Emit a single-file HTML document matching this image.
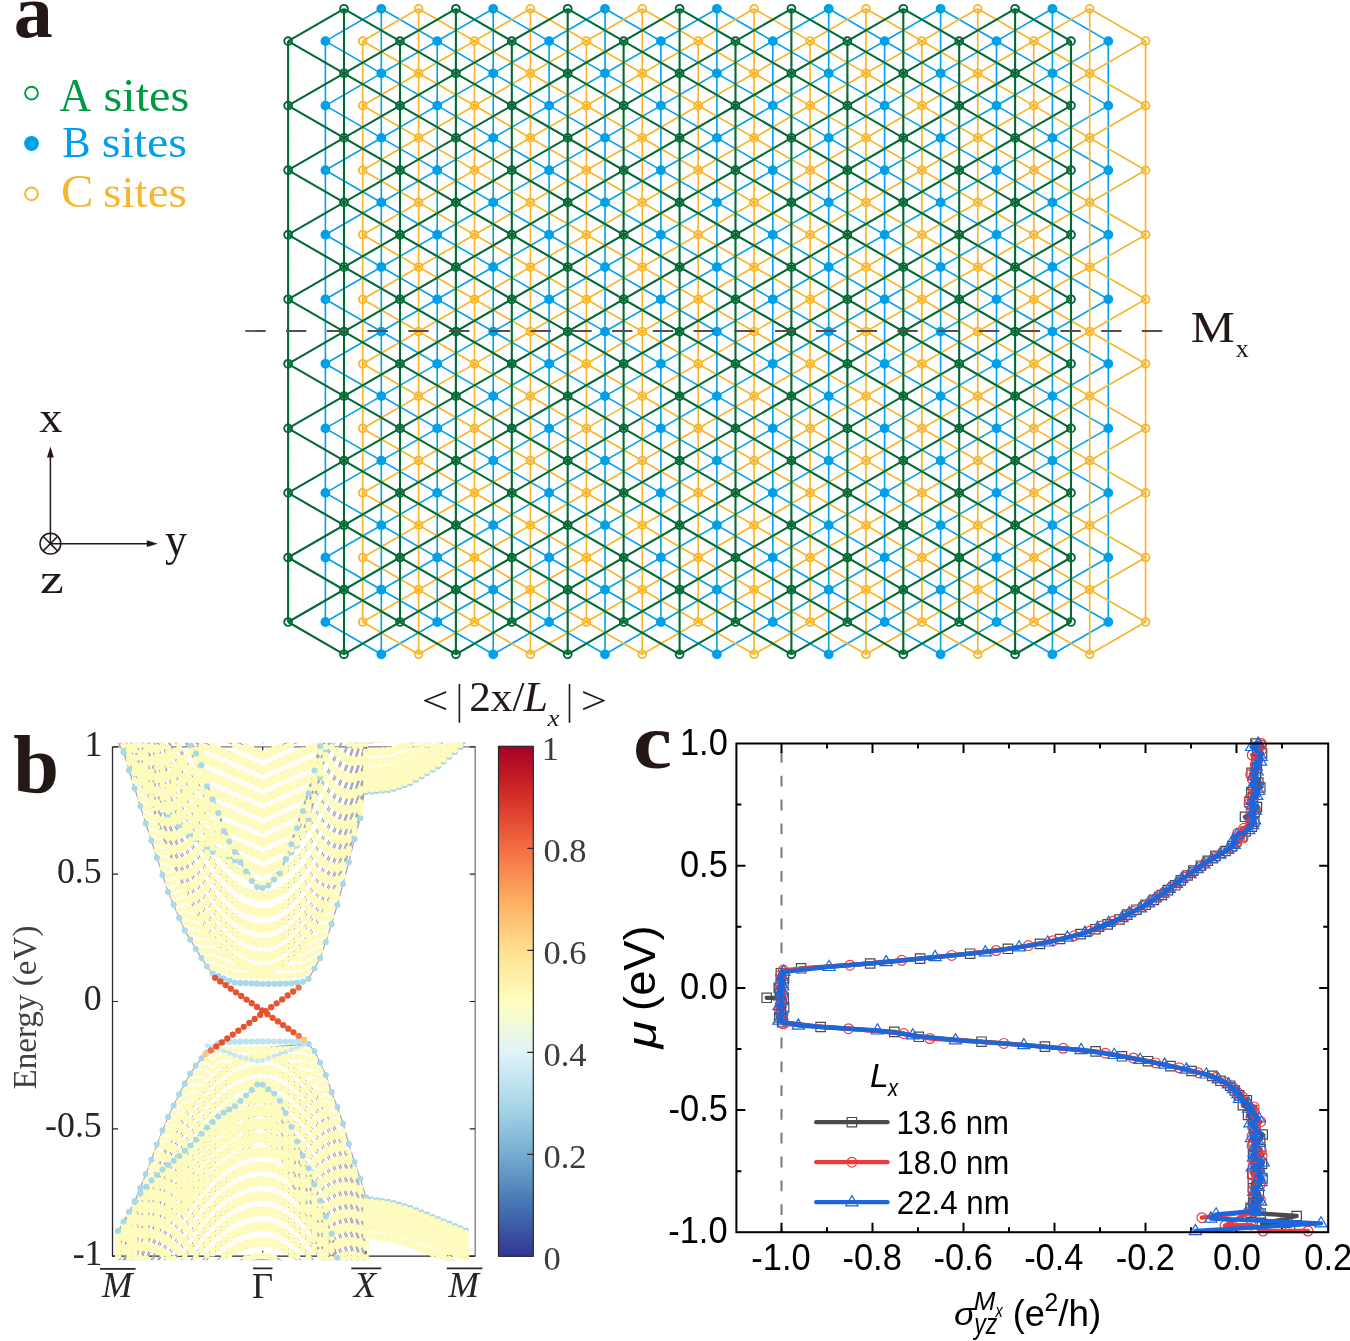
<!DOCTYPE html><html><head><meta charset="utf-8"><style>svg{will-change:transform}html,body{margin:0;padding:0;background:#fff;width:1350px;height:1341px;overflow:hidden;position:relative}</style></head><body><svg width="1350" height="1341" viewBox="0 0 1350 1341" style="position:absolute;left:0;top:0;display:block">
<rect width="1350" height="1341" fill="#fff"/>
<path d="M381.3 8.8L381.3 654.3M493.2 8.8L493.2 654.3M605 8.8L605 654.3M716.9 8.8L716.9 654.3M828.7 8.8L828.7 654.3M940.6 8.8L940.6 654.3M1052.4 8.8L1052.4 654.3M325.4 41.1L325.4 622M437.2 41.1L437.2 622M549.1 41.1L549.1 622M660.9 41.1L660.9 622M772.8 41.1L772.8 622M884.6 41.1L884.6 622M996.5 41.1L996.5 622M1108.3 41.1L1108.3 622M381.3 8.8L325.4 41.1M493.2 8.8L325.4 105.6M605 8.8L325.4 170.2M716.9 8.8L325.4 234.7M828.7 8.8L325.4 299.3M940.6 8.8L325.4 363.8M1052.4 8.8L325.4 428.4M1108.3 41.1L325.4 492.9M1108.3 105.6L325.4 557.5M1108.3 170.2L325.4 622M1108.3 234.7L381.3 654.3M1108.3 299.3L493.2 654.3M1108.3 363.8L605 654.3M1108.3 428.4L716.9 654.3M1108.3 492.9L828.7 654.3M1108.3 557.5L940.6 654.3M1108.3 622L1052.4 654.3M381.3 8.8L1108.3 428.4M493.2 8.8L1108.3 363.8M605 8.8L1108.3 299.3M716.9 8.8L1108.3 234.7M828.7 8.8L1108.3 170.2M940.6 8.8L1108.3 105.6M1052.4 8.8L1108.3 41.1M325.4 41.1L1108.3 492.9M325.4 105.6L1108.3 557.5M325.4 170.2L1108.3 622M325.4 234.7L1052.4 654.3M325.4 299.3L940.6 654.3M325.4 363.8L828.7 654.3M325.4 428.4L716.9 654.3M325.4 492.9L605 654.3M325.4 557.5L493.2 654.3M325.4 622L381.3 654.3" stroke="#00a0e9" stroke-width="1.6" fill="none"/>
<path d="M418.6 8.8L418.6 654.3M530.4 8.8L530.4 654.3M642.3 8.8L642.3 654.3M754.1 8.8L754.1 654.3M866 8.8L866 654.3M977.8 8.8L977.8 654.3M1089.7 8.8L1089.7 654.3M362.7 41.1L362.7 622M474.5 41.1L474.5 622M586.4 41.1L586.4 622M698.2 41.1L698.2 622M810.1 41.1L810.1 622M921.9 41.1L921.9 622M1033.8 41.1L1033.8 622M1145.6 41.1L1145.6 622M418.6 8.8L362.7 41.1M530.4 8.8L362.7 105.6M642.3 8.8L362.7 170.2M754.1 8.8L362.7 234.7M866 8.8L362.7 299.3M977.8 8.8L362.7 363.8M1089.7 8.8L362.7 428.4M1145.6 41.1L362.7 492.9M1145.6 105.6L362.7 557.5M1145.6 170.2L362.7 622M1145.6 234.7L418.6 654.3M1145.6 299.3L530.4 654.3M1145.6 363.8L642.3 654.3M1145.6 428.4L754.1 654.3M1145.6 492.9L866 654.3M1145.6 557.5L977.8 654.3M1145.6 622L1089.7 654.3M418.6 8.8L1145.6 428.4M530.4 8.8L1145.6 363.8M642.3 8.8L1145.6 299.3M754.1 8.8L1145.6 234.7M866 8.8L1145.6 170.2M977.8 8.8L1145.6 105.6M1089.7 8.8L1145.6 41.1M362.7 41.1L1145.6 492.9M362.7 105.6L1145.6 557.5M362.7 170.2L1145.6 622M362.7 234.7L1089.7 654.3M362.7 299.3L977.8 654.3M362.7 363.8L866 654.3M362.7 428.4L754.1 654.3M362.7 492.9L642.3 654.3M362.7 557.5L530.4 654.3M362.7 622L418.6 654.3" stroke="#f8b62d" stroke-width="1.7" fill="none"/>
<path d="M344 8.8L344 654.3M455.9 8.8L455.9 654.3M567.7 8.8L567.7 654.3M679.6 8.8L679.6 654.3M791.4 8.8L791.4 654.3M903.3 8.8L903.3 654.3M1015.1 8.8L1015.1 654.3M288.1 41.1L288.1 622M400 41.1L400 622M511.8 41.1L511.8 622M623.6 41.1L623.6 622M735.5 41.1L735.5 622M847.4 41.1L847.4 622M959.2 41.1L959.2 622M1071 41.1L1071 622M344 8.8L288.1 41.1M455.9 8.8L288.1 105.6M567.7 8.8L288.1 170.2M679.6 8.8L288.1 234.7M791.4 8.8L288.1 299.3M903.3 8.8L288.1 363.8M1015.1 8.8L288.1 428.4M1071 41.1L288.1 492.9M1071 105.6L288.1 557.5M1071 170.2L288.1 622M1071 234.7L344 654.3M1071 299.3L455.9 654.3M1071 363.8L567.7 654.3M1071 428.4L679.6 654.3M1071 492.9L791.4 654.3M1071 557.5L903.3 654.3M1071 622L1015.1 654.3M344 8.8L1071 428.4M455.9 8.8L1071 363.8M567.7 8.8L1071 299.3M679.6 8.8L1071 234.7M791.4 8.8L1071 170.2M903.3 8.8L1071 105.6M1015.1 8.8L1071 41.1M288.1 41.1L1071 492.9M288.1 105.6L1071 557.5M288.1 170.2L1071 622M288.1 234.7L1015.1 654.3M288.1 299.3L903.3 654.3M288.1 363.8L791.4 654.3M288.1 428.4L679.6 654.3M288.1 492.9L567.7 654.3M288.1 557.5L455.9 654.3M288.1 622L344 654.3" stroke="#006934" stroke-width="2.1" fill="none"/>
<path d="M381.3 8.8h0M493.2 8.8h0M605 8.8h0M716.9 8.8h0M828.7 8.8h0M940.6 8.8h0M1052.4 8.8h0M325.4 41.1h0M437.2 41.1h0M549.1 41.1h0M660.9 41.1h0M772.8 41.1h0M884.6 41.1h0M996.5 41.1h0M1108.3 41.1h0M381.3 73.3h0M493.2 73.3h0M605 73.3h0M716.9 73.3h0M828.7 73.3h0M940.6 73.3h0M1052.4 73.3h0M325.4 105.6h0M437.2 105.6h0M549.1 105.6h0M660.9 105.6h0M772.8 105.6h0M884.6 105.6h0M996.5 105.6h0M1108.3 105.6h0M381.3 137.9h0M493.2 137.9h0M605 137.9h0M716.9 137.9h0M828.7 137.9h0M940.6 137.9h0M1052.4 137.9h0M325.4 170.2h0M437.2 170.2h0M549.1 170.2h0M660.9 170.2h0M772.8 170.2h0M884.6 170.2h0M996.5 170.2h0M1108.3 170.2h0M381.3 202.4h0M493.2 202.4h0M605 202.4h0M716.9 202.4h0M828.7 202.4h0M940.6 202.4h0M1052.4 202.4h0M325.4 234.7h0M437.2 234.7h0M549.1 234.7h0M660.9 234.7h0M772.8 234.7h0M884.6 234.7h0M996.5 234.7h0M1108.3 234.7h0M381.3 267h0M493.2 267h0M605 267h0M716.9 267h0M828.7 267h0M940.6 267h0M1052.4 267h0M325.4 299.3h0M437.2 299.3h0M549.1 299.3h0M660.9 299.3h0M772.8 299.3h0M884.6 299.3h0M996.5 299.3h0M1108.3 299.3h0M381.3 331.6h0M493.2 331.6h0M605 331.6h0M716.9 331.6h0M828.7 331.6h0M940.6 331.6h0M1052.4 331.6h0M325.4 363.8h0M437.2 363.8h0M549.1 363.8h0M660.9 363.8h0M772.8 363.8h0M884.6 363.8h0M996.5 363.8h0M1108.3 363.8h0M381.3 396.1h0M493.2 396.1h0M605 396.1h0M716.9 396.1h0M828.7 396.1h0M940.6 396.1h0M1052.4 396.1h0M325.4 428.4h0M437.2 428.4h0M549.1 428.4h0M660.9 428.4h0M772.8 428.4h0M884.6 428.4h0M996.5 428.4h0M1108.3 428.4h0M381.3 460.6h0M493.2 460.6h0M605 460.6h0M716.9 460.6h0M828.7 460.6h0M940.6 460.6h0M1052.4 460.6h0M325.4 492.9h0M437.2 492.9h0M549.1 492.9h0M660.9 492.9h0M772.8 492.9h0M884.6 492.9h0M996.5 492.9h0M1108.3 492.9h0M381.3 525.2h0M493.2 525.2h0M605 525.2h0M716.9 525.2h0M828.7 525.2h0M940.6 525.2h0M1052.4 525.2h0M325.4 557.5h0M437.2 557.5h0M549.1 557.5h0M660.9 557.5h0M772.8 557.5h0M884.6 557.5h0M996.5 557.5h0M1108.3 557.5h0M381.3 589.7h0M493.2 589.7h0M605 589.7h0M716.9 589.7h0M828.7 589.7h0M940.6 589.7h0M1052.4 589.7h0M325.4 622h0M437.2 622h0M549.1 622h0M660.9 622h0M772.8 622h0M884.6 622h0M996.5 622h0M1108.3 622h0M381.3 654.3h0M493.2 654.3h0M605 654.3h0M716.9 654.3h0M828.7 654.3h0M940.6 654.3h0M1052.4 654.3h0" stroke="#00a0e9" stroke-width="9.8" stroke-linecap="round" fill="none"/>
<path d="M414.7 8.8a3.9 3.9 0 1 0 7.8 0a3.9 3.9 0 1 0 -7.8 0M526.5 8.8a3.9 3.9 0 1 0 7.8 0a3.9 3.9 0 1 0 -7.8 0M638.4 8.8a3.9 3.9 0 1 0 7.8 0a3.9 3.9 0 1 0 -7.8 0M750.2 8.8a3.9 3.9 0 1 0 7.8 0a3.9 3.9 0 1 0 -7.8 0M862.1 8.8a3.9 3.9 0 1 0 7.8 0a3.9 3.9 0 1 0 -7.8 0M973.9 8.8a3.9 3.9 0 1 0 7.8 0a3.9 3.9 0 1 0 -7.8 0M1085.8 8.8a3.9 3.9 0 1 0 7.8 0a3.9 3.9 0 1 0 -7.8 0M358.8 41.1a3.9 3.9 0 1 0 7.8 0a3.9 3.9 0 1 0 -7.8 0M470.6 41.1a3.9 3.9 0 1 0 7.8 0a3.9 3.9 0 1 0 -7.8 0M582.5 41.1a3.9 3.9 0 1 0 7.8 0a3.9 3.9 0 1 0 -7.8 0M694.3 41.1a3.9 3.9 0 1 0 7.8 0a3.9 3.9 0 1 0 -7.8 0M806.2 41.1a3.9 3.9 0 1 0 7.8 0a3.9 3.9 0 1 0 -7.8 0M918 41.1a3.9 3.9 0 1 0 7.8 0a3.9 3.9 0 1 0 -7.8 0M1029.9 41.1a3.9 3.9 0 1 0 7.8 0a3.9 3.9 0 1 0 -7.8 0M1141.7 41.1a3.9 3.9 0 1 0 7.8 0a3.9 3.9 0 1 0 -7.8 0M414.7 73.3a3.9 3.9 0 1 0 7.8 0a3.9 3.9 0 1 0 -7.8 0M526.5 73.3a3.9 3.9 0 1 0 7.8 0a3.9 3.9 0 1 0 -7.8 0M638.4 73.3a3.9 3.9 0 1 0 7.8 0a3.9 3.9 0 1 0 -7.8 0M750.2 73.3a3.9 3.9 0 1 0 7.8 0a3.9 3.9 0 1 0 -7.8 0M862.1 73.3a3.9 3.9 0 1 0 7.8 0a3.9 3.9 0 1 0 -7.8 0M973.9 73.3a3.9 3.9 0 1 0 7.8 0a3.9 3.9 0 1 0 -7.8 0M1085.8 73.3a3.9 3.9 0 1 0 7.8 0a3.9 3.9 0 1 0 -7.8 0M358.8 105.6a3.9 3.9 0 1 0 7.8 0a3.9 3.9 0 1 0 -7.8 0M470.6 105.6a3.9 3.9 0 1 0 7.8 0a3.9 3.9 0 1 0 -7.8 0M582.5 105.6a3.9 3.9 0 1 0 7.8 0a3.9 3.9 0 1 0 -7.8 0M694.3 105.6a3.9 3.9 0 1 0 7.8 0a3.9 3.9 0 1 0 -7.8 0M806.2 105.6a3.9 3.9 0 1 0 7.8 0a3.9 3.9 0 1 0 -7.8 0M918 105.6a3.9 3.9 0 1 0 7.8 0a3.9 3.9 0 1 0 -7.8 0M1029.9 105.6a3.9 3.9 0 1 0 7.8 0a3.9 3.9 0 1 0 -7.8 0M1141.7 105.6a3.9 3.9 0 1 0 7.8 0a3.9 3.9 0 1 0 -7.8 0M414.7 137.9a3.9 3.9 0 1 0 7.8 0a3.9 3.9 0 1 0 -7.8 0M526.5 137.9a3.9 3.9 0 1 0 7.8 0a3.9 3.9 0 1 0 -7.8 0M638.4 137.9a3.9 3.9 0 1 0 7.8 0a3.9 3.9 0 1 0 -7.8 0M750.2 137.9a3.9 3.9 0 1 0 7.8 0a3.9 3.9 0 1 0 -7.8 0M862.1 137.9a3.9 3.9 0 1 0 7.8 0a3.9 3.9 0 1 0 -7.8 0M973.9 137.9a3.9 3.9 0 1 0 7.8 0a3.9 3.9 0 1 0 -7.8 0M1085.8 137.9a3.9 3.9 0 1 0 7.8 0a3.9 3.9 0 1 0 -7.8 0M358.8 170.2a3.9 3.9 0 1 0 7.8 0a3.9 3.9 0 1 0 -7.8 0M470.6 170.2a3.9 3.9 0 1 0 7.8 0a3.9 3.9 0 1 0 -7.8 0M582.5 170.2a3.9 3.9 0 1 0 7.8 0a3.9 3.9 0 1 0 -7.8 0M694.3 170.2a3.9 3.9 0 1 0 7.8 0a3.9 3.9 0 1 0 -7.8 0M806.2 170.2a3.9 3.9 0 1 0 7.8 0a3.9 3.9 0 1 0 -7.8 0M918 170.2a3.9 3.9 0 1 0 7.8 0a3.9 3.9 0 1 0 -7.8 0M1029.9 170.2a3.9 3.9 0 1 0 7.8 0a3.9 3.9 0 1 0 -7.8 0M1141.7 170.2a3.9 3.9 0 1 0 7.8 0a3.9 3.9 0 1 0 -7.8 0M414.7 202.4a3.9 3.9 0 1 0 7.8 0a3.9 3.9 0 1 0 -7.8 0M526.5 202.4a3.9 3.9 0 1 0 7.8 0a3.9 3.9 0 1 0 -7.8 0M638.4 202.4a3.9 3.9 0 1 0 7.8 0a3.9 3.9 0 1 0 -7.8 0M750.2 202.4a3.9 3.9 0 1 0 7.8 0a3.9 3.9 0 1 0 -7.8 0M862.1 202.4a3.9 3.9 0 1 0 7.8 0a3.9 3.9 0 1 0 -7.8 0M973.9 202.4a3.9 3.9 0 1 0 7.8 0a3.9 3.9 0 1 0 -7.8 0M1085.8 202.4a3.9 3.9 0 1 0 7.8 0a3.9 3.9 0 1 0 -7.8 0M358.8 234.7a3.9 3.9 0 1 0 7.8 0a3.9 3.9 0 1 0 -7.8 0M470.6 234.7a3.9 3.9 0 1 0 7.8 0a3.9 3.9 0 1 0 -7.8 0M582.5 234.7a3.9 3.9 0 1 0 7.8 0a3.9 3.9 0 1 0 -7.8 0M694.3 234.7a3.9 3.9 0 1 0 7.8 0a3.9 3.9 0 1 0 -7.8 0M806.2 234.7a3.9 3.9 0 1 0 7.8 0a3.9 3.9 0 1 0 -7.8 0M918 234.7a3.9 3.9 0 1 0 7.8 0a3.9 3.9 0 1 0 -7.8 0M1029.9 234.7a3.9 3.9 0 1 0 7.8 0a3.9 3.9 0 1 0 -7.8 0M1141.7 234.7a3.9 3.9 0 1 0 7.8 0a3.9 3.9 0 1 0 -7.8 0M414.7 267a3.9 3.9 0 1 0 7.8 0a3.9 3.9 0 1 0 -7.8 0M526.5 267a3.9 3.9 0 1 0 7.8 0a3.9 3.9 0 1 0 -7.8 0M638.4 267a3.9 3.9 0 1 0 7.8 0a3.9 3.9 0 1 0 -7.8 0M750.2 267a3.9 3.9 0 1 0 7.8 0a3.9 3.9 0 1 0 -7.8 0M862.1 267a3.9 3.9 0 1 0 7.8 0a3.9 3.9 0 1 0 -7.8 0M973.9 267a3.9 3.9 0 1 0 7.8 0a3.9 3.9 0 1 0 -7.8 0M1085.8 267a3.9 3.9 0 1 0 7.8 0a3.9 3.9 0 1 0 -7.8 0M358.8 299.3a3.9 3.9 0 1 0 7.8 0a3.9 3.9 0 1 0 -7.8 0M470.6 299.3a3.9 3.9 0 1 0 7.8 0a3.9 3.9 0 1 0 -7.8 0M582.5 299.3a3.9 3.9 0 1 0 7.8 0a3.9 3.9 0 1 0 -7.8 0M694.3 299.3a3.9 3.9 0 1 0 7.8 0a3.9 3.9 0 1 0 -7.8 0M806.2 299.3a3.9 3.9 0 1 0 7.8 0a3.9 3.9 0 1 0 -7.8 0M918 299.3a3.9 3.9 0 1 0 7.8 0a3.9 3.9 0 1 0 -7.8 0M1029.9 299.3a3.9 3.9 0 1 0 7.8 0a3.9 3.9 0 1 0 -7.8 0M1141.7 299.3a3.9 3.9 0 1 0 7.8 0a3.9 3.9 0 1 0 -7.8 0M414.7 331.6a3.9 3.9 0 1 0 7.8 0a3.9 3.9 0 1 0 -7.8 0M526.5 331.6a3.9 3.9 0 1 0 7.8 0a3.9 3.9 0 1 0 -7.8 0M638.4 331.6a3.9 3.9 0 1 0 7.8 0a3.9 3.9 0 1 0 -7.8 0M750.2 331.6a3.9 3.9 0 1 0 7.8 0a3.9 3.9 0 1 0 -7.8 0M862.1 331.6a3.9 3.9 0 1 0 7.8 0a3.9 3.9 0 1 0 -7.8 0M973.9 331.6a3.9 3.9 0 1 0 7.8 0a3.9 3.9 0 1 0 -7.8 0M1085.8 331.6a3.9 3.9 0 1 0 7.8 0a3.9 3.9 0 1 0 -7.8 0M358.8 363.8a3.9 3.9 0 1 0 7.8 0a3.9 3.9 0 1 0 -7.8 0M470.6 363.8a3.9 3.9 0 1 0 7.8 0a3.9 3.9 0 1 0 -7.8 0M582.5 363.8a3.9 3.9 0 1 0 7.8 0a3.9 3.9 0 1 0 -7.8 0M694.3 363.8a3.9 3.9 0 1 0 7.8 0a3.9 3.9 0 1 0 -7.8 0M806.2 363.8a3.9 3.9 0 1 0 7.8 0a3.9 3.9 0 1 0 -7.8 0M918 363.8a3.9 3.9 0 1 0 7.8 0a3.9 3.9 0 1 0 -7.8 0M1029.9 363.8a3.9 3.9 0 1 0 7.8 0a3.9 3.9 0 1 0 -7.8 0M1141.7 363.8a3.9 3.9 0 1 0 7.8 0a3.9 3.9 0 1 0 -7.8 0M414.7 396.1a3.9 3.9 0 1 0 7.8 0a3.9 3.9 0 1 0 -7.8 0M526.5 396.1a3.9 3.9 0 1 0 7.8 0a3.9 3.9 0 1 0 -7.8 0M638.4 396.1a3.9 3.9 0 1 0 7.8 0a3.9 3.9 0 1 0 -7.8 0M750.2 396.1a3.9 3.9 0 1 0 7.8 0a3.9 3.9 0 1 0 -7.8 0M862.1 396.1a3.9 3.9 0 1 0 7.8 0a3.9 3.9 0 1 0 -7.8 0M973.9 396.1a3.9 3.9 0 1 0 7.8 0a3.9 3.9 0 1 0 -7.8 0M1085.8 396.1a3.9 3.9 0 1 0 7.8 0a3.9 3.9 0 1 0 -7.8 0M358.8 428.4a3.9 3.9 0 1 0 7.8 0a3.9 3.9 0 1 0 -7.8 0M470.6 428.4a3.9 3.9 0 1 0 7.8 0a3.9 3.9 0 1 0 -7.8 0M582.5 428.4a3.9 3.9 0 1 0 7.8 0a3.9 3.9 0 1 0 -7.8 0M694.3 428.4a3.9 3.9 0 1 0 7.8 0a3.9 3.9 0 1 0 -7.8 0M806.2 428.4a3.9 3.9 0 1 0 7.8 0a3.9 3.9 0 1 0 -7.8 0M918 428.4a3.9 3.9 0 1 0 7.8 0a3.9 3.9 0 1 0 -7.8 0M1029.9 428.4a3.9 3.9 0 1 0 7.8 0a3.9 3.9 0 1 0 -7.8 0M1141.7 428.4a3.9 3.9 0 1 0 7.8 0a3.9 3.9 0 1 0 -7.8 0M414.7 460.6a3.9 3.9 0 1 0 7.8 0a3.9 3.9 0 1 0 -7.8 0M526.5 460.6a3.9 3.9 0 1 0 7.8 0a3.9 3.9 0 1 0 -7.8 0M638.4 460.6a3.9 3.9 0 1 0 7.8 0a3.9 3.9 0 1 0 -7.8 0M750.2 460.6a3.9 3.9 0 1 0 7.8 0a3.9 3.9 0 1 0 -7.8 0M862.1 460.6a3.9 3.9 0 1 0 7.8 0a3.9 3.9 0 1 0 -7.8 0M973.9 460.6a3.9 3.9 0 1 0 7.8 0a3.9 3.9 0 1 0 -7.8 0M1085.8 460.6a3.9 3.9 0 1 0 7.8 0a3.9 3.9 0 1 0 -7.8 0M358.8 492.9a3.9 3.9 0 1 0 7.8 0a3.9 3.9 0 1 0 -7.8 0M470.6 492.9a3.9 3.9 0 1 0 7.8 0a3.9 3.9 0 1 0 -7.8 0M582.5 492.9a3.9 3.9 0 1 0 7.8 0a3.9 3.9 0 1 0 -7.8 0M694.3 492.9a3.9 3.9 0 1 0 7.8 0a3.9 3.9 0 1 0 -7.8 0M806.2 492.9a3.9 3.9 0 1 0 7.8 0a3.9 3.9 0 1 0 -7.8 0M918 492.9a3.9 3.9 0 1 0 7.8 0a3.9 3.9 0 1 0 -7.8 0M1029.9 492.9a3.9 3.9 0 1 0 7.8 0a3.9 3.9 0 1 0 -7.8 0M1141.7 492.9a3.9 3.9 0 1 0 7.8 0a3.9 3.9 0 1 0 -7.8 0M414.7 525.2a3.9 3.9 0 1 0 7.8 0a3.9 3.9 0 1 0 -7.8 0M526.5 525.2a3.9 3.9 0 1 0 7.8 0a3.9 3.9 0 1 0 -7.8 0M638.4 525.2a3.9 3.9 0 1 0 7.8 0a3.9 3.9 0 1 0 -7.8 0M750.2 525.2a3.9 3.9 0 1 0 7.8 0a3.9 3.9 0 1 0 -7.8 0M862.1 525.2a3.9 3.9 0 1 0 7.8 0a3.9 3.9 0 1 0 -7.8 0M973.9 525.2a3.9 3.9 0 1 0 7.8 0a3.9 3.9 0 1 0 -7.8 0M1085.8 525.2a3.9 3.9 0 1 0 7.8 0a3.9 3.9 0 1 0 -7.8 0M358.8 557.5a3.9 3.9 0 1 0 7.8 0a3.9 3.9 0 1 0 -7.8 0M470.6 557.5a3.9 3.9 0 1 0 7.8 0a3.9 3.9 0 1 0 -7.8 0M582.5 557.5a3.9 3.9 0 1 0 7.8 0a3.9 3.9 0 1 0 -7.8 0M694.3 557.5a3.9 3.9 0 1 0 7.8 0a3.9 3.9 0 1 0 -7.8 0M806.2 557.5a3.9 3.9 0 1 0 7.8 0a3.9 3.9 0 1 0 -7.8 0M918 557.5a3.9 3.9 0 1 0 7.8 0a3.9 3.9 0 1 0 -7.8 0M1029.9 557.5a3.9 3.9 0 1 0 7.8 0a3.9 3.9 0 1 0 -7.8 0M1141.7 557.5a3.9 3.9 0 1 0 7.8 0a3.9 3.9 0 1 0 -7.8 0M414.7 589.7a3.9 3.9 0 1 0 7.8 0a3.9 3.9 0 1 0 -7.8 0M526.5 589.7a3.9 3.9 0 1 0 7.8 0a3.9 3.9 0 1 0 -7.8 0M638.4 589.7a3.9 3.9 0 1 0 7.8 0a3.9 3.9 0 1 0 -7.8 0M750.2 589.7a3.9 3.9 0 1 0 7.8 0a3.9 3.9 0 1 0 -7.8 0M862.1 589.7a3.9 3.9 0 1 0 7.8 0a3.9 3.9 0 1 0 -7.8 0M973.9 589.7a3.9 3.9 0 1 0 7.8 0a3.9 3.9 0 1 0 -7.8 0M1085.8 589.7a3.9 3.9 0 1 0 7.8 0a3.9 3.9 0 1 0 -7.8 0M358.8 622a3.9 3.9 0 1 0 7.8 0a3.9 3.9 0 1 0 -7.8 0M470.6 622a3.9 3.9 0 1 0 7.8 0a3.9 3.9 0 1 0 -7.8 0M582.5 622a3.9 3.9 0 1 0 7.8 0a3.9 3.9 0 1 0 -7.8 0M694.3 622a3.9 3.9 0 1 0 7.8 0a3.9 3.9 0 1 0 -7.8 0M806.2 622a3.9 3.9 0 1 0 7.8 0a3.9 3.9 0 1 0 -7.8 0M918 622a3.9 3.9 0 1 0 7.8 0a3.9 3.9 0 1 0 -7.8 0M1029.9 622a3.9 3.9 0 1 0 7.8 0a3.9 3.9 0 1 0 -7.8 0M1141.7 622a3.9 3.9 0 1 0 7.8 0a3.9 3.9 0 1 0 -7.8 0M414.7 654.3a3.9 3.9 0 1 0 7.8 0a3.9 3.9 0 1 0 -7.8 0M526.5 654.3a3.9 3.9 0 1 0 7.8 0a3.9 3.9 0 1 0 -7.8 0M638.4 654.3a3.9 3.9 0 1 0 7.8 0a3.9 3.9 0 1 0 -7.8 0M750.2 654.3a3.9 3.9 0 1 0 7.8 0a3.9 3.9 0 1 0 -7.8 0M862.1 654.3a3.9 3.9 0 1 0 7.8 0a3.9 3.9 0 1 0 -7.8 0M973.9 654.3a3.9 3.9 0 1 0 7.8 0a3.9 3.9 0 1 0 -7.8 0M1085.8 654.3a3.9 3.9 0 1 0 7.8 0a3.9 3.9 0 1 0 -7.8 0" stroke="#f8b62d" stroke-width="1.8" fill="none"/>
<path d="M340.1 8.8a3.9 3.9 0 1 0 7.8 0a3.9 3.9 0 1 0 -7.8 0M452 8.8a3.9 3.9 0 1 0 7.8 0a3.9 3.9 0 1 0 -7.8 0M563.8 8.8a3.9 3.9 0 1 0 7.8 0a3.9 3.9 0 1 0 -7.8 0M675.7 8.8a3.9 3.9 0 1 0 7.8 0a3.9 3.9 0 1 0 -7.8 0M787.5 8.8a3.9 3.9 0 1 0 7.8 0a3.9 3.9 0 1 0 -7.8 0M899.4 8.8a3.9 3.9 0 1 0 7.8 0a3.9 3.9 0 1 0 -7.8 0M1011.2 8.8a3.9 3.9 0 1 0 7.8 0a3.9 3.9 0 1 0 -7.8 0M284.2 41.1a3.9 3.9 0 1 0 7.8 0a3.9 3.9 0 1 0 -7.8 0M396.1 41.1a3.9 3.9 0 1 0 7.8 0a3.9 3.9 0 1 0 -7.8 0M507.9 41.1a3.9 3.9 0 1 0 7.8 0a3.9 3.9 0 1 0 -7.8 0M619.8 41.1a3.9 3.9 0 1 0 7.8 0a3.9 3.9 0 1 0 -7.8 0M731.6 41.1a3.9 3.9 0 1 0 7.8 0a3.9 3.9 0 1 0 -7.8 0M843.5 41.1a3.9 3.9 0 1 0 7.8 0a3.9 3.9 0 1 0 -7.8 0M955.3 41.1a3.9 3.9 0 1 0 7.8 0a3.9 3.9 0 1 0 -7.8 0M1067.1 41.1a3.9 3.9 0 1 0 7.8 0a3.9 3.9 0 1 0 -7.8 0M340.1 73.3a3.9 3.9 0 1 0 7.8 0a3.9 3.9 0 1 0 -7.8 0M452 73.3a3.9 3.9 0 1 0 7.8 0a3.9 3.9 0 1 0 -7.8 0M563.8 73.3a3.9 3.9 0 1 0 7.8 0a3.9 3.9 0 1 0 -7.8 0M675.7 73.3a3.9 3.9 0 1 0 7.8 0a3.9 3.9 0 1 0 -7.8 0M787.5 73.3a3.9 3.9 0 1 0 7.8 0a3.9 3.9 0 1 0 -7.8 0M899.4 73.3a3.9 3.9 0 1 0 7.8 0a3.9 3.9 0 1 0 -7.8 0M1011.2 73.3a3.9 3.9 0 1 0 7.8 0a3.9 3.9 0 1 0 -7.8 0M284.2 105.6a3.9 3.9 0 1 0 7.8 0a3.9 3.9 0 1 0 -7.8 0M396.1 105.6a3.9 3.9 0 1 0 7.8 0a3.9 3.9 0 1 0 -7.8 0M507.9 105.6a3.9 3.9 0 1 0 7.8 0a3.9 3.9 0 1 0 -7.8 0M619.8 105.6a3.9 3.9 0 1 0 7.8 0a3.9 3.9 0 1 0 -7.8 0M731.6 105.6a3.9 3.9 0 1 0 7.8 0a3.9 3.9 0 1 0 -7.8 0M843.5 105.6a3.9 3.9 0 1 0 7.8 0a3.9 3.9 0 1 0 -7.8 0M955.3 105.6a3.9 3.9 0 1 0 7.8 0a3.9 3.9 0 1 0 -7.8 0M1067.1 105.6a3.9 3.9 0 1 0 7.8 0a3.9 3.9 0 1 0 -7.8 0M340.1 137.9a3.9 3.9 0 1 0 7.8 0a3.9 3.9 0 1 0 -7.8 0M452 137.9a3.9 3.9 0 1 0 7.8 0a3.9 3.9 0 1 0 -7.8 0M563.8 137.9a3.9 3.9 0 1 0 7.8 0a3.9 3.9 0 1 0 -7.8 0M675.7 137.9a3.9 3.9 0 1 0 7.8 0a3.9 3.9 0 1 0 -7.8 0M787.5 137.9a3.9 3.9 0 1 0 7.8 0a3.9 3.9 0 1 0 -7.8 0M899.4 137.9a3.9 3.9 0 1 0 7.8 0a3.9 3.9 0 1 0 -7.8 0M1011.2 137.9a3.9 3.9 0 1 0 7.8 0a3.9 3.9 0 1 0 -7.8 0M284.2 170.2a3.9 3.9 0 1 0 7.8 0a3.9 3.9 0 1 0 -7.8 0M396.1 170.2a3.9 3.9 0 1 0 7.8 0a3.9 3.9 0 1 0 -7.8 0M507.9 170.2a3.9 3.9 0 1 0 7.8 0a3.9 3.9 0 1 0 -7.8 0M619.8 170.2a3.9 3.9 0 1 0 7.8 0a3.9 3.9 0 1 0 -7.8 0M731.6 170.2a3.9 3.9 0 1 0 7.8 0a3.9 3.9 0 1 0 -7.8 0M843.5 170.2a3.9 3.9 0 1 0 7.8 0a3.9 3.9 0 1 0 -7.8 0M955.3 170.2a3.9 3.9 0 1 0 7.8 0a3.9 3.9 0 1 0 -7.8 0M1067.1 170.2a3.9 3.9 0 1 0 7.8 0a3.9 3.9 0 1 0 -7.8 0M340.1 202.4a3.9 3.9 0 1 0 7.8 0a3.9 3.9 0 1 0 -7.8 0M452 202.4a3.9 3.9 0 1 0 7.8 0a3.9 3.9 0 1 0 -7.8 0M563.8 202.4a3.9 3.9 0 1 0 7.8 0a3.9 3.9 0 1 0 -7.8 0M675.7 202.4a3.9 3.9 0 1 0 7.8 0a3.9 3.9 0 1 0 -7.8 0M787.5 202.4a3.9 3.9 0 1 0 7.8 0a3.9 3.9 0 1 0 -7.8 0M899.4 202.4a3.9 3.9 0 1 0 7.8 0a3.9 3.9 0 1 0 -7.8 0M1011.2 202.4a3.9 3.9 0 1 0 7.8 0a3.9 3.9 0 1 0 -7.8 0M284.2 234.7a3.9 3.9 0 1 0 7.8 0a3.9 3.9 0 1 0 -7.8 0M396.1 234.7a3.9 3.9 0 1 0 7.8 0a3.9 3.9 0 1 0 -7.8 0M507.9 234.7a3.9 3.9 0 1 0 7.8 0a3.9 3.9 0 1 0 -7.8 0M619.8 234.7a3.9 3.9 0 1 0 7.8 0a3.9 3.9 0 1 0 -7.8 0M731.6 234.7a3.9 3.9 0 1 0 7.8 0a3.9 3.9 0 1 0 -7.8 0M843.5 234.7a3.9 3.9 0 1 0 7.8 0a3.9 3.9 0 1 0 -7.8 0M955.3 234.7a3.9 3.9 0 1 0 7.8 0a3.9 3.9 0 1 0 -7.8 0M1067.1 234.7a3.9 3.9 0 1 0 7.8 0a3.9 3.9 0 1 0 -7.8 0M340.1 267a3.9 3.9 0 1 0 7.8 0a3.9 3.9 0 1 0 -7.8 0M452 267a3.9 3.9 0 1 0 7.8 0a3.9 3.9 0 1 0 -7.8 0M563.8 267a3.9 3.9 0 1 0 7.8 0a3.9 3.9 0 1 0 -7.8 0M675.7 267a3.9 3.9 0 1 0 7.8 0a3.9 3.9 0 1 0 -7.8 0M787.5 267a3.9 3.9 0 1 0 7.8 0a3.9 3.9 0 1 0 -7.8 0M899.4 267a3.9 3.9 0 1 0 7.8 0a3.9 3.9 0 1 0 -7.8 0M1011.2 267a3.9 3.9 0 1 0 7.8 0a3.9 3.9 0 1 0 -7.8 0M284.2 299.3a3.9 3.9 0 1 0 7.8 0a3.9 3.9 0 1 0 -7.8 0M396.1 299.3a3.9 3.9 0 1 0 7.8 0a3.9 3.9 0 1 0 -7.8 0M507.9 299.3a3.9 3.9 0 1 0 7.8 0a3.9 3.9 0 1 0 -7.8 0M619.8 299.3a3.9 3.9 0 1 0 7.8 0a3.9 3.9 0 1 0 -7.8 0M731.6 299.3a3.9 3.9 0 1 0 7.8 0a3.9 3.9 0 1 0 -7.8 0M843.5 299.3a3.9 3.9 0 1 0 7.8 0a3.9 3.9 0 1 0 -7.8 0M955.3 299.3a3.9 3.9 0 1 0 7.8 0a3.9 3.9 0 1 0 -7.8 0M1067.1 299.3a3.9 3.9 0 1 0 7.8 0a3.9 3.9 0 1 0 -7.8 0M340.1 331.6a3.9 3.9 0 1 0 7.8 0a3.9 3.9 0 1 0 -7.8 0M452 331.6a3.9 3.9 0 1 0 7.8 0a3.9 3.9 0 1 0 -7.8 0M563.8 331.6a3.9 3.9 0 1 0 7.8 0a3.9 3.9 0 1 0 -7.8 0M675.7 331.6a3.9 3.9 0 1 0 7.8 0a3.9 3.9 0 1 0 -7.8 0M787.5 331.6a3.9 3.9 0 1 0 7.8 0a3.9 3.9 0 1 0 -7.8 0M899.4 331.6a3.9 3.9 0 1 0 7.8 0a3.9 3.9 0 1 0 -7.8 0M1011.2 331.6a3.9 3.9 0 1 0 7.8 0a3.9 3.9 0 1 0 -7.8 0M284.2 363.8a3.9 3.9 0 1 0 7.8 0a3.9 3.9 0 1 0 -7.8 0M396.1 363.8a3.9 3.9 0 1 0 7.8 0a3.9 3.9 0 1 0 -7.8 0M507.9 363.8a3.9 3.9 0 1 0 7.8 0a3.9 3.9 0 1 0 -7.8 0M619.8 363.8a3.9 3.9 0 1 0 7.8 0a3.9 3.9 0 1 0 -7.8 0M731.6 363.8a3.9 3.9 0 1 0 7.8 0a3.9 3.9 0 1 0 -7.8 0M843.5 363.8a3.9 3.9 0 1 0 7.8 0a3.9 3.9 0 1 0 -7.8 0M955.3 363.8a3.9 3.9 0 1 0 7.8 0a3.9 3.9 0 1 0 -7.8 0M1067.1 363.8a3.9 3.9 0 1 0 7.8 0a3.9 3.9 0 1 0 -7.8 0M340.1 396.1a3.9 3.9 0 1 0 7.8 0a3.9 3.9 0 1 0 -7.8 0M452 396.1a3.9 3.9 0 1 0 7.8 0a3.9 3.9 0 1 0 -7.8 0M563.8 396.1a3.9 3.9 0 1 0 7.8 0a3.9 3.9 0 1 0 -7.8 0M675.7 396.1a3.9 3.9 0 1 0 7.8 0a3.9 3.9 0 1 0 -7.8 0M787.5 396.1a3.9 3.9 0 1 0 7.8 0a3.9 3.9 0 1 0 -7.8 0M899.4 396.1a3.9 3.9 0 1 0 7.8 0a3.9 3.9 0 1 0 -7.8 0M1011.2 396.1a3.9 3.9 0 1 0 7.8 0a3.9 3.9 0 1 0 -7.8 0M284.2 428.4a3.9 3.9 0 1 0 7.8 0a3.9 3.9 0 1 0 -7.8 0M396.1 428.4a3.9 3.9 0 1 0 7.8 0a3.9 3.9 0 1 0 -7.8 0M507.9 428.4a3.9 3.9 0 1 0 7.8 0a3.9 3.9 0 1 0 -7.8 0M619.8 428.4a3.9 3.9 0 1 0 7.8 0a3.9 3.9 0 1 0 -7.8 0M731.6 428.4a3.9 3.9 0 1 0 7.8 0a3.9 3.9 0 1 0 -7.8 0M843.5 428.4a3.9 3.9 0 1 0 7.8 0a3.9 3.9 0 1 0 -7.8 0M955.3 428.4a3.9 3.9 0 1 0 7.8 0a3.9 3.9 0 1 0 -7.8 0M1067.1 428.4a3.9 3.9 0 1 0 7.8 0a3.9 3.9 0 1 0 -7.8 0M340.1 460.6a3.9 3.9 0 1 0 7.8 0a3.9 3.9 0 1 0 -7.8 0M452 460.6a3.9 3.9 0 1 0 7.8 0a3.9 3.9 0 1 0 -7.8 0M563.8 460.6a3.9 3.9 0 1 0 7.8 0a3.9 3.9 0 1 0 -7.8 0M675.7 460.6a3.9 3.9 0 1 0 7.8 0a3.9 3.9 0 1 0 -7.8 0M787.5 460.6a3.9 3.9 0 1 0 7.8 0a3.9 3.9 0 1 0 -7.8 0M899.4 460.6a3.9 3.9 0 1 0 7.8 0a3.9 3.9 0 1 0 -7.8 0M1011.2 460.6a3.9 3.9 0 1 0 7.8 0a3.9 3.9 0 1 0 -7.8 0M284.2 492.9a3.9 3.9 0 1 0 7.8 0a3.9 3.9 0 1 0 -7.8 0M396.1 492.9a3.9 3.9 0 1 0 7.8 0a3.9 3.9 0 1 0 -7.8 0M507.9 492.9a3.9 3.9 0 1 0 7.8 0a3.9 3.9 0 1 0 -7.8 0M619.8 492.9a3.9 3.9 0 1 0 7.8 0a3.9 3.9 0 1 0 -7.8 0M731.6 492.9a3.9 3.9 0 1 0 7.8 0a3.9 3.9 0 1 0 -7.8 0M843.5 492.9a3.9 3.9 0 1 0 7.8 0a3.9 3.9 0 1 0 -7.8 0M955.3 492.9a3.9 3.9 0 1 0 7.8 0a3.9 3.9 0 1 0 -7.8 0M1067.1 492.9a3.9 3.9 0 1 0 7.8 0a3.9 3.9 0 1 0 -7.8 0M340.1 525.2a3.9 3.9 0 1 0 7.8 0a3.9 3.9 0 1 0 -7.8 0M452 525.2a3.9 3.9 0 1 0 7.8 0a3.9 3.9 0 1 0 -7.8 0M563.8 525.2a3.9 3.9 0 1 0 7.8 0a3.9 3.9 0 1 0 -7.8 0M675.7 525.2a3.9 3.9 0 1 0 7.8 0a3.9 3.9 0 1 0 -7.8 0M787.5 525.2a3.9 3.9 0 1 0 7.8 0a3.9 3.9 0 1 0 -7.8 0M899.4 525.2a3.9 3.9 0 1 0 7.8 0a3.9 3.9 0 1 0 -7.8 0M1011.2 525.2a3.9 3.9 0 1 0 7.8 0a3.9 3.9 0 1 0 -7.8 0M284.2 557.5a3.9 3.9 0 1 0 7.8 0a3.9 3.9 0 1 0 -7.8 0M396.1 557.5a3.9 3.9 0 1 0 7.8 0a3.9 3.9 0 1 0 -7.8 0M507.9 557.5a3.9 3.9 0 1 0 7.8 0a3.9 3.9 0 1 0 -7.8 0M619.8 557.5a3.9 3.9 0 1 0 7.8 0a3.9 3.9 0 1 0 -7.8 0M731.6 557.5a3.9 3.9 0 1 0 7.8 0a3.9 3.9 0 1 0 -7.8 0M843.5 557.5a3.9 3.9 0 1 0 7.8 0a3.9 3.9 0 1 0 -7.8 0M955.3 557.5a3.9 3.9 0 1 0 7.8 0a3.9 3.9 0 1 0 -7.8 0M1067.1 557.5a3.9 3.9 0 1 0 7.8 0a3.9 3.9 0 1 0 -7.8 0M340.1 589.7a3.9 3.9 0 1 0 7.8 0a3.9 3.9 0 1 0 -7.8 0M452 589.7a3.9 3.9 0 1 0 7.8 0a3.9 3.9 0 1 0 -7.8 0M563.8 589.7a3.9 3.9 0 1 0 7.8 0a3.9 3.9 0 1 0 -7.8 0M675.7 589.7a3.9 3.9 0 1 0 7.8 0a3.9 3.9 0 1 0 -7.8 0M787.5 589.7a3.9 3.9 0 1 0 7.8 0a3.9 3.9 0 1 0 -7.8 0M899.4 589.7a3.9 3.9 0 1 0 7.8 0a3.9 3.9 0 1 0 -7.8 0M1011.2 589.7a3.9 3.9 0 1 0 7.8 0a3.9 3.9 0 1 0 -7.8 0M284.2 622a3.9 3.9 0 1 0 7.8 0a3.9 3.9 0 1 0 -7.8 0M396.1 622a3.9 3.9 0 1 0 7.8 0a3.9 3.9 0 1 0 -7.8 0M507.9 622a3.9 3.9 0 1 0 7.8 0a3.9 3.9 0 1 0 -7.8 0M619.8 622a3.9 3.9 0 1 0 7.8 0a3.9 3.9 0 1 0 -7.8 0M731.6 622a3.9 3.9 0 1 0 7.8 0a3.9 3.9 0 1 0 -7.8 0M843.5 622a3.9 3.9 0 1 0 7.8 0a3.9 3.9 0 1 0 -7.8 0M955.3 622a3.9 3.9 0 1 0 7.8 0a3.9 3.9 0 1 0 -7.8 0M1067.1 622a3.9 3.9 0 1 0 7.8 0a3.9 3.9 0 1 0 -7.8 0M340.1 654.3a3.9 3.9 0 1 0 7.8 0a3.9 3.9 0 1 0 -7.8 0M452 654.3a3.9 3.9 0 1 0 7.8 0a3.9 3.9 0 1 0 -7.8 0M563.8 654.3a3.9 3.9 0 1 0 7.8 0a3.9 3.9 0 1 0 -7.8 0M675.7 654.3a3.9 3.9 0 1 0 7.8 0a3.9 3.9 0 1 0 -7.8 0M787.5 654.3a3.9 3.9 0 1 0 7.8 0a3.9 3.9 0 1 0 -7.8 0M899.4 654.3a3.9 3.9 0 1 0 7.8 0a3.9 3.9 0 1 0 -7.8 0M1011.2 654.3a3.9 3.9 0 1 0 7.8 0a3.9 3.9 0 1 0 -7.8 0" stroke="#006934" stroke-width="1.9" fill="none"/>
<line x1="245.2" y1="331" x2="1163.5" y2="331" stroke="#564e4e" stroke-width="1.8" stroke-dasharray="20.4 20.36"/>
<text transform="translate(1190.71 341.55) scale(1.104 1)" font-family="Liberation Serif, serif" font-size="44.85" fill="#231815">M</text>
<text transform="translate(1235.74 356.9) scale(1.07 1)" font-family="Liberation Serif, serif" font-size="24.35" fill="#231815">x</text>
<text transform="translate(13.76 37.23) scale(1.012 1)" font-family="Liberation Serif, serif" font-size="77.08" font-weight="bold" fill="#231815">a</text>
<circle cx="31.5" cy="93.1" r="6.4" fill="none" stroke="#009944" stroke-width="1.9"/>
<circle cx="31.5" cy="143.5" r="7.4" fill="#00a0e9"/>
<circle cx="31.5" cy="193.9" r="6.4" fill="none" stroke="#f8b62d" stroke-width="1.9"/>
<text transform="translate(59.46 110.9) scale(0.933 1)" font-family="Liberation Serif, serif" font-size="46.97" fill="#009944">A</text>
<text transform="translate(103.57 110.54) scale(1.058 1)" font-family="Liberation Serif, serif" font-size="45.52" fill="#009944">sites</text>
<text transform="translate(62.23 156.55) scale(0.945 1)" font-family="Liberation Serif, serif" font-size="44.85" fill="#00a0e9">B</text>
<text transform="translate(101.78 156.76) scale(1.078 1)" font-family="Liberation Serif, serif" font-size="44.48" fill="#00a0e9">sites</text>
<text transform="translate(61.06 206.89) scale(1.069 1)" font-family="Liberation Serif, serif" font-size="45.44" fill="#f8b62d">C</text>
<text transform="translate(103.11 207.35) scale(1.043 1)" font-family="Liberation Serif, serif" font-size="45.22" fill="#f8b62d">sites</text>
<g stroke="#231815" fill="none" stroke-width="1.5">
<line x1="50.4" y1="543.7" x2="50.4" y2="456"/><line x1="50.4" y1="543.7" x2="147" y2="543.7"/>
<circle cx="50.4" cy="543.7" r="10.4"/>
<line x1="43" y1="536.3" x2="57.8" y2="551.1"/><line x1="57.8" y1="536.3" x2="43" y2="551.1"/>
</g>
<path d="M50.4 446.5L47 457.5L53.8 457.5Z M157.8 543.7L146.8 540.3L146.8 547.1Z" fill="#231815"/>
<text transform="translate(39.34 432.2) scale(1.064 1)" font-family="Liberation Serif, serif" font-size="43.48" fill="#231815">x</text>
<text transform="translate(164.96 555.43) scale(0.967 1)" font-family="Liberation Serif, serif" font-size="45.59" fill="#231815">y</text>
<text transform="translate(40.09 592.8) scale(1.264 1)" font-family="Liberation Serif, serif" font-size="42.39" fill="#231815">z</text>
<defs><clipPath id="cb"><rect x="112.5" y="742.8" width="362.7" height="517.4000000000001"/></clipPath>
<linearGradient id="rdylbu" x1="0" y1="1" x2="0" y2="0">
<stop offset="0" stop-color="#313695"/>
<stop offset="0.1" stop-color="#4574b3"/>
<stop offset="0.2" stop-color="#74add1"/>
<stop offset="0.3" stop-color="#aad8e9"/>
<stop offset="0.4" stop-color="#e0f3f8"/>
<stop offset="0.5" stop-color="#fffebe"/>
<stop offset="0.6" stop-color="#fee090"/>
<stop offset="0.7" stop-color="#fdad60"/>
<stop offset="0.8" stop-color="#f46d43"/>
<stop offset="0.9" stop-color="#d62f27"/>
<stop offset="1.0" stop-color="#a50026"/>
</linearGradient></defs>
<path d="M112.5 746.8H475.2V1256.2" fill="none" stroke="#7a7a7a" stroke-width="1.3"/>
<path d="M112.5 746.8V1256.2H475.2" fill="none" stroke="#262626" stroke-width="1.3"/>
<path d="M112.5 746.8h5.5M475.2 746.8h-5.5M112.5 874.1h5.5M475.2 874.1h-5.5M112.5 1001.5h5.5M475.2 1001.5h-5.5M112.5 1128.8h5.5M475.2 1128.8h-5.5M112.5 1256.2h5.5M475.2 1256.2h-5.5M262.7 1256.2v-5.5M262.7 746.8v5.5M366 1256.2v-5.5M366 746.8v5.5" stroke="#262626" stroke-width="1.2"/>
<g clip-path="url(#cb)">
<path d="M118 742.7L123.6 752.3L129.1 770.4L134.7 788.5L140.3 806.1L145.8 823.4L151.4 840.7L157 857.9L162.5 875.1L168.1 891.8L173.7 904.7L179.2 917.7L184.8 930.4L190.3 939.7L195.9 949L201.5 958.1L207 966.5L212.6 973.5L218.2 975.9L223.7 978.4L229.3 980.8L234.9 982.6L240.4 982.9L246 983.1L251.6 983.4L257.1 983.7L262.7 984L268.4 983.9L274.2 983.8L279.9 983.7L285.7 983.6L291.4 983.3L297.1 982.6L302.9 981.8L308.6 978.8L314.4 968.5L320.1 958.1L325.8 942L331.6 924L337.3 905L343 884L348.8 862L354.5 838.9L360.3 818.1L366 780M118 739.2L123.6 739.2L129.1 739.2L134.7 750.4L140.3 769.2L145.8 787.2L151.4 804.3L157 820.6L162.5 836.1L168.1 850.7L173.7 864.5L179.2 877.5L184.8 889.6L190.3 900.9L195.9 911.4L201.5 921L207 929.8L212.6 937.7L218.2 944.8L223.7 951.1L229.3 956.5L234.9 961.1L240.4 964.9L246 967.8L251.6 969.9L257.1 971.2L262.7 971.6L268.4 971.1L274.2 969.5L279.9 966.8L285.7 963.1L291.4 958.4L297.1 952.6L302.9 945.8L308.6 937.9L314.4 928.9L320.1 918.9L325.8 907.8L331.6 895.7L337.3 882.5L343 868.3L348.8 853L354.5 833.3L360.3 812.5L366 774.4M118 739.2L123.6 739.2L129.1 739.2L134.7 746.3L140.3 765.1L145.8 783.1L151.4 800.2L157 816.6L162.5 832L168.1 846.7L173.7 860.5L179.2 873.4L184.8 885.5L190.3 896.8L195.9 907.3L201.5 916.9L207 925.7L212.6 933.6L218.2 940.7L223.7 947L229.3 952.5L234.9 957.1L240.4 960.8L246 963.7L251.6 965.8L257.1 967.1L262.7 967.5L268.4 967L274.2 965.4L279.9 962.8L285.7 959.1L291.4 954.3L297.1 948.5L302.9 941.7L308.6 933.8L314.4 924.8L320.1 914.8L325.8 903.7L331.6 891.6L337.3 878.4L343 864.2L348.8 848.9L354.5 829.2L360.3 808.5L366 770.3M118 739.2L123.6 739.2L129.1 739.2L134.7 739.2L140.3 756.4L145.8 774.3L151.4 791.5L157 807.8L162.5 823.3L168.1 837.9L173.7 851.7L179.2 864.7L184.8 876.8L190.3 888.1L195.9 898.5L201.5 908.1L207 916.9L212.6 924.9L218.2 932L223.7 938.3L229.3 943.7L234.9 948.3L240.4 952.1L246 955L251.6 957.1L257.1 958.3L262.7 958.7L268.4 958.2L274.2 956.6L279.9 954L285.7 950.3L291.4 945.6L297.1 939.8L302.9 932.9L308.6 925L314.4 916.1L320.1 906L325.8 895L331.6 882.9L337.3 869.7L343 855.5L348.8 840.2L354.5 823.8L360.3 806.5L366 768.8M118 739.2L123.6 739.2L129.1 739.2L134.7 739.2L140.3 752.3L145.8 770.3L151.4 787.4L157 803.7L162.5 819.2L168.1 833.8L173.7 847.6L179.2 860.6L184.8 872.7L190.3 884L195.9 894.5L201.5 904.1L207 912.9L212.6 920.8L218.2 927.9L223.7 934.2L229.3 939.6L234.9 944.2L240.4 948L246 950.9L251.6 953L257.1 954.2L262.7 954.7L268.4 954.1L274.2 952.6L279.9 949.9L285.7 946.2L291.4 941.5L297.1 935.7L302.9 928.8L308.6 920.9L314.4 912L320.1 902L325.8 890.9L331.6 878.8L337.3 865.6L343 851.4L348.8 836.1L354.5 819.8L360.3 802.4L366 764.7M118 739.2L123.6 739.2L129.1 739.2L134.7 739.2L140.3 742.6L145.8 760.6L151.4 777.7L157 794L162.5 809.5L168.1 824.1L173.7 837.9L179.2 850.9L184.8 863L190.3 874.3L195.9 884.8L201.5 894.4L207 903.2L212.6 911.1L218.2 918.2L223.7 924.5L229.3 929.9L234.9 934.5L240.4 938.3L246 941.2L251.6 943.3L257.1 944.6L262.7 945L268.4 944.5L274.2 942.9L279.9 940.2L285.7 936.6L291.4 931.8L297.1 926L302.9 919.2L308.6 911.3L314.4 902.3L320.1 892.3L325.8 881.2L331.6 869.1L337.3 855.9L343 841.7L348.8 826.4L354.5 810.1L360.3 792.7L366 763.2M118 739.2L123.6 739.2L129.1 739.2L134.7 739.2L140.3 739.2L145.8 756.5L151.4 773.7L157 790L162.5 805.4L168.1 820.1L173.7 833.9L179.2 846.8L184.8 859L190.3 870.2L195.9 880.7L201.5 890.3L207 899.1L212.6 907L218.2 914.2L223.7 920.4L229.3 925.9L234.9 930.5L240.4 934.2L246 937.2L251.6 939.2L257.1 940.5L262.7 940.9L268.4 940.4L274.2 938.8L279.9 936.2L285.7 932.5L291.4 927.7L297.1 921.9L302.9 915.1L308.6 907.2L314.4 898.2L320.1 888.2L325.8 877.2L331.6 865L337.3 851.9L343 837.6L348.8 822.3L354.5 806L360.3 788.6L366 759.1M118 739.2L123.6 739.2L129.1 739.2L134.7 739.2L140.3 739.2L145.8 745.9L151.4 763.1L157 779.4L162.5 794.8L168.1 809.5L173.7 823.3L179.2 836.2L184.8 848.4L190.3 859.7L195.9 870.1L201.5 879.7L207 888.5L212.6 896.4L218.2 903.6L223.7 909.8L229.3 915.3L234.9 919.9L240.4 923.6L246 926.6L251.6 928.6L257.1 929.9L262.7 930.3L268.4 929.8L274.2 928.2L279.9 925.6L285.7 921.9L291.4 917.1L297.1 911.3L302.9 904.5L308.6 896.6L314.4 887.6L320.1 877.6L325.8 866.6L331.6 854.4L337.3 841.3L343 827L348.8 811.8L354.5 795.4L360.3 778L366 757.6M118 739.2L123.6 739.2L129.1 739.2L134.7 739.2L140.3 739.2L145.8 741.8L151.4 759L157 775.3L162.5 790.8L168.1 805.4L173.7 819.2L179.2 832.2L184.8 844.3L190.3 855.6L195.9 866L201.5 875.6L207 884.4L212.6 892.4L218.2 899.5L223.7 905.8L229.3 911.2L234.9 915.8L240.4 919.6L246 922.5L251.6 924.6L257.1 925.8L262.7 926.2L268.4 925.7L274.2 924.1L279.9 921.5L285.7 917.8L291.4 913.1L297.1 907.3L302.9 900.4L308.6 892.5L314.4 883.6L320.1 873.5L325.8 862.5L331.6 850.4L337.3 837.2L343 823L348.8 807.7L354.5 791.3L360.3 774L366 753.5M118 739.2L123.6 739.2L129.1 739.2L134.7 739.2L140.3 739.2L145.8 739.2L151.4 747.5L157 763.8L162.5 779.3L168.1 793.9L173.7 807.7L179.2 820.6L184.8 832.8L190.3 844.1L195.9 854.5L201.5 864.1L207 872.9L212.6 880.9L218.2 888L223.7 894.2L229.3 899.7L234.9 904.3L240.4 908L246 911L251.6 913.1L257.1 914.3L262.7 914.7L268.4 914.2L274.2 912.6L279.9 910L285.7 906.3L291.4 901.6L297.1 895.8L302.9 888.9L308.6 881L314.4 872L320.1 862L325.8 851L331.6 838.8L337.3 825.7L343 811.4L348.8 796.2L354.5 779.8L360.3 762.4L366 744M118 739.2L123.6 739.2L129.1 739.2L134.7 739.2L140.3 739.2L145.8 739.2L151.4 743.4L157 759.7L162.5 775.2L168.1 789.8L173.7 803.6L179.2 816.6L184.8 828.7L190.3 840L195.9 850.4L201.5 860.1L207 868.8L212.6 876.8L218.2 883.9L223.7 890.2L229.3 895.6L234.9 900.2L240.4 904L246 906.9L251.6 909L257.1 910.2L262.7 910.7L268.4 910.1L274.2 908.5L279.9 905.9L285.7 902.2L291.4 897.5L297.1 891.7L302.9 884.8L308.6 876.9L314.4 868L320.1 858L325.8 846.9L331.6 834.8L337.3 821.6L343 807.4L348.8 792.1L354.5 775.8L360.3 758.4L366 739.9M118 739.2L123.6 739.2L129.1 739.2L134.7 739.2L140.3 739.2L145.8 739.2L151.4 739.2L157 747.3L162.5 762.7L168.1 777.4L173.7 791.2L179.2 804.1L184.8 816.3L190.3 827.6L195.9 838L201.5 847.6L207 856.4L212.6 864.4L218.2 871.5L223.7 877.7L229.3 883.2L234.9 887.8L240.4 891.5L246 894.5L251.6 896.6L257.1 897.8L262.7 898.2L268.4 897.7L274.2 896.1L279.9 893.5L285.7 889.8L291.4 885.1L297.1 879.3L302.9 872.4L308.6 864.5L314.4 855.5L320.1 845.5L325.8 834.5L331.6 822.3L337.3 809.2L343 794.9L348.8 779.7L354.5 763.3L360.3 745.9L366 739.2M118 739.2L123.6 739.2L129.1 739.2L134.7 739.2L140.3 739.2L145.8 739.2L151.4 739.2L157 743.2L162.5 758.7L168.1 773.3L173.7 787.1L179.2 800.1L184.8 812.2L190.3 823.5L195.9 833.9L201.5 843.6L207 852.3L212.6 860.3L218.2 867.4L223.7 873.7L229.3 879.1L234.9 883.7L240.4 887.5L246 890.4L251.6 892.5L257.1 893.7L262.7 894.2L268.4 893.6L274.2 892L279.9 889.4L285.7 885.7L291.4 881L297.1 875.2L302.9 868.3L308.6 860.4L314.4 851.5L320.1 841.5L325.8 830.4L331.6 818.3L337.3 805.1L343 790.9L348.8 775.6L354.5 759.3L360.3 741.9L366 739.2M118 739.2L123.6 739.2L129.1 739.2L134.7 739.2L140.3 739.2L145.8 739.2L151.4 739.2L157 739.2L162.5 745.3L168.1 760L173.7 773.8L179.2 786.7L184.8 798.8L190.3 810.1L195.9 820.6L201.5 830.2L207 839L212.6 846.9L218.2 854L223.7 860.3L229.3 865.8L234.9 870.4L240.4 874.1L246 877L251.6 879.1M274.2 878.7L279.9 876.1L285.7 872.4L291.4 867.6L297.1 861.8L302.9 855L308.6 847.1L314.4 838.1L320.1 828.1L325.8 817L331.6 804.9L337.3 791.7L343 777.5L348.8 762.2L354.5 745.9L360.3 739.2L366 739.2M118 739.2L123.6 739.2L129.1 739.2L134.7 739.2L140.3 739.2L145.8 739.2L151.4 739.2L157 739.2L162.5 741.3L168.1 755.9L173.7 769.7L179.2 782.6L184.8 794.8L190.3 806.1L195.9 816.5L201.5 826.1L207 834.9L212.6 842.9L218.2 850L223.7 856.2L229.3 861.7L234.9 866.3L240.4 870L246 873M279.9 872L285.7 868.3L291.4 863.6L297.1 857.8L302.9 850.9L308.6 843L314.4 834L320.1 824L325.8 813L331.6 800.8L337.3 787.7L343 773.4L348.8 758.2L354.5 741.8L360.3 739.2L366 739.2M118 739.2L123.6 739.2L129.1 739.2L134.7 739.2L140.3 739.2L145.8 739.2L151.4 739.2L157 739.2L162.5 739.2L168.1 741.6L173.7 755.4L179.2 768.4L184.8 780.5L190.3 791.8L195.9 802.3L201.5 811.9L207 820.7L212.6 828.6L218.2 835.7L223.7 842L229.3 847.4L234.9 852M291.4 849.3L297.1 843.5L302.9 836.6L308.6 828.7L314.4 819.8L320.1 809.8L325.8 798.7L331.6 786.6L337.3 773.4L343 759.2L348.8 743.9L354.5 739.2L360.3 739.2L366 739.2M118 739.2L123.6 739.2L129.1 739.2L134.7 739.2L140.3 739.2L145.8 739.2L151.4 739.2L157 739.2L162.5 739.2L168.1 739.2L173.7 751.3L179.2 764.3L184.8 776.4L190.3 787.7L195.9 798.2L201.5 807.8L207 816.6L212.6 824.5L218.2 831.6L223.7 837.9L229.3 843.3M291.4 845.2L297.1 839.4L302.9 832.6L308.6 824.7L314.4 815.7L320.1 805.7L325.8 794.6L331.6 782.5L337.3 769.3L343 755.1L348.8 739.8L354.5 739.2L360.3 739.2L366 739.2M118 739.2L123.6 739.2L129.1 739.2L134.7 739.2L140.3 739.2L145.8 739.2L151.4 739.2L157 739.2L162.5 739.2L168.1 739.2L173.7 739.2L179.2 749.1L184.8 761.3L190.3 772.5L195.9 783L201.5 792.6L207 801.4L212.6 809.3L218.2 816.5M302.9 817.4L308.6 809.5L314.4 800.5L320.1 790.5L325.8 779.4L331.6 767.3L337.3 754.2L343 739.9L348.8 739.2L354.5 739.2L360.3 739.2L366 739.2M118 739.2L123.6 739.2L129.1 739.2L134.7 739.2L140.3 739.2L145.8 739.2L151.4 739.2L157 739.2L162.5 739.2L168.1 739.2L173.7 739.2L179.2 745.1L184.8 757.2L190.3 768.5L195.9 778.9L201.5 788.5L207 797.3L212.6 805.3L218.2 812.4M302.9 813.3L308.6 805.4L314.4 796.5L320.1 786.4L325.8 775.4L331.6 763.3L337.3 750.1L343 739.2L348.8 739.2L354.5 739.2L360.3 739.2L366 739.2M118 739.2L123.6 739.2L129.1 739.2L134.7 739.2L140.3 739.2L145.8 739.2L151.4 739.2L157 739.2L162.5 739.2L168.1 739.2L173.7 739.2L179.2 739.2L184.8 741.1L190.3 752.4L195.9 762.8L201.5 772.4M314.4 780.4L320.1 770.3L325.8 759.3L331.6 747.2L337.3 739.2L343 739.2L348.8 739.2L354.5 739.2L360.3 739.2L366 739.2M118 739.2L123.6 739.2L129.1 739.2L134.7 739.2L140.3 739.2L145.8 739.2L151.4 739.2L157 739.2L162.5 739.2L168.1 739.2L173.7 739.2L179.2 739.2L184.8 739.2L190.3 748.3L195.9 758.8L201.5 768.4M314.4 776.3L320.1 766.3L325.8 755.2L331.6 743.1L337.3 739.2L343 739.2L348.8 739.2L354.5 739.2L360.3 739.2L366 739.2M118 739.2L123.6 739.2L129.1 739.2L134.7 739.2L140.3 739.2L145.8 739.2L151.4 739.2L157 739.2L162.5 739.2L168.1 739.2L173.7 739.2L179.2 739.2L184.8 739.2L190.3 739.2L195.9 741.7L201.5 751.4M320.1 749.3L325.8 739.2L331.6 739.2L337.3 739.2L343 739.2L348.8 739.2L354.5 739.2L360.3 739.2L366 739.2M118 739.2L123.6 739.2L129.1 739.2L134.7 739.2L140.3 739.2L145.8 739.2L151.4 739.2L157 739.2L162.5 739.2L168.1 739.2L173.7 739.2L179.2 739.2L184.8 739.2L190.3 739.2L195.9 739.2L201.5 747.3M320.1 745.2L325.8 739.2L331.6 739.2L337.3 739.2L343 739.2L348.8 739.2L354.5 739.2L360.3 739.2L366 739.2M118 739.2L123.6 739.2L129.1 739.2L134.7 739.2L140.3 739.2L145.8 739.2L151.4 739.2L157 739.2L162.5 739.2L168.1 739.2L173.7 739.2L179.2 739.2L184.8 739.2L190.3 739.2L195.9 739.2L201.5 739.2M320.1 739.2L325.8 739.2L331.6 739.2L337.3 739.2L343 739.2L348.8 739.2L354.5 739.2L360.3 739.2L366 739.2M118 739.2L123.6 739.2L129.1 739.2L134.7 739.2L140.3 739.2L145.8 739.2L151.4 739.2L157 739.2L162.5 739.2L168.1 739.2L173.7 739.2L179.2 739.2L184.8 739.2L190.3 739.2L195.9 739.2L201.5 739.2M320.1 739.2L325.8 739.2L331.6 739.2L337.3 739.2L343 739.2L348.8 739.2L354.5 739.2L360.3 739.2L366 739.2M118 739.2L123.6 739.2L129.1 739.2L134.7 739.2L140.3 739.2L145.8 739.2L151.4 739.2L157 739.2L162.5 739.2L168.1 739.2L173.7 739.2L179.2 739.2L184.8 739.2L190.3 739.2L195.9 739.2L201.5 739.2M320.1 739.2L325.8 739.2L331.6 739.2L337.3 739.2L343 739.2L348.8 739.2L354.5 739.2L360.3 739.2L366 739.2M118 739.2L123.6 739.2L129.1 739.2L134.7 739.2L140.3 739.2L145.8 739.2L151.4 739.2L157 739.2L162.5 739.2L168.1 739.2L173.7 739.2L179.2 739.2L184.8 739.2L190.3 739.2L195.9 739.2L201.5 739.2M320.1 739.2L325.8 739.2L331.6 739.2L337.3 739.2L343 739.2L348.8 739.2L354.5 739.2L360.3 739.2L366 739.2M118 739.2L123.6 739.2L129.1 739.2L134.7 739.2L140.3 739.2L145.8 739.2L151.4 739.2L157 739.2L162.5 739.2L168.1 739.2L173.7 739.2L179.2 739.2L184.8 739.2L190.3 739.2L195.9 739.2L201.5 739.2M320.1 739.2L325.8 739.2L331.6 739.2L337.3 739.2L343 739.2L348.8 739.2L354.5 739.2L360.3 739.2L366 739.2M118 739.2L123.6 739.2L129.1 739.2L134.7 739.2L140.3 739.2L145.8 739.2L151.4 739.2L157 739.2L162.5 739.2L168.1 739.2L173.7 739.2L179.2 739.2L184.8 739.2L190.3 739.2L195.9 739.2L201.5 739.2M320.1 739.2L325.8 739.2L331.6 739.2L337.3 739.2L343 739.2L348.8 739.2L354.5 739.2L360.3 739.2L366 739.2M118 739.2L123.6 739.2L129.1 739.2L134.7 739.2L140.3 739.2L145.8 739.2L151.4 739.2L157 739.2L162.5 739.2L168.1 739.2L173.7 739.2L179.2 739.2L184.8 739.2L190.3 739.2L195.9 739.2L201.5 739.2M320.1 739.2L325.8 739.2L331.6 739.2L337.3 739.2L343 739.2L348.8 739.2L354.5 739.2L360.3 739.2L366 739.2M118 739.2L123.6 739.2L129.1 739.2L134.7 739.2L140.3 739.2L145.8 739.2L151.4 739.2L157 739.2L162.5 739.2L168.1 739.2L173.7 739.2L179.2 739.2L184.8 739.2L190.3 739.2L195.9 739.2L201.5 739.2M320.1 739.2L325.8 739.2L331.6 739.2L337.3 739.2L343 739.2L348.8 739.2L354.5 739.2L360.3 739.2L366 739.2M118 739.2L123.6 739.2L129.1 739.2L134.7 739.2L140.3 739.2L145.8 739.2L151.4 739.2L157 739.2L162.5 739.2L168.1 739.2L173.7 739.2L179.2 739.2L184.8 739.2L190.3 739.2L195.9 739.2L201.5 739.2M320.1 739.2L325.8 739.2L331.6 739.2L337.3 739.2L343 739.2L348.8 739.2L354.5 739.2L360.3 739.2L366 739.2M118 739.2L123.6 739.2L129.1 739.2L134.7 739.2L140.3 739.2L145.8 739.2L151.4 739.2L157 739.2L162.5 739.2L168.1 739.2L173.7 739.2L179.2 739.2L184.8 739.2L190.3 739.2L195.9 739.2L201.5 739.2M320.1 739.2L325.8 739.2L331.6 739.2L337.3 739.2L343 739.2L348.8 739.2L354.5 739.2L360.3 739.2L366 739.2M118 739.2L123.6 749.1L129.1 763.3L134.7 774.2L140.3 783.6L145.8 793L151.4 801.2L157 806L162.5 810.9L168.1 815.7L173.7 820.5L179.2 825.3L184.8 830.1L190.3 834.6L195.9 839L201.5 843.4L207 847.8L212.6 851.8L218.2 853.9L223.7 856L229.3 858.1L234.9 860.2L240.4 862.3M285.7 859.2L291.4 852.3L297.1 845.4L302.9 834.3L308.6 819L314.4 800.6L320.1 777.6L325.8 750.9L331.6 739.2L337.3 739.2L343 739.2L348.8 739.2L354.5 739.2L360.3 739.2L366 739.2M118 739.2L123.6 745.1L129.1 759.2L134.7 770.1L140.3 779.5L145.8 788.9L151.4 797.1L157 802L162.5 806.8L168.1 811.6L173.7 816.4L179.2 821.3L184.8 826.1L190.3 830.5L195.9 834.9L201.5 839.3L207 843.8L212.6 847.7L218.2 849.8L223.7 851.9L229.3 854L234.9 856.1M291.4 848.3L297.1 841.4L302.9 830.3L308.6 815L314.4 796.5L320.1 773.6L325.8 746.8L331.6 739.2L337.3 739.2L343 739.2L348.8 739.2L354.5 739.2L360.3 739.2L366 739.2M118 739.2L123.6 739.2L129.1 750.5L134.7 761.5L140.3 770.9L145.8 780.2L151.4 788.5L157 793.3L162.5 798.1L168.1 802.9L173.7 807.8L179.2 812.6L184.8 817.4L190.3 821.8L195.9 826.3L201.5 830.7L207 835.1L212.6 839L218.2 841.1L223.7 843.2L229.3 845.3M297.1 832.7L302.9 821.6L308.6 806.3L314.4 787.9L320.1 764.9L325.8 739.2L331.6 739.2L337.3 739.2L343 739.2L348.8 739.2L354.5 739.2L360.3 739.2L366 739.2M118 739.2L123.6 739.2L129.1 746.4L134.7 757.4L140.3 766.8L145.8 776.2L151.4 784.4L157 789.2L162.5 794L168.1 798.9L173.7 803.7L179.2 808.5L184.8 813.3L190.3 817.8L195.9 822.2L201.5 826.6L207 831L212.6 834.9L218.2 837.1L223.7 839.2L229.3 841.3M297.1 828.6L302.9 817.5L308.6 802.2L314.4 783.8L320.1 760.8L325.8 739.2L331.6 739.2L337.3 739.2L343 739.2L348.8 739.2L354.5 739.2L360.3 739.2L366 739.2M118 739.2L123.6 739.2L129.1 739.2L134.7 748.8L140.3 758.1L145.8 767.5L151.4 775.7L157 780.6L162.5 785.4L168.1 790.2L173.7 795L179.2 799.9L184.8 804.7L190.3 809.1L195.9 813.5L201.5 817.9L207 822.4L212.6 826.3L218.2 828.4L223.7 830.5M302.9 808.9L308.6 793.6L314.4 775.1L320.1 752.2L325.8 739.2L331.6 739.2L337.3 739.2L343 739.2L348.8 739.2L354.5 739.2L360.3 739.2L366 739.2M118 739.2L123.6 739.2L129.1 739.2L134.7 744.7L140.3 754.1L145.8 763.4L151.4 771.7L157 776.5L162.5 781.3L168.1 786.1L173.7 791L179.2 795.8L184.8 800.6L190.3 805L195.9 809.4L201.5 813.9L207 818.3L212.6 822.2L218.2 824.3M314.4 771.1L320.1 748.1L325.8 739.2L331.6 739.2L337.3 739.2L343 739.2L348.8 739.2L354.5 739.2L360.3 739.2L366 739.2M118 739.2L123.6 739.2L129.1 739.2L134.7 739.2L140.3 745.4L145.8 754.8L151.4 763L157 767.8L162.5 772.7L168.1 777.5L173.7 782.3L179.2 787.1L184.8 791.9L190.3 796.4L195.9 800.8L201.5 805.2L207 809.6L212.6 813.6L218.2 815.7M320.1 739.4L325.8 739.2L331.6 739.2L337.3 739.2L343 739.2L348.8 739.2L354.5 739.2L360.3 739.2L366 739.2M118 739.2L123.6 739.2L129.1 739.2L134.7 739.2L140.3 741.3L145.8 750.7L151.4 758.9L157 763.8L162.5 768.6L168.1 773.4L173.7 778.2L179.2 783.1L184.8 787.9L190.3 792.3L195.9 796.7L201.5 801.1L207 805.6L212.6 809.5L218.2 811.6M320.1 739.2L325.8 739.2L331.6 739.2L337.3 739.2L343 739.2L348.8 739.2L354.5 739.2L360.3 739.2L366 739.2M118 739.2L123.6 739.2L129.1 739.2L134.7 739.2L140.3 739.2L145.8 742L151.4 750.3L157 755.1L162.5 759.9L168.1 764.7L173.7 769.6L179.2 774.4L184.8 779.2L190.3 783.6L195.9 788.1L201.5 792.5L207 796.9L212.6 800.8M320.1 739.2L325.8 739.2L331.6 739.2L337.3 739.2L343 739.2L348.8 739.2L354.5 739.2L360.3 739.2L366 739.2M118 739.2L123.6 739.2L129.1 739.2L134.7 739.2L140.3 739.2L145.8 739.2L151.4 746.2L157 751L162.5 755.8L168.1 760.7L173.7 765.5L179.2 770.3L184.8 775.1L190.3 779.6L195.9 784L201.5 788.4L207 792.8M320.1 739.2L325.8 739.2L331.6 739.2L337.3 739.2L343 739.2L348.8 739.2L354.5 739.2L360.3 739.2L366 739.2M118 739.2L123.6 739.2L129.1 739.2L134.7 739.2L140.3 739.2L145.8 739.2L151.4 739.2L157 742.4L162.5 747.2L168.1 752L173.7 756.8L179.2 761.7L184.8 766.5L190.3 770.9L195.9 775.3L201.5 779.7L207 784.2M320.1 739.2L325.8 739.2L331.6 739.2L337.3 739.2L343 739.2L348.8 739.2L354.5 739.2L360.3 739.2L366 739.2M118 739.2L123.6 739.2L129.1 739.2L134.7 739.2L140.3 739.2L145.8 739.2L151.4 739.2L157 739.2L162.5 743.1L168.1 747.9L173.7 752.8L179.2 757.6L184.8 762.4L190.3 766.8L195.9 771.2L201.5 775.7M320.1 739.2L325.8 739.2L331.6 739.2L337.3 739.2L343 739.2L348.8 739.2L354.5 739.2L360.3 739.2L366 739.2M118 739.2L123.6 739.2L129.1 739.2L134.7 739.2L140.3 739.2L145.8 739.2L151.4 739.2L157 739.2L162.5 739.2L168.1 739.2L173.7 739.2L179.2 739.2L184.8 739.2L190.3 745.3L195.9 753.5L201.5 765L207 786.2L212.6 799.4L218.2 813.1L223.7 831.1L229.3 841.6L234.9 851.9L240.4 861.9L246 871.6L251.6 880.9L257.1 887L262.7 888L268.4 885.5L274.2 879.5L279.9 873.6L285.7 859L291.4 844.2L297.1 828.2L302.9 811L308.6 793.5L314.4 770.4L320.1 746.2L325.8 739.2L331.6 739.2L337.3 739.2L343 739.2L348.8 739.2L354.5 739.2L360.3 739.2L366 739.2M118 739.2L123.6 739.2L129.1 739.2L134.7 739.2L140.3 739.2L145.8 739.2L151.4 739.2L157 739.2L162.5 739.2L168.1 739.2L173.7 739.2L179.2 739.2L184.8 739.2L190.3 741.2L195.9 749.4L201.5 760.9L207 782.1L212.6 795.3L218.2 809.1L223.7 827L229.3 837.5L234.9 847.8L240.4 857.8L246 867.5L251.6 876.8L257.1 883L262.7 883.9L268.4 881.4L274.2 875.5L279.9 869.5L285.7 854.9L291.4 840.1L297.1 824.1L302.9 806.9L308.6 789.4L314.4 766.3L320.1 742.2L325.8 739.2L331.6 739.2L337.3 739.2L343 739.2L348.8 739.2L354.5 739.2L360.3 739.2L366 739.2M246 866.3L251.6 868.7L257.1 871.1L262.7 873.5L268.4 871L274.2 868.5L279.9 866M240.4 859.8L246 862.2L251.6 864.6L257.1 867L262.7 869.4L268.4 866.9L274.2 864.4L279.9 862M234.9 846.9L240.4 849.3L246 851.7L251.6 854.1L257.1 856.6L262.7 859L268.4 856.5L274.2 854L279.9 851.5L285.7 849M234.9 842.8L240.4 845.2L246 847.7L251.6 850.1L257.1 852.5L262.7 854.9L268.4 852.4L274.2 849.9L279.9 847.4L285.7 844.9L291.4 842.5M223.7 827.6L229.3 830L234.9 832.4L240.4 834.8L246 837.2L251.6 839.6L257.1 842L262.7 844.4L268.4 842L274.2 839.5L279.9 837L285.7 834.5L291.4 832M223.7 823.5L229.3 825.9L234.9 828.3L240.4 830.7L246 833.1L251.6 835.6L257.1 838L262.7 840.4L268.4 837.9L274.2 835.4L279.9 832.9L285.7 830.4L291.4 827.9L297.1 825.5M218.2 810.7L223.7 813.1L229.3 815.5L234.9 817.9L240.4 820.3L246 822.7L251.6 825.1L257.1 827.5L262.7 829.9L268.4 827.4L274.2 825L279.9 822.5L285.7 820L291.4 817.5L297.1 815M218.2 806.6L223.7 809L229.3 811.4L234.9 813.8L240.4 816.2L246 818.6L251.6 821L257.1 823.4L262.7 825.9L268.4 823.4L274.2 820.9L279.9 818.4L285.7 815.9L291.4 813.4L297.1 810.9L302.9 808.5M212.6 793.7L218.2 796.1L223.7 798.5L229.3 801L234.9 803.4L240.4 805.8L246 808.2L251.6 810.6L257.1 813L262.7 815.4L268.4 812.9L274.2 810.4L279.9 808L285.7 805.5L291.4 803L297.1 800.5L302.9 798M212.6 789.6L218.2 792.1L223.7 794.5L229.3 796.9L234.9 799.3L240.4 801.7L246 804.1L251.6 806.5L257.1 808.9L262.7 811.3L268.4 808.9L274.2 806.4L279.9 803.9L285.7 801.4L291.4 798.9L297.1 796.4L302.9 793.9L308.6 791.5M207 776.8L212.6 779.2L218.2 781.6L223.7 784L229.3 786.4L234.9 788.8L240.4 791.3L246 793.7L251.6 796.1L257.1 798.5L262.7 800.9L268.4 798.4L274.2 795.9L279.9 793.4L285.7 791L291.4 788.5L297.1 786L302.9 783.5L308.6 781M207 772.7L212.6 775.1L218.2 777.5L223.7 779.9L229.3 782.4L234.9 784.8L240.4 787.2L246 789.6L251.6 792L257.1 794.4L262.7 796.8L268.4 794.3L274.2 791.8L279.9 789.4L285.7 786.9L291.4 784.4L297.1 781.9L302.9 779.4L308.6 776.9M201.5 759.9L207 762.3L212.6 764.7L218.2 767.1L223.7 769.5L229.3 771.9L234.9 774.3L240.4 776.7L246 779.1L251.6 781.6L257.1 784L262.7 786.4L268.4 783.9L274.2 781.4L279.9 778.9L285.7 776.4L291.4 774L297.1 771.5L302.9 769L308.6 766.5L314.4 764M201.5 755.8L207 758.2L212.6 760.6L218.2 763L223.7 765.4L229.3 767.8L234.9 770.3L240.4 772.7L246 775.1L251.6 777.5L257.1 779.9L262.7 782.3L268.4 779.8L274.2 777.3L279.9 774.8L285.7 772.4L291.4 769.9L297.1 767.4L302.9 764.9L308.6 762.4L314.4 759.9M190.3 740.5L195.9 742.9L201.5 745.3L207 747.8L212.6 750.2L218.2 752.6L223.7 755L229.3 757.4L234.9 759.8L240.4 762.2L246 764.6L251.6 767L257.1 769.4L262.7 771.9L268.4 769.4L274.2 766.9L279.9 764.4L285.7 761.9L291.4 759.4L297.1 756.9L302.9 754.5L308.6 752L314.4 749.5M184.8 739.2L190.3 739.2L195.9 739.2L201.5 741.3L207 743.7L212.6 746.1L218.2 748.5L223.7 750.9L229.3 753.3L234.9 755.7L240.4 758.1L246 760.6L251.6 763L257.1 765.4L262.7 767.8L268.4 765.3L274.2 762.8L279.9 760.3L285.7 757.8L291.4 755.4L297.1 752.9L302.9 750.4L308.6 747.9L314.4 745.4L320.1 742.9M173.7 739.2L179.2 739.2L184.8 739.2L190.3 739.2L195.9 739.2L201.5 739.2L207 739.2L212.6 739.2L218.2 739.2L223.7 740.5L229.3 742.9L234.9 745.3L240.4 747.7L246 750.1L251.6 752.5L257.1 754.9L262.7 757.3L268.4 754.9L274.2 752.4L279.9 749.9L285.7 747.4L291.4 744.9L297.1 742.4L302.9 739.9L308.6 739.2L314.4 739.2L320.1 739.2M173.7 739.2L179.2 739.2L184.8 739.2L190.3 739.2L195.9 739.2L201.5 739.2L207 739.2L212.6 739.2L218.2 739.2L223.7 739.2L229.3 739.2L234.9 741.2L240.4 743.6L246 746L251.6 748.4L257.1 750.9L262.7 753.3L268.4 750.8L274.2 748.3L279.9 745.8L285.7 743.3L291.4 740.8L297.1 739.2L302.9 739.2L308.6 739.2L314.4 739.2L320.1 739.2M162.5 739.2L168.1 739.2L173.7 739.2L179.2 739.2L184.8 739.2L190.3 739.2L195.9 739.2L201.5 739.2L207 739.2L212.6 739.2L218.2 739.2L223.7 739.2L229.3 739.2L234.9 739.2L240.4 739.2L246 739.2L251.6 739.2L257.1 740.4L262.7 742.8L268.4 740.3L274.2 739.2L279.9 739.2L285.7 739.2L291.4 739.2L297.1 739.2L302.9 739.2L308.6 739.2L314.4 739.2L320.1 739.2M157 739.2L162.5 739.2L168.1 739.2L173.7 739.2L179.2 739.2L184.8 739.2L190.3 739.2L195.9 739.2L201.5 739.2L207 739.2L212.6 739.2L218.2 739.2L223.7 739.2L229.3 739.2L234.9 739.2L240.4 739.2L246 739.2L251.6 739.2L257.1 739.2L262.7 739.2L268.4 739.2L274.2 739.2L279.9 739.2L285.7 739.2L291.4 739.2L297.1 739.2L302.9 739.2L308.6 739.2L314.4 739.2L320.1 739.2M366 792L371.6 791.5L377.1 791.1L382.7 790.6L388.2 790.1L393.8 788.7L399.3 786.9L404.9 785.1L410.4 783L416 779.7L421.6 776.3L427.1 773L432.7 769.6L438.2 766.2L443.8 761.4L449.3 756.7L454.9 752L460.4 747.1L466 741.8M366 790L371.6 789.5L377.1 789L382.7 788.6L388.2 788.1L393.8 786.7L399.3 784.9L404.9 783L410.4 781L416 777.6L421.6 774.3L427.1 770.9L432.7 767.6L438.2 764.1L443.8 759.4L449.3 754.7L454.9 749.9L460.4 745.1L466 739.8M366 786.4L371.6 785.9L377.1 785.5L382.7 785L388.2 784.5L393.8 783.1L399.3 781.3L404.9 779.5L410.4 777.4L416 774L421.6 770.7L427.1 767.4L432.7 764L438.2 760.6L443.8 755.8L449.3 751.1L454.9 746.4L460.4 741.5L466 739.2M366 784.4L371.6 783.9L377.1 783.4L382.7 783L388.2 782.5L393.8 781.1L399.3 779.3L404.9 777.4L410.4 775.4L416 772L421.6 768.7L427.1 765.3L432.7 762L438.2 758.5L443.8 753.8L449.3 749L454.9 744.3L460.4 739.5L466 739.2M366 779.8L371.6 779.3L377.1 778.8L382.7 778.4L388.2 777.9L393.8 776.5L399.3 774.7L404.9 772.8L410.4 770.8L416 767.4L421.6 764.1L427.1 760.7L432.7 757.4L438.2 753.9L443.8 749.2L449.3 744.5L454.9 739.7L460.4 739.2L466 739.2M366 777.7L371.6 777.3L377.1 776.8L382.7 776.3L388.2 775.9L393.8 774.5L399.3 772.6L404.9 770.8L410.4 768.7L416 765.4L421.6 762L427.1 758.7L432.7 755.4L438.2 751.9L443.8 747.2L449.3 742.4L454.9 739.2L460.4 739.2L466 739.2M366 772.1L371.6 771.7L377.1 771.2L382.7 770.7L388.2 770.3L393.8 768.9L399.3 767L404.9 765.2L410.4 763.1L416 759.8L421.6 756.4L427.1 753.1L432.7 749.8L438.2 746.3L443.8 741.6L449.3 739.2L454.9 739.2L460.4 739.2L466 739.2M366 770.1L371.6 769.6L377.1 769.2L382.7 768.7L388.2 768.2L393.8 766.8L399.3 765L404.9 763.2L410.4 761.1L416 757.7L421.6 754.4L427.1 751.1L432.7 747.7L438.2 744.3L443.8 739.5L449.3 739.2L454.9 739.2L460.4 739.2L466 739.2M366 763.5L371.6 763L377.1 762.5L382.7 762.1L388.2 761.6L393.8 760.2L399.3 758.4L404.9 756.5L410.4 754.5L416 751.1L421.6 747.8L427.1 744.4L432.7 741.1L438.2 739.2L443.8 739.2L449.3 739.2L454.9 739.2L460.4 739.2L466 739.2M366 761.4L371.6 761L377.1 760.5L382.7 760L388.2 759.6L393.8 758.2L399.3 756.3L404.9 754.5L410.4 752.4L416 749.1L421.6 745.7L427.1 742.4L432.7 739.2L438.2 739.2L443.8 739.2L449.3 739.2L454.9 739.2L460.4 739.2L466 739.2M366 753.8L371.6 753.3L377.1 752.9L382.7 752.4L388.2 751.9L393.8 750.5L399.3 748.7L404.9 746.9L410.4 744.8L416 741.4L421.6 739.2L427.1 739.2L432.7 739.2L438.2 739.2L443.8 739.2L449.3 739.2L454.9 739.2L460.4 739.2L466 739.2M366 751.8L371.6 751.3L377.1 750.8L382.7 750.4L388.2 749.9L393.8 748.5L399.3 746.7L404.9 744.8L410.4 742.7L416 739.4L421.6 739.2L427.1 739.2L432.7 739.2L438.2 739.2L443.8 739.2L449.3 739.2L454.9 739.2L460.4 739.2L466 739.2M366 743.1L371.6 742.6L377.1 742.2L382.7 741.7L388.2 741.2L393.8 739.8L399.3 739.2L404.9 739.2L410.4 739.2L416 739.2L421.6 739.2L427.1 739.2L432.7 739.2L438.2 739.2L443.8 739.2L449.3 739.2L454.9 739.2L460.4 739.2L466 739.2M366 741.1L371.6 740.6L377.1 740.1L382.7 739.7L388.2 739.2L393.8 739.2L399.3 739.2L404.9 739.2L410.4 739.2L416 739.2L421.6 739.2L427.1 739.2L432.7 739.2L438.2 739.2L443.8 739.2L449.3 739.2L454.9 739.2L460.4 739.2L466 739.2M118 1231.3L123.6 1222.9L129.1 1213.7L134.7 1201.1L140.3 1188L145.8 1174.1L151.4 1159.8L157 1144.6L162.5 1130.4L168.1 1117L173.7 1105.5L179.2 1094.3L184.8 1083.7L190.3 1073.5L195.9 1065.6L201.5 1058.3L207 1052.4L308.6 1043.8L314.4 1051L320.1 1062.6L325.8 1075L331.6 1092.2L337.3 1107.1L343 1123.5L348.8 1143.9L354.5 1162.1L360.3 1178.6L366 1197.3M212.6 1047.4L218.2 1043.3L223.7 1041.9L229.3 1041.9L234.9 1041.8L240.4 1041.7L246 1041.6L251.6 1041.6L257.1 1041.5L262.7 1041.4L268.4 1041.4L274.2 1041.5L279.9 1041.5L285.7 1041.5L291.4 1041.6L297.1 1041.6L302.9 1042.3M118 1263.7L123.6 1247.9L129.1 1232.7L134.7 1218.2L140.3 1204.2L145.8 1190.9L151.4 1178.2L157 1166.2L162.5 1154.7L168.1 1143.9L173.7 1133.6L179.2 1124L184.8 1115L190.3 1106.7L195.9 1098.9L201.5 1091.8L207 1085.3L212.6 1079.4L218.2 1074.2L223.7 1069.5L229.3 1065.5L234.9 1062.1L240.4 1059.3L246 1057.1L251.6 1055.6L257.1 1054.6L262.7 1054.3L268.4 1054.8L274.2 1056.2L279.9 1058.5L285.7 1061.7L291.4 1065.9L297.1 1070.9L302.9 1076.9L308.6 1083.8L314.4 1091.7L320.1 1100.4L325.8 1110.1L331.6 1120.7L337.3 1132.3L343 1144.7L348.8 1158.1L354.5 1172.4L360.3 1187.6L366 1203.7M118 1263.8L123.6 1252L129.1 1236.8L134.7 1222.3L140.3 1208.3L145.8 1195L151.4 1182.3L157 1170.2L162.5 1158.8L168.1 1147.9L173.7 1137.7L179.2 1128.1L184.8 1119.1L190.3 1110.8L195.9 1103L201.5 1095.9L207 1089.4L212.6 1083.5L218.2 1078.2L223.7 1073.6L229.3 1069.6L234.9 1066.2L240.4 1063.4L246 1061.2L251.6 1059.7L257.1 1058.7L262.7 1058.4L268.4 1058.9L274.2 1060.3L279.9 1062.6L285.7 1065.8L291.4 1069.9L297.1 1075L302.9 1081L308.6 1087.9L314.4 1095.8L320.1 1104.5L325.8 1114.2L331.6 1124.8L337.3 1136.3L343 1148.8L348.8 1162.2L354.5 1176.5L360.3 1191.7L366 1207.8M118 1263.8L123.6 1261L129.1 1245.8L134.7 1231.2L140.3 1217.3L145.8 1204L151.4 1191.3L157 1179.2L162.5 1167.7L168.1 1156.9L173.7 1146.7L179.2 1137.1L184.8 1128.1L190.3 1119.7L195.9 1112L201.5 1104.9L207 1098.4L212.6 1092.5L218.2 1087.2L223.7 1082.6L229.3 1078.5L234.9 1075.1L240.4 1072.3L246 1070.2L251.6 1068.6L257.1 1067.7L262.7 1067.4L268.4 1067.8L274.2 1069.2L279.9 1071.5L285.7 1074.8L291.4 1078.9L297.1 1084L302.9 1090L308.6 1096.9L314.4 1104.7L320.1 1113.5L325.8 1123.2L331.6 1133.8L337.3 1145.3L343 1157.8L348.8 1171.1L354.5 1185.4L360.3 1200.6L366 1216.8M118 1263.8L123.6 1263.8L129.1 1249.9L134.7 1235.3L140.3 1221.4L145.8 1208L151.4 1195.3L157 1183.3L162.5 1171.8L168.1 1161L173.7 1150.7L179.2 1141.1L184.8 1132.2L190.3 1123.8L195.9 1116.1L201.5 1108.9L207 1102.4L212.6 1096.5L218.2 1091.3L223.7 1086.6L229.3 1082.6L234.9 1079.2L240.4 1076.4L246 1074.2L251.6 1072.7L257.1 1071.8L262.7 1071.5L268.4 1071.9L274.2 1073.3L279.9 1075.6L285.7 1078.8L291.4 1083L297.1 1088.1L302.9 1094L308.6 1101L314.4 1108.8L320.1 1117.6L325.8 1127.2L331.6 1137.8L337.3 1149.4L343 1161.8L348.8 1175.2L354.5 1189.5L360.3 1204.7L366 1220.8M118 1263.8L123.6 1263.8L129.1 1259L134.7 1244.5L140.3 1230.5L145.8 1217.2L151.4 1204.5L157 1192.4L162.5 1181L168.1 1170.1L173.7 1159.9L179.2 1150.3L184.8 1141.3L190.3 1133L195.9 1125.2L201.5 1118.1L207 1111.6L212.6 1105.7L218.2 1100.4L223.7 1095.8L229.3 1091.8L234.9 1088.4L240.4 1085.6L246 1083.4L251.6 1081.9L257.1 1080.9L262.7 1080.6L268.4 1081.1L274.2 1082.5L279.9 1084.8L285.7 1088L291.4 1092.1L297.1 1097.2L302.9 1103.2L308.6 1110.1L314.4 1118L320.1 1126.7L325.8 1136.4L331.6 1147L337.3 1158.5L343 1171L348.8 1184.4L354.5 1198.7L360.3 1213.9L366 1230M118 1263.8L123.6 1263.8L129.1 1263.1L134.7 1248.5L140.3 1234.6L145.8 1221.3L151.4 1208.6L157 1196.5L162.5 1185.1L168.1 1174.2L173.7 1164L179.2 1154.4L184.8 1145.4L190.3 1137L195.9 1129.3L201.5 1122.2L207 1115.7L212.6 1109.8L218.2 1104.5L223.7 1099.9L229.3 1095.8L234.9 1092.4L240.4 1089.7L246 1087.5L251.6 1085.9L257.1 1085L262.7 1084.7L268.4 1085.2L274.2 1086.5L279.9 1088.8L285.7 1092.1L291.4 1096.2L297.1 1101.3L302.9 1107.3L308.6 1114.2L314.4 1122L320.1 1130.8L325.8 1140.5L331.6 1151.1L337.3 1162.6L343 1175.1L348.8 1188.4L354.5 1202.7L360.3 1218L366 1234.1M118 1263.8L123.6 1263.8L129.1 1263.8L134.7 1257.9L140.3 1244L145.8 1230.7L151.4 1218L157 1205.9L162.5 1194.4L168.1 1183.6L173.7 1173.4L179.2 1163.8L184.8 1154.8L190.3 1146.4L195.9 1138.7L201.5 1131.5L207 1125L212.6 1119.2L218.2 1113.9L223.7 1109.2L229.3 1105.2L234.9 1101.8L240.4 1099L246 1096.9L251.6 1095.3L257.1 1094.4L262.7 1094.1L268.4 1094.5L274.2 1095.9L279.9 1098.2L285.7 1101.4L291.4 1105.6L297.1 1110.7L302.9 1116.7L308.6 1123.6L314.4 1131.4L320.1 1140.2L325.8 1149.9L331.6 1160.5L337.3 1172L343 1184.4L348.8 1197.8L354.5 1212.1L360.3 1227.3L366 1243.5M118 1263.8L123.6 1263.8L129.1 1263.8L134.7 1262L140.3 1248.1L145.8 1234.7L151.4 1222L157 1210L162.5 1198.5L168.1 1187.7L173.7 1177.4L179.2 1167.8L184.8 1158.9L190.3 1150.5L195.9 1142.7L201.5 1135.6L207 1129.1L212.6 1123.2L218.2 1118L223.7 1113.3L229.3 1109.3L234.9 1105.9L240.4 1103.1L246 1100.9L251.6 1099.4L257.1 1098.5L262.7 1098.1L268.4 1098.6L274.2 1100L279.9 1102.3L285.7 1105.5L291.4 1109.7L297.1 1114.7L302.9 1120.7L308.6 1127.7L314.4 1135.5L320.1 1144.3L325.8 1153.9L331.6 1164.5L337.3 1176.1L343 1188.5L348.8 1201.9L354.5 1216.2L360.3 1231.4L366 1247.5M118 1263.8L123.6 1263.8L129.1 1263.8L134.7 1263.8L140.3 1257.6L145.8 1244.3L151.4 1231.6L157 1219.5L162.5 1208.1L168.1 1197.2L173.7 1187L179.2 1177.4L184.8 1168.4L190.3 1160.1L195.9 1152.3L201.5 1145.2L207 1138.7L212.6 1132.8L218.2 1127.5L223.7 1122.9L229.3 1118.9L234.9 1115.5L240.4 1112.7L246 1110.5L251.6 1109L257.1 1108L262.7 1107.7L268.4 1108.2L274.2 1109.6L279.9 1111.9L285.7 1115.1L291.4 1119.2L297.1 1124.3L302.9 1130.3L308.6 1137.2L314.4 1145.1L320.1 1153.8L325.8 1163.5L331.6 1174.1L337.3 1185.6L343 1198.1L348.8 1211.5L354.5 1225.8L360.3 1241L366 1257.1M118 1263.8L123.6 1263.8L129.1 1263.8L134.7 1263.8L140.3 1261.7L145.8 1248.4L151.4 1235.7L157 1223.6L162.5 1212.2L168.1 1201.3L173.7 1191.1L179.2 1181.5L184.8 1172.5L190.3 1164.1L195.9 1156.4L201.5 1149.3L207 1142.8L212.6 1136.9L218.2 1131.6L223.7 1127L229.3 1122.9L234.9 1119.5L240.4 1116.8L246 1114.6L251.6 1113L257.1 1112.1L262.7 1111.8L268.4 1112.3L274.2 1113.6L279.9 1115.9L285.7 1119.2L291.4 1123.3L297.1 1128.4L302.9 1134.4L308.6 1141.3L314.4 1149.1L320.1 1157.9L325.8 1167.6L331.6 1178.2L337.3 1189.7L343 1202.2L348.8 1215.5L354.5 1229.8L360.3 1245.1L366 1261.2M118 1263.8L123.6 1263.8L129.1 1263.8L134.7 1263.8L140.3 1263.8L145.8 1258.2L151.4 1245.5L157 1233.4L162.5 1221.9L168.1 1211.1L173.7 1200.9L179.2 1191.3L184.8 1182.3L190.3 1173.9L195.9 1166.2L201.5 1159.1L207 1152.6L212.6 1146.7L218.2 1141.4L223.7 1136.8L229.3 1132.7L234.9 1129.3L240.4 1126.5L246 1124.4L251.6 1122.8L257.1 1121.9L262.7 1121.6L268.4 1122L274.2 1123.4L279.9 1125.7L285.7 1129L291.4 1133.1L297.1 1138.2L302.9 1144.2L308.6 1151.1L314.4 1158.9L320.1 1167.7L325.8 1177.4L331.6 1188L337.3 1199.5L343 1212L348.8 1225.3L354.5 1239.6L360.3 1254.8L366 1263.8M118 1263.8L123.6 1263.8L129.1 1263.8L134.7 1263.8L140.3 1263.8L145.8 1262.2L151.4 1249.5L157 1237.5L162.5 1226L168.1 1215.2L173.7 1204.9L179.2 1195.3L184.8 1186.4L190.3 1178L195.9 1170.3L201.5 1163.1L207 1156.6L212.6 1150.7L218.2 1145.5L223.7 1140.8L229.3 1136.8L234.9 1133.4L240.4 1130.6L246 1128.4L251.6 1126.9L257.1 1126L262.7 1125.7L268.4 1126.1L274.2 1127.5L279.9 1129.8L285.7 1133L291.4 1137.2L297.1 1142.3L302.9 1148.2L308.6 1155.2L314.4 1163L320.1 1171.8L325.8 1181.4L331.6 1192L337.3 1203.6L343 1216L348.8 1229.4L354.5 1243.7L360.3 1258.9L366 1263.8M118 1263.8L123.6 1263.8L129.1 1263.8L134.7 1263.8L140.3 1263.8L145.8 1263.8L151.4 1259.5L157 1247.5L162.5 1236L168.1 1225.2L173.7 1214.9L179.2 1205.3L184.8 1196.3L190.3 1188L195.9 1180.2L201.5 1173.1L207 1166.6L212.6 1160.7L218.2 1155.5L223.7 1150.8L229.3 1146.8L234.9 1143.4L240.4 1140.6L246 1138.4L251.6 1136.9L257.1 1135.9L262.7 1135.6L268.4 1136.1L274.2 1137.5L279.9 1139.8L285.7 1143L291.4 1147.2L297.1 1152.2L302.9 1158.2L308.6 1165.1L314.4 1173L320.1 1181.7L325.8 1191.4L331.6 1202L337.3 1213.6L343 1226L348.8 1239.4L354.5 1253.7L360.3 1263.8L366 1263.8M118 1263.8L123.6 1263.8L129.1 1263.8L134.7 1263.8L140.3 1263.8L145.8 1263.8L151.4 1263.6L157 1251.5L162.5 1240.1L168.1 1229.2L173.7 1219L179.2 1209.4L184.8 1200.4L190.3 1192.1L195.9 1184.3L201.5 1177.2L207 1170.7L212.6 1164.8L218.2 1159.5L223.7 1154.9L229.3 1150.9L234.9 1147.5L240.4 1144.7L246 1142.5L251.6 1141L257.1 1140L262.7 1139.7L268.4 1140.2L274.2 1141.6L279.9 1143.9L285.7 1147.1L291.4 1151.2L297.1 1156.3L302.9 1162.3L308.6 1169.2L314.4 1177.1L320.1 1185.8L325.8 1195.5L331.6 1206.1L337.3 1217.6L343 1230.1L348.8 1243.5L354.5 1257.8L360.3 1263.8L366 1263.8M118 1263.8L123.6 1263.8L129.1 1263.8L134.7 1263.8L140.3 1263.8L145.8 1263.8L151.4 1263.8L157 1261.7L162.5 1250.3L168.1 1239.4L173.7 1229.2L179.2 1219.6L184.8 1210.6L190.3 1202.2L195.9 1194.5L201.5 1187.4L207 1180.9L212.6 1175L218.2 1169.7L223.7 1165.1L229.3 1161.1L234.9 1157.6L240.4 1154.9L246 1152.7L251.6 1151.1L257.1 1150.2L262.7 1149.9L268.4 1150.4L274.2 1151.7L279.9 1154.1L285.7 1157.3L291.4 1161.4L297.1 1166.5L302.9 1172.5L308.6 1179.4L314.4 1187.2L320.1 1196L325.8 1205.7L331.6 1216.3L337.3 1227.8L343 1240.3L348.8 1253.6L354.5 1263.8L360.3 1263.8L366 1263.8M118 1263.8L123.6 1263.8L129.1 1263.8L134.7 1263.8L140.3 1263.8L145.8 1263.8L151.4 1263.8L157 1263.8L162.5 1254.3L168.1 1243.5L173.7 1233.3L179.2 1223.7L184.8 1214.7L190.3 1206.3L195.9 1198.6L201.5 1191.5L207 1184.9L212.6 1179.1L218.2 1173.8L223.7 1169.2L229.3 1165.1L234.9 1161.7L240.4 1158.9L246 1156.8L251.6 1155.2L257.1 1154.3L262.7 1154L268.4 1154.4L274.2 1155.8L279.9 1158.1L285.7 1161.4L291.4 1165.5L297.1 1170.6L302.9 1176.6L308.6 1183.5L314.4 1191.3L320.1 1200.1L325.8 1209.8L331.6 1220.4L337.3 1231.9L343 1244.3L348.8 1257.7L354.5 1263.8L360.3 1263.8L366 1263.8M118 1263.8L123.6 1263.8L129.1 1263.8L134.7 1263.8L140.3 1263.8L145.8 1263.8L151.4 1263.8L157 1263.8L162.5 1263.8L168.1 1253.9L173.7 1243.7L179.2 1234.1L184.8 1225.1L190.3 1216.7L195.9 1209L201.5 1201.8L207 1195.3L212.6 1189.5L218.2 1184.2L223.7 1179.5L229.3 1175.5L234.9 1172.1L240.4 1169.3L246 1167.2L251.6 1165.6L257.1 1164.7L262.7 1164.4L268.4 1164.8L274.2 1166.2L279.9 1168.5L285.7 1171.7L291.4 1175.9L297.1 1181L302.9 1187L308.6 1193.9L314.4 1201.7L320.1 1210.5L325.8 1220.2L331.6 1230.8L337.3 1242.3L343 1254.7L348.8 1263.8L354.5 1263.8L360.3 1263.8L366 1263.8M118 1263.8L123.6 1263.8L129.1 1263.8L134.7 1263.8L140.3 1263.8L145.8 1263.8L151.4 1263.8L157 1263.8L162.5 1263.8L168.1 1258L173.7 1247.7L179.2 1238.1L184.8 1229.2L190.3 1220.8L195.9 1213L201.5 1205.9L207 1199.4L212.6 1193.5L218.2 1188.3L223.7 1183.6L229.3 1179.6L234.9 1176.2L240.4 1173.4L246 1171.2L251.6 1169.7L257.1 1168.8L262.7 1168.4L268.4 1168.9L274.2 1170.3L279.9 1172.6L285.7 1175.8L291.4 1180L297.1 1185L302.9 1191L308.6 1198L314.4 1205.8L320.1 1214.6L325.8 1224.2L331.6 1234.8L337.3 1246.4L343 1258.8L348.8 1263.8L354.5 1263.8L360.3 1263.8L366 1263.8M118 1263.8L123.6 1263.8L129.1 1263.8L134.7 1263.8L140.3 1263.8L145.8 1263.8L151.4 1263.8L157 1263.8L162.5 1263.8L168.1 1263.8L173.7 1258.3L179.2 1248.7L184.8 1239.7L190.3 1231.4L195.9 1223.6L201.5 1216.5L207 1210L212.6 1204.1L218.2 1198.9L223.7 1194.2L229.3 1190.2L234.9 1186.8L240.4 1184L246 1181.8L251.6 1180.3L257.1 1179.3L262.7 1179L268.4 1179.5L274.2 1180.9L279.9 1183.2L285.7 1186.4L291.4 1190.6L297.1 1195.6L302.9 1201.6L308.6 1208.5L314.4 1216.4L320.1 1225.1L325.8 1234.8L331.6 1245.4L337.3 1257L343 1263.8L348.8 1263.8L354.5 1263.8L360.3 1263.8L366 1263.8M118 1263.8L123.6 1263.8L129.1 1263.8L134.7 1263.8L140.3 1263.8L145.8 1263.8L151.4 1263.8L157 1263.8L162.5 1263.8L168.1 1263.8L173.7 1262.4L179.2 1252.8L184.8 1243.8L190.3 1235.5L195.9 1227.7L201.5 1220.6L207 1214.1L212.6 1208.2L218.2 1202.9L223.7 1198.3L229.3 1194.3L234.9 1190.9L240.4 1188.1L246 1185.9L251.6 1184.4L257.1 1183.4L262.7 1183.1L268.4 1183.6L274.2 1185L279.9 1187.3L285.7 1190.5L291.4 1194.6L297.1 1199.7L302.9 1205.7L308.6 1212.6L314.4 1220.5L320.1 1229.2L325.8 1238.9L331.6 1249.5L337.3 1261L343 1263.8L348.8 1263.8L354.5 1263.8L360.3 1263.8L366 1263.8M118 1263.8L123.6 1263.8L129.1 1263.8L134.7 1263.8L140.3 1263.8L145.8 1263.8L151.4 1263.8L157 1263.8L162.5 1263.8L168.1 1263.8L173.7 1263.8L179.2 1263.6L184.8 1254.6L190.3 1246.3L195.9 1238.5L201.5 1231.4L207 1224.9L212.6 1219L218.2 1213.7L223.7 1209.1L229.3 1205.1L234.9 1201.7L240.4 1198.9L246 1196.7L251.6 1195.2L257.1 1194.2L262.7 1193.9L268.4 1194.4L274.2 1195.8L279.9 1198.1L285.7 1201.3L291.4 1205.4L297.1 1210.5L302.9 1216.5L308.6 1223.4L314.4 1231.3L320.1 1240L325.8 1249.7L331.6 1260.3L337.3 1263.8L343 1263.8L348.8 1263.8L354.5 1263.8L360.3 1263.8L366 1263.8M118 1263.8L123.6 1263.8L129.1 1263.8L134.7 1263.8L140.3 1263.8L145.8 1263.8L151.4 1263.8L157 1263.8L162.5 1263.8L168.1 1263.8L173.7 1263.8L179.2 1263.8L184.8 1258.7L190.3 1250.3L195.9 1242.6L201.5 1235.5L207 1229L212.6 1223.1L218.2 1217.8L223.7 1213.2L229.3 1209.1L234.9 1205.7L240.4 1202.9L246 1200.8L251.6 1199.2L257.1 1198.3L262.7 1198L268.4 1198.4L274.2 1199.8L279.9 1202.1L285.7 1205.4L291.4 1209.5L297.1 1214.6L302.9 1220.6L308.6 1227.5L314.4 1235.3L320.1 1244.1L325.8 1253.8L331.6 1263.8L337.3 1263.8L343 1263.8L348.8 1263.8L354.5 1263.8L360.3 1263.8L366 1263.8M118 1263.8L123.6 1263.8L129.1 1263.8L134.7 1263.8L140.3 1263.8L145.8 1263.8L151.4 1263.8L157 1263.8L162.5 1263.8L168.1 1263.8L173.7 1263.8L179.2 1263.8L184.8 1263.8L190.3 1261.3L195.9 1253.6L201.5 1246.5L207 1240L212.6 1234.1L218.2 1228.8L223.7 1224.2L229.3 1220.1L234.9 1216.7L240.4 1213.9L246 1211.8L251.6 1210.2L257.1 1209.3L262.7 1209L268.4 1209.5L274.2 1210.8L279.9 1213.1L285.7 1216.4L291.4 1220.5L297.1 1225.6L302.9 1231.6L308.6 1238.5L314.4 1246.3L320.1 1255.1L325.8 1263.8L331.6 1263.8L337.3 1263.8L343 1263.8L348.8 1263.8L354.5 1263.8L360.3 1263.8L366 1263.8M118 1263.8L123.6 1263.8L129.1 1263.8L134.7 1263.8L140.3 1263.8L145.8 1263.8L151.4 1263.8L157 1263.8L162.5 1263.8L168.1 1263.8L173.7 1263.8L179.2 1263.8L184.8 1263.8L190.3 1263.8L195.9 1257.7L201.5 1250.5L207 1244L212.6 1238.2L218.2 1232.9L223.7 1228.2L229.3 1224.2L234.9 1220.8L240.4 1218L246 1215.9L251.6 1214.3L257.1 1213.4L262.7 1213.1L268.4 1213.5L274.2 1214.9L279.9 1217.2L285.7 1220.4L291.4 1224.6L297.1 1229.7L302.9 1235.7L308.6 1242.6L314.4 1250.4L320.1 1259.2L325.8 1263.8L331.6 1263.8L337.3 1263.8L343 1263.8L348.8 1263.8L354.5 1263.8L360.3 1263.8L366 1263.8M118 1263.8L123.6 1263.8L129.1 1263.8L134.7 1263.8L140.3 1263.8L145.8 1263.8L151.4 1263.8L157 1263.8L162.5 1263.8L168.1 1263.8L173.7 1263.8L179.2 1263.8L184.8 1263.8L190.3 1263.8L195.9 1263.8L201.5 1261.8L207 1255.2L212.6 1249.4L218.2 1244.1L223.7 1239.4L229.3 1235.4L234.9 1232L240.4 1229.2L246 1227.1L251.6 1225.5L257.1 1224.6L262.7 1224.3L268.4 1224.7L274.2 1226.1L279.9 1228.4L285.7 1231.7L291.4 1235.8L297.1 1240.9L302.9 1246.9L308.6 1253.8L314.4 1261.6L320.1 1263.8L325.8 1263.8L331.6 1263.8L337.3 1263.8L343 1263.8L348.8 1263.8L354.5 1263.8L360.3 1263.8L366 1263.8M118 1263.8L123.6 1263.8L129.1 1263.8L134.7 1263.8L140.3 1263.8L145.8 1263.8L151.4 1263.8L157 1263.8L162.5 1263.8L168.1 1263.8L173.7 1263.8L179.2 1263.8L184.8 1263.8L190.3 1263.8L195.9 1263.8L201.5 1263.8L207 1259.3L212.6 1253.4L218.2 1248.2L223.7 1243.5L229.3 1239.5L234.9 1236.1L240.4 1233.3L246 1231.1L251.6 1229.6L257.1 1228.7L262.7 1228.3L268.4 1228.8L274.2 1230.2L279.9 1232.5L285.7 1235.7L291.4 1239.9L297.1 1244.9L302.9 1250.9L308.6 1257.9L314.4 1263.8L320.1 1263.8L325.8 1263.8L331.6 1263.8L337.3 1263.8L343 1263.8L348.8 1263.8L354.5 1263.8L360.3 1263.8L366 1263.8M118 1263.8L123.6 1263.8L129.1 1263.8L134.7 1263.8L140.3 1263.8L145.8 1263.8L151.4 1263.8L157 1263.8L162.5 1263.8L168.1 1263.8L173.7 1263.8L179.2 1263.8L184.8 1263.8L190.3 1263.8L195.9 1263.8L201.5 1263.8L207 1263.8L212.6 1263.8L218.2 1259.6L223.7 1254.9L229.3 1250.9L234.9 1247.5L240.4 1244.7L246 1242.5L251.6 1241L257.1 1240.1L262.7 1239.8L268.4 1240.2L274.2 1241.6L279.9 1243.9L285.7 1247.1L291.4 1251.3L297.1 1256.4L302.9 1262.4L308.6 1263.8L314.4 1263.8L320.1 1263.8L325.8 1263.8L331.6 1263.8L337.3 1263.8L343 1263.8L348.8 1263.8L354.5 1263.8L360.3 1263.8L366 1263.8M118 1263.8L123.6 1263.8L129.1 1263.8L134.7 1263.8L140.3 1263.8L145.8 1263.8L151.4 1263.8L157 1263.8L162.5 1263.8L168.1 1263.8L173.7 1263.8L179.2 1263.8L184.8 1263.8L190.3 1263.8L195.9 1263.8L201.5 1263.8L207 1263.8L212.6 1263.8L218.2 1263.7L223.7 1259L229.3 1255L234.9 1251.6L240.4 1248.8L246 1246.6L251.6 1245.1L257.1 1244.1L262.7 1243.8L268.4 1244.3L274.2 1245.7L279.9 1248L285.7 1251.2L291.4 1255.4L297.1 1260.4L302.9 1263.8L308.6 1263.8L314.4 1263.8L320.1 1263.8L325.8 1263.8L331.6 1263.8L337.3 1263.8L343 1263.8L348.8 1263.8L354.5 1263.8L360.3 1263.8L366 1263.8M118 1263.8L123.6 1263.8L129.1 1263.8L134.7 1263.8L140.3 1263.8L145.8 1263.8L151.4 1263.8L157 1263.8L162.5 1263.8L168.1 1263.8L173.7 1263.8L179.2 1263.8L184.8 1263.8L190.3 1263.8L195.9 1263.8L201.5 1263.8L207 1263.8L212.6 1263.8L218.2 1263.8L223.7 1263.8L229.3 1263.8L234.9 1263.2L240.4 1260.4L246 1258.2L251.6 1256.7L257.1 1255.8L262.7 1255.4L268.4 1255.9L274.2 1257.3L279.9 1259.6L285.7 1262.8L291.4 1263.8L297.1 1263.8L302.9 1263.8L308.6 1263.8L314.4 1263.8L320.1 1263.8L325.8 1263.8L331.6 1263.8L337.3 1263.8L343 1263.8L348.8 1263.8L354.5 1263.8L360.3 1263.8L366 1263.8M118 1263.8L123.6 1263.8L129.1 1263.8L134.7 1263.8L140.3 1263.8L145.8 1263.8L151.4 1263.8L157 1263.8L162.5 1263.8L168.1 1263.8L173.7 1263.8L179.2 1263.8L184.8 1263.8L190.3 1263.8L195.9 1263.8L201.5 1263.8L207 1263.8L212.6 1263.8L218.2 1263.8L223.7 1263.8L229.3 1263.8L234.9 1263.8L240.4 1263.8L246 1262.3L251.6 1260.8L257.1 1259.8L262.7 1259.5L268.4 1260L274.2 1261.4L279.9 1263.7L285.7 1263.8L291.4 1263.8L297.1 1263.8L302.9 1263.8L308.6 1263.8L314.4 1263.8L320.1 1263.8L325.8 1263.8L331.6 1263.8L337.3 1263.8L343 1263.8L348.8 1263.8L354.5 1263.8L360.3 1263.8L366 1263.8M118 1263.8L123.6 1263.8L129.1 1263.8L134.7 1263.8L140.3 1263.8L145.8 1263.8L151.4 1263.8L157 1263.8L162.5 1263.8L168.1 1263.8L173.7 1263.8L179.2 1263.8L184.8 1263.8L190.3 1263.8L195.9 1263.8L201.5 1263.8L207 1263.8L212.6 1263.8L218.2 1263.8L223.7 1263.8L229.3 1263.8L234.9 1263.8L240.4 1263.8L246 1263.8L251.6 1263.8L257.1 1263.8L262.7 1263.8L268.4 1263.8L274.2 1263.8L279.9 1263.8L285.7 1263.8L291.4 1263.8L297.1 1263.8L302.9 1263.8L308.6 1263.8L314.4 1263.8L320.1 1263.8L325.8 1263.8L331.6 1263.8L337.3 1263.8L343 1263.8L348.8 1263.8L354.5 1263.8L360.3 1263.8L366 1263.8M118 1263.8L123.6 1263.8L129.1 1263.8L134.7 1263.8L140.3 1263.8L145.8 1263.8L151.4 1263.8L157 1263.8L162.5 1263.8L168.1 1263.8L173.7 1263.8L179.2 1263.8L184.8 1263.8L190.3 1263.8L195.9 1263.8L201.5 1263.8L207 1263.8L212.6 1263.8L218.2 1263.8L223.7 1263.8L229.3 1263.8L234.9 1263.8L240.4 1263.8L246 1263.8L251.6 1263.8L257.1 1263.8L262.7 1263.8L268.4 1263.8L274.2 1263.8L279.9 1263.8L285.7 1263.8L291.4 1263.8L297.1 1263.8L302.9 1263.8L308.6 1263.8L314.4 1263.8L320.1 1263.8L325.8 1263.8L331.6 1263.8L337.3 1263.8L343 1263.8L348.8 1263.8L354.5 1263.8L360.3 1263.8L366 1263.8M118 1263.8L123.6 1263.8L129.1 1263.8L134.7 1263.8L140.3 1263.8L145.8 1263.8L151.4 1263.8L157 1263.8L162.5 1263.8L168.1 1263.8L173.7 1263.8L179.2 1263.8L184.8 1263.8L190.3 1263.8L195.9 1263.8L201.5 1263.8L207 1263.8L212.6 1263.8L218.2 1263.8L223.7 1263.8L229.3 1263.8L234.9 1263.8L240.4 1263.8L246 1263.8L251.6 1263.8L257.1 1263.8L262.7 1263.8L268.4 1263.8L274.2 1263.8L279.9 1263.8L285.7 1263.8L291.4 1263.8L297.1 1263.8L302.9 1263.8L308.6 1263.8L314.4 1263.8L320.1 1263.8L325.8 1263.8L331.6 1263.8L337.3 1263.8L343 1263.8L348.8 1263.8L354.5 1263.8L360.3 1263.8L366 1263.8M118 1263.8L123.6 1263.8L129.1 1263.8L134.7 1263.8L140.3 1263.8L145.8 1263.8L151.4 1263.8L157 1263.8L162.5 1263.8L168.1 1263.8L173.7 1263.8L179.2 1263.8L184.8 1263.8L190.3 1263.8L195.9 1263.8L201.5 1263.8L207 1263.8L212.6 1263.8L218.2 1263.8L223.7 1263.8L229.3 1263.8L234.9 1263.8L240.4 1263.8L246 1263.8L251.6 1263.8L257.1 1263.8L262.7 1263.8L268.4 1263.8L274.2 1263.8L279.9 1263.8L285.7 1263.8L291.4 1263.8L297.1 1263.8L302.9 1263.8L308.6 1263.8L314.4 1263.8L320.1 1263.8L325.8 1263.8L331.6 1263.8L337.3 1263.8L343 1263.8L348.8 1263.8L354.5 1263.8L360.3 1263.8L366 1263.8M118 1263.8L123.6 1263.8L129.1 1263.8L134.7 1263.8L140.3 1263.8L145.8 1263.8L151.4 1263.8L157 1263.8L162.5 1263.8L168.1 1263.8L173.7 1263.8L179.2 1263.8L184.8 1263.8L190.3 1263.8L195.9 1263.8L201.5 1263.8L207 1263.8L212.6 1263.8L218.2 1263.8L223.7 1263.8L229.3 1263.8L234.9 1263.8L240.4 1263.8L246 1263.8L251.6 1263.8L257.1 1263.8L262.7 1263.8L268.4 1263.8L274.2 1263.8L279.9 1263.8L285.7 1263.8L291.4 1263.8L297.1 1263.8L302.9 1263.8L308.6 1263.8L314.4 1263.8L320.1 1263.8L325.8 1263.8L331.6 1263.8L337.3 1263.8L343 1263.8L348.8 1263.8L354.5 1263.8L360.3 1263.8L366 1263.8M118 1263.8L123.6 1263.8L129.1 1263.8L134.7 1263.8L140.3 1263.8L145.8 1263.8L151.4 1263.8L157 1263.8L162.5 1263.8L168.1 1263.8L173.7 1263.8L179.2 1263.8L184.8 1263.8L190.3 1263.8L195.9 1263.8L201.5 1263.8L207 1263.8L212.6 1263.8L218.2 1263.8L223.7 1263.8L229.3 1263.8L234.9 1263.8L240.4 1263.8L246 1263.8L251.6 1263.8L257.1 1263.8L262.7 1263.8L268.4 1263.8L274.2 1263.8L279.9 1263.8L285.7 1263.8L291.4 1263.8L297.1 1263.8L302.9 1263.8L308.6 1263.8L314.4 1263.8L320.1 1263.8L325.8 1263.8L331.6 1263.8L337.3 1263.8L343 1263.8L348.8 1263.8L354.5 1263.8L360.3 1263.8L366 1263.8M118 1263.8L123.6 1263.8L129.1 1263.8L134.7 1263.8L140.3 1263.8L145.8 1263.8L151.4 1263.8L157 1263.8L162.5 1263.8L168.1 1263.8L173.7 1263.8L179.2 1263.8L184.8 1263.8L190.3 1263.8L195.9 1263.8L201.5 1263.8L207 1263.8L212.6 1263.8L218.2 1263.8L223.7 1263.8L229.3 1263.8L234.9 1263.8L240.4 1263.8L246 1263.8L251.6 1263.8L257.1 1263.8L262.7 1263.8L268.4 1263.8L274.2 1263.8L279.9 1263.8L285.7 1263.8L291.4 1263.8L297.1 1263.8L302.9 1263.8L308.6 1263.8L314.4 1263.8L320.1 1263.8L325.8 1263.8L331.6 1263.8L337.3 1263.8L343 1263.8L348.8 1263.8L354.5 1263.8L360.3 1263.8L366 1263.8M118 1263.8L123.6 1263.8L129.1 1263.8L134.7 1263.8L140.3 1263.8L145.8 1263.8L151.4 1263.8L157 1263.8L162.5 1263.8L168.1 1263.8L173.7 1263.8L179.2 1263.8L184.8 1263.8L190.3 1263.8L195.9 1263.8L201.5 1263.8L207 1263.8L212.6 1263.8L218.2 1263.8L223.7 1263.8L229.3 1263.8L234.9 1263.8L240.4 1263.8L246 1263.8L251.6 1263.8L257.1 1263.8L262.7 1263.8L268.4 1263.8L274.2 1263.8L279.9 1263.8L285.7 1263.8L291.4 1263.8L297.1 1263.8L302.9 1263.8L308.6 1263.8L314.4 1263.8L320.1 1263.8L325.8 1263.8L331.6 1263.8L337.3 1263.8L343 1263.8L348.8 1263.8L354.5 1263.8L360.3 1263.8L366 1263.8M118 1263.8L123.6 1263.8L129.1 1263.8L134.7 1263.8L140.3 1263.8L145.8 1263.8L151.4 1263.8L157 1263.8L162.5 1263.8L168.1 1263.8L173.7 1263.8L179.2 1263.8L184.8 1263.8L190.3 1263.8L195.9 1263.8L201.5 1263.8L207 1263.8L212.6 1263.8L218.2 1263.8L223.7 1263.8L229.3 1263.8L234.9 1263.8L240.4 1263.8L246 1263.8L251.6 1263.8L257.1 1263.8L262.7 1263.8L268.4 1263.8L274.2 1263.8L279.9 1263.8L285.7 1263.8L291.4 1263.8L297.1 1263.8L302.9 1263.8L308.6 1263.8L314.4 1263.8L320.1 1263.8L325.8 1263.8L331.6 1263.8L337.3 1263.8L343 1263.8L348.8 1263.8L354.5 1263.8L360.3 1263.8L366 1263.8M118 1263.8L123.6 1263.8L129.1 1263.8L134.7 1263.8L140.3 1263.8L145.8 1263.8L151.4 1263.8L157 1263.8L162.5 1263.8L168.1 1263.8L173.7 1263.8L179.2 1263.8L184.8 1263.8L190.3 1263.8L195.9 1263.8L201.5 1263.8L207 1263.8L212.6 1263.8L218.2 1263.8L223.7 1263.8L229.3 1263.8L234.9 1263.8L240.4 1263.8L246 1263.8L251.6 1263.8L257.1 1263.8L262.7 1263.8L268.4 1263.8L274.2 1263.8L279.9 1263.8L285.7 1263.8L291.4 1263.8L297.1 1263.8L302.9 1263.8L308.6 1263.8L314.4 1263.8L320.1 1263.8L325.8 1263.8L331.6 1263.8L337.3 1263.8L343 1263.8L348.8 1263.8L354.5 1263.8L360.3 1263.8L366 1263.8M118 1263.8L123.6 1263.8L129.1 1263.8L134.7 1263.8L140.3 1263.8L145.8 1263.8L151.4 1263.8L157 1263.8L162.5 1263.8L168.1 1263.8L173.7 1263.8L179.2 1263.8L184.8 1263.8L190.3 1263.8L195.9 1263.8L201.5 1263.8L207 1263.8L212.6 1263.8L218.2 1263.8L223.7 1263.8L229.3 1263.8L234.9 1263.8L240.4 1263.8L246 1263.8L251.6 1263.8L257.1 1263.8L262.7 1263.8L268.4 1263.8L274.2 1263.8L279.9 1263.8L285.7 1263.8L291.4 1263.8L297.1 1263.8L302.9 1263.8L308.6 1263.8L314.4 1263.8L320.1 1263.8L325.8 1263.8L331.6 1263.8L337.3 1263.8L343 1263.8L348.8 1263.8L354.5 1263.8L360.3 1263.8L366 1263.8M118 1263.8L123.6 1263.8L129.1 1263.8L134.7 1263.8L140.3 1263.8L145.8 1263.8L151.4 1263.8L157 1263.8L162.5 1263.8L168.1 1263.8L173.7 1263.8L179.2 1263.8L184.8 1263.8L190.3 1263.8L195.9 1263.8L201.5 1263.8L207 1263.8L212.6 1263.8L218.2 1263.8L223.7 1263.8L229.3 1263.8L234.9 1263.8L240.4 1263.8L246 1263.8L251.6 1263.8L257.1 1263.8L262.7 1263.8L268.4 1263.8L274.2 1263.8L279.9 1263.8L285.7 1263.8L291.4 1263.8L297.1 1263.8L302.9 1263.8L308.6 1263.8L314.4 1263.8L320.1 1263.8L325.8 1263.8L331.6 1263.8L337.3 1263.8L343 1263.8L348.8 1263.8L354.5 1263.8L360.3 1263.8L366 1263.8M118 1263.8L123.6 1263.8L129.1 1263.8L134.7 1263.8L140.3 1263.8L145.8 1263.8L151.4 1263.8L157 1263.8L162.5 1263.8L168.1 1263.8L173.7 1263.8L179.2 1263.8L184.8 1263.8L190.3 1263.8L195.9 1263.8L201.5 1263.8L207 1263.8L212.6 1263.8L218.2 1263.8L223.7 1263.8L229.3 1263.8L234.9 1263.8L240.4 1263.8L246 1263.8L251.6 1263.8L257.1 1263.8L262.7 1263.8L268.4 1263.8L274.2 1263.8L279.9 1263.8L285.7 1263.8L291.4 1263.8L297.1 1263.8L302.9 1263.8L308.6 1263.8L314.4 1263.8L320.1 1263.8L325.8 1263.8L331.6 1263.8L337.3 1263.8L343 1263.8L348.8 1263.8L354.5 1263.8L360.3 1263.8L366 1263.8M118 1263.8L123.6 1263.8L129.1 1263.8L134.7 1263.8L140.3 1263.8L145.8 1263.8L151.4 1263.8L157 1263.8L162.5 1263.8L168.1 1263.8L173.7 1263.8L179.2 1263.8L184.8 1263.8L190.3 1263.8L195.9 1263.8L201.5 1263.8L207 1263.8L212.6 1263.8L218.2 1263.8L223.7 1263.8L229.3 1263.8L234.9 1263.8L240.4 1263.8L246 1263.8L251.6 1263.8L257.1 1263.8L262.7 1263.8L268.4 1263.8L274.2 1263.8L279.9 1263.8L285.7 1263.8L291.4 1263.8L297.1 1263.8L302.9 1263.8L308.6 1263.8L314.4 1263.8L320.1 1263.8L325.8 1263.8L331.6 1263.8L337.3 1263.8L343 1263.8L348.8 1263.8L354.5 1263.8L360.3 1263.8L366 1263.8M118 1263.8L123.6 1263.8L129.1 1263.8L134.7 1263.8L140.3 1263.8L145.8 1263.8L151.4 1263.8L157 1263.8L162.5 1263.8L168.1 1263.8L173.7 1263.8L179.2 1263.8L184.8 1263.8L190.3 1263.8L195.9 1263.8L201.5 1263.8L207 1263.8L212.6 1263.8L218.2 1263.8L223.7 1263.8L229.3 1263.8L234.9 1263.8L240.4 1263.8L246 1263.8L251.6 1263.8L257.1 1263.8L262.7 1263.8L268.4 1263.8L274.2 1263.8L279.9 1263.8L285.7 1263.8L291.4 1263.8L297.1 1263.8L302.9 1263.8L308.6 1263.8L314.4 1263.8L320.1 1263.8L325.8 1263.8L331.6 1263.8L337.3 1263.8L343 1263.8L348.8 1263.8L354.5 1263.8L360.3 1263.8L366 1263.8M118 1263.8L123.6 1263.8L129.1 1263.8L134.7 1263.8L140.3 1263.8L145.8 1263.8L151.4 1263.8L157 1263.8L162.5 1263.8L168.1 1263.8L173.7 1263.8L179.2 1263.8L184.8 1263.8L190.3 1263.8L195.9 1263.8L201.5 1263.8L207 1263.8L212.6 1263.8L218.2 1263.8L223.7 1263.8L229.3 1263.8L234.9 1263.8L240.4 1263.8L246 1263.8L251.6 1263.8L257.1 1263.8L262.7 1263.8L268.4 1263.8L274.2 1263.8L279.9 1263.8L285.7 1263.8L291.4 1263.8L297.1 1263.8L302.9 1263.8L308.6 1263.8L314.4 1263.8L320.1 1263.8L325.8 1263.8L331.6 1263.8L337.3 1263.8L343 1263.8L348.8 1263.8L354.5 1263.8L360.3 1263.8L366 1263.8M207 1045.4L212.6 1047.1L218.2 1048.9L223.7 1050.9L229.3 1053L234.9 1055.1L240.4 1057.1L246 1058.4L251.6 1059.7L257.1 1061.1L262.7 1060.4L268.4 1058.3L274.2 1056.1L279.9 1054L285.7 1051.9L291.4 1049.5L297.1 1047.2L302.9 1044.8M118 1231.1L123.6 1221.4L129.1 1211.7L134.7 1202L140.3 1193.7L145.8 1186.8L151.4 1180.6L157 1175L162.5 1169.6L168.1 1165.1L173.7 1160.7L179.2 1155.9L184.8 1150.7L190.3 1145.6L195.9 1139.8L201.5 1133.7L207 1127.6L212.6 1122L218.2 1116.4L223.7 1112.6L229.3 1109.4L234.9 1106.2L240.4 1101.1L246 1095.5L251.6 1090L257.1 1084.5L262.7 1084.7L268.4 1089.2L274.2 1093.6L279.9 1100.7L285.7 1112.9L291.4 1126.8L297.1 1141.4L302.9 1155.7L308.6 1168.3L314.4 1184.6L320.1 1200.8L325.8 1216.6L331.6 1233.8L337.3 1258.1L343 1263.8L348.8 1263.8L354.5 1263.8L360.3 1263.8L366 1263.8M118 1235.2L123.6 1225.5L129.1 1215.8L134.7 1206.1L140.3 1197.8L145.8 1190.9L151.4 1184.7L157 1179.1L162.5 1173.7L168.1 1169.2L173.7 1164.8L179.2 1159.9L184.8 1154.8L190.3 1149.7L195.9 1143.9L201.5 1137.7L207 1131.7L212.6 1126.1L218.2 1120.5L223.7 1116.7L229.3 1113.5L234.9 1110.2L240.4 1105.2L246 1099.6L251.6 1094.1L257.1 1088.5L262.7 1088.8L268.4 1093.2L274.2 1097.6L279.9 1104.8L285.7 1117L291.4 1130.9L297.1 1145.5L302.9 1159.8L308.6 1172.4L314.4 1188.7L320.1 1204.9L325.8 1220.7L331.6 1237.8L337.3 1262.1L343 1263.8L348.8 1263.8L354.5 1263.8L360.3 1263.8L366 1263.8M118 1243.8L123.6 1234.2L129.1 1224.5L134.7 1214.8L140.3 1206.5L145.8 1199.5L151.4 1193.3L157 1187.8L162.5 1182.3L168.1 1177.9L173.7 1173.4L179.2 1168.6L184.8 1163.5L190.3 1158.3L195.9 1152.5L201.5 1146.4L207 1140.4L212.6 1134.8L218.2 1129.2L223.7 1125.3L229.3 1122.1L234.9 1118.9L240.4 1113.8L246 1108.3L251.6 1102.7L257.1 1097.2L262.7 1097.5L268.4 1101.9L274.2 1106.3L279.9 1113.5L285.7 1125.7L291.4 1139.6L297.1 1154.2L302.9 1168.5L308.6 1181L314.4 1197.4L320.1 1213.5L325.8 1229.4L331.6 1246.5L337.3 1263.8L343 1263.8L348.8 1263.8L354.5 1263.8L360.3 1263.8L366 1263.8M118 1247.9L123.6 1238.2L129.1 1228.5L134.7 1218.8L140.3 1210.5L145.8 1203.6L151.4 1197.4L157 1191.9L162.5 1186.4L168.1 1182L173.7 1177.5L179.2 1172.7L184.8 1167.5L190.3 1162.4L195.9 1156.6L201.5 1150.5L207 1144.5L212.6 1138.8L218.2 1133.2L223.7 1129.4L229.3 1126.2L234.9 1123L240.4 1117.9L246 1112.3L251.6 1106.8L257.1 1101.3L262.7 1101.6L268.4 1106L274.2 1110.4L279.9 1117.5L285.7 1129.7L291.4 1143.7L297.1 1158.3L302.9 1172.6L308.6 1185.1L314.4 1201.4L320.1 1217.6L325.8 1233.4L331.6 1250.6L337.3 1263.8L343 1263.8L348.8 1263.8L354.5 1263.8L360.3 1263.8L366 1263.8M118 1256.6L123.6 1246.9L129.1 1237.2L134.7 1227.5L140.3 1219.2L145.8 1212.3L151.4 1206.1L157 1200.5L162.5 1195.1L168.1 1190.6L173.7 1186.2L179.2 1181.3L184.8 1176.2L190.3 1171.1L195.9 1165.3L201.5 1159.1L207 1153.1L212.6 1147.5L218.2 1141.9L223.7 1138.1L229.3 1134.8L234.9 1131.6L240.4 1126.6L246 1121L251.6 1115.5L257.1 1109.9L262.7 1110.2L268.4 1114.6L274.2 1119L279.9 1126.2L285.7 1138.4L291.4 1152.3L297.1 1166.9L302.9 1181.2L308.6 1193.8L314.4 1210.1L320.1 1226.3L325.8 1242.1L331.6 1259.2L337.3 1263.8L343 1263.8L348.8 1263.8L354.5 1263.8L360.3 1263.8L366 1263.8M118 1260.6L123.6 1251L129.1 1241.3L134.7 1231.6L140.3 1223.3L145.8 1216.3L151.4 1210.2L157 1204.6L162.5 1199.1L168.1 1194.7L173.7 1190.3L179.2 1185.4L184.8 1180.3L190.3 1175.1L195.9 1169.4L201.5 1163.2L207 1157.2L212.6 1151.6L218.2 1146L223.7 1142.1L229.3 1138.9L234.9 1135.7L240.4 1130.6L246 1125.1L251.6 1119.5L257.1 1114L262.7 1114.3L268.4 1118.7L274.2 1123.1L279.9 1130.3L285.7 1142.5L291.4 1156.4L297.1 1171L302.9 1185.3L308.6 1197.9L314.4 1214.2L320.1 1230.4L325.8 1246.2L331.6 1263.3L337.3 1263.8L343 1263.8L348.8 1263.8L354.5 1263.8L360.3 1263.8L366 1263.8M118 1263.8L123.6 1259.6L129.1 1249.9L134.7 1240.2L140.3 1231.9L145.8 1225L151.4 1218.8L157 1213.2L162.5 1207.8L168.1 1203.4L173.7 1198.9L179.2 1194.1L184.8 1188.9L190.3 1183.8L195.9 1178L201.5 1171.9L207 1165.9L212.6 1160.2L218.2 1154.6L223.7 1150.8L229.3 1147.6L234.9 1144.4L240.4 1139.3L246 1133.7L251.6 1128.2L257.1 1122.7L262.7 1122.9L268.4 1127.4L274.2 1131.8L279.9 1138.9L285.7 1151.1L291.4 1165L297.1 1179.6L302.9 1194L308.6 1206.5L314.4 1222.8L320.1 1239L325.8 1254.8L331.6 1263.8L337.3 1263.8L343 1263.8L348.8 1263.8L354.5 1263.8L360.3 1263.8L366 1263.8M118 1263.8L123.6 1263.7L129.1 1254L134.7 1244.3L140.3 1236L145.8 1229.1L151.4 1222.9L157 1217.3L162.5 1211.9L168.1 1207.4L173.7 1203L179.2 1198.1L184.8 1193L190.3 1187.9L195.9 1182.1L201.5 1176L207 1169.9L212.6 1164.3L218.2 1158.7L223.7 1154.9L229.3 1151.7L234.9 1148.4L240.4 1143.4L246 1137.8L251.6 1132.3L257.1 1126.7L262.7 1127L268.4 1131.4L274.2 1135.9L279.9 1143L285.7 1155.2L291.4 1169.1L297.1 1183.7L302.9 1198L308.6 1210.6L314.4 1226.9L320.1 1243.1L325.8 1258.9L331.6 1263.8L337.3 1263.8L343 1263.8L348.8 1263.8L354.5 1263.8L360.3 1263.8L366 1263.8M118 1263.8L123.6 1263.8L129.1 1262.7L134.7 1253L140.3 1244.7L145.8 1237.7L151.4 1231.5L157 1226L162.5 1220.5L168.1 1216.1L173.7 1211.7L179.2 1206.8L184.8 1201.7L190.3 1196.5L195.9 1190.7L201.5 1184.6L207 1178.6L212.6 1173L218.2 1167.4L223.7 1163.5L229.3 1160.3L234.9 1157.1L240.4 1152L246 1146.5L251.6 1140.9L257.1 1135.4L262.7 1135.7L268.4 1140.1L274.2 1144.5L279.9 1151.7L285.7 1163.9L291.4 1177.8L297.1 1192.4L302.9 1206.7L308.6 1219.2L314.4 1235.6L320.1 1251.8L325.8 1263.8L331.6 1263.8L337.3 1263.8L343 1263.8L348.8 1263.8L354.5 1263.8L360.3 1263.8L366 1263.8M118 1263.8L123.6 1263.8L129.1 1263.8L134.7 1257L140.3 1248.8L145.8 1241.8L151.4 1235.6L157 1230.1L162.5 1224.6L168.1 1220.2L173.7 1215.7L179.2 1210.9L184.8 1205.7L190.3 1200.6L195.9 1194.8L201.5 1188.7L207 1182.7L212.6 1177.1L218.2 1171.4L223.7 1167.6L229.3 1164.4L234.9 1161.2L240.4 1156.1L246 1150.6L251.6 1145L257.1 1139.5L262.7 1139.8L268.4 1144.2L274.2 1148.6L279.9 1155.7L285.7 1167.9L291.4 1181.9L297.1 1196.5L302.9 1210.8L308.6 1223.3L314.4 1239.6L320.1 1255.8L325.8 1263.8L331.6 1263.8L337.3 1263.8L343 1263.8L348.8 1263.8L354.5 1263.8L360.3 1263.8L366 1263.8M366 1199L371.6 1199.7L377.1 1200.4L382.7 1201.1L388.2 1201.8L393.8 1203.1L399.3 1204.7L404.9 1206.3L410.4 1208L416 1210.3L421.6 1212.5L427.1 1214.7L432.7 1217L438.2 1219.2L443.8 1221.5L449.3 1223.7L454.9 1226L460.4 1228.3L466 1230.7M366 1201L371.6 1201.7L377.1 1202.4L382.7 1203.1L388.2 1203.8L393.8 1205.1L399.3 1206.8L404.9 1208.4L410.4 1210.1L416 1212.3L421.6 1214.5L427.1 1216.8L432.7 1219L438.2 1221.3L443.8 1223.5L449.3 1225.8L454.9 1228.1L460.4 1230.3L466 1232.8M366 1204.5L371.6 1205.2L377.1 1205.9L382.7 1206.6L388.2 1207.3L393.8 1208.6L399.3 1210.2L404.9 1211.8L410.4 1213.5L416 1215.7L421.6 1218L427.1 1220.2L432.7 1222.5L438.2 1224.7L443.8 1227L449.3 1229.2L454.9 1231.5L460.4 1233.8L466 1236.2M366 1206.5L371.6 1207.2L377.1 1207.9L382.7 1208.6L388.2 1209.3L393.8 1210.6L399.3 1212.2L404.9 1213.8L410.4 1215.6L416 1217.8L421.6 1220L427.1 1222.3L432.7 1224.5L438.2 1226.7L443.8 1229L449.3 1231.3L454.9 1233.5L460.4 1235.8L466 1238.2M366 1210.7L371.6 1211.4L377.1 1212.1L382.7 1212.8L388.2 1213.5L393.8 1214.8L399.3 1216.4L404.9 1218L410.4 1219.8L416 1222L421.6 1224.2L427.1 1226.5L432.7 1228.7L438.2 1230.9L443.8 1233.2L449.3 1235.5L454.9 1237.7L460.4 1240L466 1242.4M366 1212.8L371.6 1213.4L377.1 1214.1L382.7 1214.8L388.2 1215.5L393.8 1216.9L399.3 1218.5L404.9 1220.1L410.4 1221.8L416 1224L421.6 1226.3L427.1 1228.5L432.7 1230.7L438.2 1233L443.8 1235.2L449.3 1237.5L454.9 1239.8L460.4 1242L466 1244.5M366 1217.7L371.6 1218.4L377.1 1219.1L382.7 1219.8L388.2 1220.5L393.8 1221.8L399.3 1223.4L404.9 1225.1L410.4 1226.8L416 1229L421.6 1231.2L427.1 1233.5L432.7 1235.7L438.2 1237.9L443.8 1240.2L449.3 1242.5L454.9 1244.7L460.4 1247L466 1249.4M366 1219.8L371.6 1220.5L377.1 1221.1L382.7 1221.8L388.2 1222.5L393.8 1223.9L399.3 1225.5L404.9 1227.1L410.4 1228.8L416 1231L421.6 1233.3L427.1 1235.5L432.7 1237.7L438.2 1240L443.8 1242.2L449.3 1244.5L454.9 1246.8L460.4 1249L466 1251.5M366 1225.5L371.6 1226.2L377.1 1226.9L382.7 1227.6L388.2 1228.3L393.8 1229.6L399.3 1231.2L404.9 1232.8L410.4 1234.5L416 1236.8L421.6 1239L427.1 1241.2L432.7 1243.5L438.2 1245.7L443.8 1248L449.3 1250.2L454.9 1252.5L460.4 1254.8L466 1257.2M366 1227.5L371.6 1228.2L377.1 1228.9L382.7 1229.6L388.2 1230.3L393.8 1231.6L399.3 1233.2L404.9 1234.9L410.4 1236.6L416 1238.8L421.6 1241L427.1 1243.3L432.7 1245.5L438.2 1247.7L443.8 1250L449.3 1252.3L454.9 1254.5L460.4 1256.8L466 1259.3M366 1234L371.6 1234.7L377.1 1235.4L382.7 1236.1L388.2 1236.8L393.8 1238.1L399.3 1239.7L404.9 1241.4L410.4 1243.1L416 1245.3L421.6 1247.5L427.1 1249.8L432.7 1252L438.2 1254.2L443.8 1256.5L449.3 1258.8L454.9 1261L460.4 1263.3L466 1263.8M366 1236.1L371.6 1236.8L377.1 1237.4L382.7 1238.1L388.2 1238.8L393.8 1240.2L399.3 1241.8L404.9 1243.4L410.4 1245.1L416 1247.3L421.6 1249.6L427.1 1251.8L432.7 1254L438.2 1256.3L443.8 1258.5L449.3 1260.8L454.9 1263.1L460.4 1263.8L466 1263.8" fill="none" stroke="#a3a3ab" stroke-width="1.2"/>
<path d="M123.6 752.3h0M129.1 770.4h0M134.7 788.5h0M140.3 806.1h0M145.8 823.4h0M151.4 840.7h0M157 857.9h0M162.5 875.1h0M168.1 891.8h0M173.7 904.7h0M179.2 917.7h0M184.8 930.4h0M190.3 939.7h0M195.9 949h0M201.5 958.1h0M207 966.5h0M212.6 973.5h0M218.2 975.9h0M223.7 978.4h0M229.3 980.8h0M234.9 982.6h0M240.4 982.9h0M246 983.1h0M251.6 983.4h0M257.1 983.7h0M262.7 984h0M268.4 983.9h0M274.2 983.8h0M279.9 983.7h0M285.7 983.6h0M291.4 983.3h0M297.1 982.6h0M302.9 981.8h0M308.6 978.8h0M314.4 968.5h0M320.1 958.1h0M325.8 942h0M331.6 924h0M337.3 905h0M343 884h0M348.8 862h0M354.5 838.9h0M360.3 818.1h0M366 780h0M123.6 749.1h0M129.1 763.3h0M134.7 774.2h0M140.3 783.6h0M145.8 793h0M151.4 801.2h0M157 806h0M162.5 810.9h0M168.1 815.7h0M173.7 820.5h0M179.2 825.3h0M184.8 830.1h0M190.3 834.6h0M195.9 839h0M201.5 843.4h0M207 847.8h0M212.6 851.8h0M218.2 853.9h0M223.7 856h0M229.3 858.1h0M234.9 860.2h0M240.4 862.3h0M285.7 859.2h0M291.4 852.3h0M297.1 845.4h0M302.9 834.3h0M308.6 819h0M314.4 800.6h0M320.1 777.6h0M325.8 750.9h0M366 792h0M371.6 791.5h0M377.1 791.1h0M382.7 790.6h0M388.2 790.1h0M393.8 788.7h0M399.3 786.9h0M404.9 785.1h0M410.4 783h0M416 779.7h0M421.6 776.3h0M427.1 773h0M432.7 769.6h0M438.2 766.2h0M443.8 761.4h0M449.3 756.7h0M454.9 752h0M460.4 747.1h0M118 1231.3h0M123.6 1222.9h0M129.1 1213.7h0M134.7 1201.1h0M140.3 1188h0M145.8 1174.1h0M151.4 1159.8h0M157 1144.6h0M162.5 1130.4h0M168.1 1117h0M173.7 1105.5h0M179.2 1094.3h0M184.8 1083.7h0M190.3 1073.5h0M195.9 1065.6h0M201.5 1058.3h0M207 1052.4h0M308.6 1043.8h0M314.4 1051h0M320.1 1062.6h0M325.8 1075h0M331.6 1092.2h0M337.3 1107.1h0M343 1123.5h0M348.8 1143.9h0M354.5 1162.1h0M360.3 1178.6h0M366 1197.3h0M366 1199h0M371.6 1199.7h0M377.1 1200.4h0M382.7 1201.1h0M388.2 1201.8h0M393.8 1203.1h0M399.3 1204.7h0M404.9 1206.3h0M410.4 1208h0M416 1210.3h0M421.6 1212.5h0M427.1 1214.7h0M432.7 1217h0M438.2 1219.2h0M443.8 1221.5h0M449.3 1223.7h0M454.9 1226h0M460.4 1228.3h0M466 1230.7h0" fill="none" stroke="#a9d8e8" stroke-width="6.2" stroke-linecap="round"/>
<path d="M123.6 744.7h0M129.1 762.8h0M134.7 780.9h0M140.3 798.4h0M145.8 815.8h0M151.4 833.1h0M157 850.2h0M162.5 867.4h0M168.1 884.1h0M173.7 897.1h0M179.2 910.1h0M184.8 922.8h0M190.3 932.1h0M195.9 941.4h0M201.5 950.5h0M207 958.8h0M212.6 965.9h0M218.2 968.3h0M223.7 970.7h0M229.3 973.1h0M234.9 974.9h0M240.4 975.2h0M246 975.5h0M251.6 975.8h0M257.1 976.1h0M262.7 976.4h0M268.4 976.3h0M274.2 976.1h0M279.9 976h0M285.7 975.9h0M291.4 975.7h0M297.1 974.9h0M302.9 974.1h0M308.6 971.2h0M314.4 960.8h0M320.1 950.5h0M325.8 934.3h0M331.6 916.3h0M337.3 897.4h0M343 876.4h0M129.1 755.1h0M134.7 773.2h0M140.3 790.8h0M145.8 808.1h0M151.4 825.4h0M157 842.6h0M162.5 859.8h0M168.1 876.5h0M173.7 889.5h0M179.2 902.4h0M184.8 915.2h0M190.3 924.4h0M195.9 933.7h0M201.5 942.8h0M207 951.2h0M212.6 958.2h0M218.2 960.7h0M223.7 963.1h0M229.3 965.5h0M234.9 967.3h0M240.4 967.6h0M285.7 968.3h0M291.4 968h0M297.1 967.3h0M302.9 966.5h0M308.6 963.6h0M314.4 953.2h0M320.1 942.9h0M325.8 926.7h0M331.6 908.7h0M337.3 889.8h0M129.1 747.5h0M134.7 765.6h0M140.3 783.2h0M145.8 800.5h0M151.4 817.8h0M157 835h0M162.5 852.1h0M168.1 868.8h0M173.7 881.8h0M179.2 894.8h0M184.8 907.5h0M190.3 916.8h0M195.9 926.1h0M201.5 935.2h0M207 943.5h0M212.6 950.6h0M218.2 953h0M223.7 955.4h0M297.1 959.6h0M302.9 958.9h0M308.6 955.9h0M314.4 945.6h0M320.1 935.2h0M325.8 919h0M331.6 901.1h0M134.7 757.9h0M140.3 775.5h0M145.8 792.8h0M151.4 810.1h0M157 827.3h0M162.5 844.5h0M168.1 861.2h0M173.7 874.2h0M179.2 887.2h0M184.8 899.9h0M190.3 909.2h0M195.9 918.5h0M201.5 927.6h0M207 935.9h0M212.6 943h0M302.9 951.2h0M308.6 948.3h0M314.4 937.9h0M320.1 927.6h0M325.8 911.4h0M168.1 853.6h0M184.8 892.2h0M308.6 940.6h0M134.7 750.4h0M140.3 769.2h0M145.8 787.2h0M151.4 804.3h0M157 820.6h0M162.5 836.1h0M168.1 850.7h0M173.7 864.5h0M179.2 877.5h0M184.8 889.6h0M190.3 900.9h0M195.9 911.4h0M201.5 921h0M207 929.8h0M212.6 937.7h0M218.2 944.8h0M223.7 951.1h0M229.3 956.5h0M234.9 961.1h0M240.4 964.9h0M246 967.8h0M251.6 969.9h0M257.1 971.2h0M262.7 971.6h0M268.4 971.1h0M274.2 969.5h0M279.9 966.8h0M285.7 963.1h0M291.4 958.4h0M297.1 952.6h0M302.9 945.8h0M308.6 937.9h0M314.4 928.9h0M320.1 918.9h0M325.8 907.8h0M331.6 895.7h0M337.3 882.5h0M343 868.3h0M348.8 853h0M354.5 833.3h0M360.3 812.5h0M366 774.4h0M134.7 746.3h0M140.3 765.1h0M145.8 783.1h0M151.4 800.2h0M157 816.6h0M162.5 832h0M168.1 846.7h0M173.7 860.5h0M179.2 873.4h0M184.8 885.5h0M190.3 896.8h0M195.9 907.3h0M201.5 916.9h0M207 925.7h0M212.6 933.6h0M218.2 940.7h0M223.7 947h0M229.3 952.5h0M234.9 957.1h0M240.4 960.8h0M246 963.7h0M251.6 965.8h0M257.1 967.1h0M262.7 967.5h0M268.4 967h0M274.2 965.4h0M279.9 962.8h0M285.7 959.1h0M291.4 954.3h0M297.1 948.5h0M302.9 941.7h0M308.6 933.8h0M314.4 924.8h0M320.1 914.8h0M325.8 903.7h0M331.6 891.6h0M337.3 878.4h0M343 864.2h0M348.8 848.9h0M354.5 829.2h0M360.3 808.5h0M366 770.3h0M140.3 756.4h0M145.8 774.3h0M151.4 791.5h0M157 807.8h0M162.5 823.3h0M168.1 837.9h0M173.7 851.7h0M179.2 864.7h0M184.8 876.8h0M190.3 888.1h0M195.9 898.5h0M201.5 908.1h0M207 916.9h0M212.6 924.9h0M218.2 932h0M223.7 938.3h0M229.3 943.7h0M234.9 948.3h0M240.4 952.1h0M246 955h0M251.6 957.1h0M257.1 958.3h0M262.7 958.7h0M268.4 958.2h0M274.2 956.6h0M279.9 954h0M285.7 950.3h0M291.4 945.6h0M297.1 939.8h0M302.9 932.9h0M308.6 925h0M314.4 916.1h0M320.1 906h0M325.8 895h0M331.6 882.9h0M337.3 869.7h0M343 855.5h0M348.8 840.2h0M354.5 823.8h0M360.3 806.5h0M366 768.8h0M140.3 752.3h0M145.8 770.3h0M151.4 787.4h0M157 803.7h0M162.5 819.2h0M168.1 833.8h0M173.7 847.6h0M179.2 860.6h0M184.8 872.7h0M190.3 884h0M195.9 894.5h0M201.5 904.1h0M207 912.9h0M212.6 920.8h0M218.2 927.9h0M223.7 934.2h0M229.3 939.6h0M234.9 944.2h0M240.4 948h0M246 950.9h0M251.6 953h0M257.1 954.2h0M262.7 954.7h0M268.4 954.1h0M274.2 952.6h0M279.9 949.9h0M285.7 946.2h0M291.4 941.5h0M297.1 935.7h0M302.9 928.8h0M308.6 920.9h0M314.4 912h0M320.1 902h0M325.8 890.9h0M331.6 878.8h0M337.3 865.6h0M343 851.4h0M348.8 836.1h0M354.5 819.8h0M360.3 802.4h0M366 764.7h0M145.8 760.6h0M151.4 777.7h0M157 794h0M162.5 809.5h0M168.1 824.1h0M173.7 837.9h0M179.2 850.9h0M184.8 863h0M190.3 874.3h0M195.9 884.8h0M201.5 894.4h0M207 903.2h0M212.6 911.1h0M218.2 918.2h0M223.7 924.5h0M229.3 929.9h0M234.9 934.5h0M240.4 938.3h0M246 941.2h0M251.6 943.3h0M257.1 944.6h0M262.7 945h0M268.4 944.5h0M274.2 942.9h0M279.9 940.2h0M285.7 936.6h0M291.4 931.8h0M297.1 926h0M302.9 919.2h0M308.6 911.3h0M314.4 902.3h0M320.1 892.3h0M325.8 881.2h0M331.6 869.1h0M337.3 855.9h0M343 841.7h0M348.8 826.4h0M354.5 810.1h0M360.3 792.7h0M366 763.2h0M145.8 756.5h0M151.4 773.7h0M157 790h0M162.5 805.4h0M168.1 820.1h0M173.7 833.9h0M179.2 846.8h0M184.8 859h0M190.3 870.2h0M195.9 880.7h0M201.5 890.3h0M207 899.1h0M212.6 907h0M218.2 914.2h0M223.7 920.4h0M229.3 925.9h0M234.9 930.5h0M240.4 934.2h0M246 937.2h0M251.6 939.2h0M257.1 940.5h0M262.7 940.9h0M268.4 940.4h0M274.2 938.8h0M279.9 936.2h0M285.7 932.5h0M291.4 927.7h0M297.1 921.9h0M302.9 915.1h0M308.6 907.2h0M314.4 898.2h0M320.1 888.2h0M325.8 877.2h0M331.6 865h0M337.3 851.9h0M343 837.6h0M348.8 822.3h0M354.5 806h0M360.3 788.6h0M366 759.1h0M145.8 745.9h0M151.4 763.1h0M157 779.4h0M162.5 794.8h0M168.1 809.5h0M173.7 823.3h0M179.2 836.2h0M184.8 848.4h0M190.3 859.7h0M195.9 870.1h0M201.5 879.7h0M207 888.5h0M212.6 896.4h0M218.2 903.6h0M223.7 909.8h0M229.3 915.3h0M234.9 919.9h0M240.4 923.6h0M246 926.6h0M251.6 928.6h0M257.1 929.9h0M262.7 930.3h0M268.4 929.8h0M274.2 928.2h0M279.9 925.6h0M285.7 921.9h0M291.4 917.1h0M297.1 911.3h0M302.9 904.5h0M308.6 896.6h0M314.4 887.6h0M320.1 877.6h0M325.8 866.6h0M331.6 854.4h0M337.3 841.3h0M343 827h0M348.8 811.8h0M354.5 795.4h0M360.3 778h0M366 757.6h0M151.4 759h0M157 775.3h0M162.5 790.8h0M168.1 805.4h0M173.7 819.2h0M179.2 832.2h0M184.8 844.3h0M190.3 855.6h0M195.9 866h0M201.5 875.6h0M207 884.4h0M212.6 892.4h0M218.2 899.5h0M223.7 905.8h0M229.3 911.2h0M234.9 915.8h0M240.4 919.6h0M246 922.5h0M251.6 924.6h0M257.1 925.8h0M262.7 926.2h0M268.4 925.7h0M274.2 924.1h0M279.9 921.5h0M285.7 917.8h0M291.4 913.1h0M297.1 907.3h0M302.9 900.4h0M308.6 892.5h0M314.4 883.6h0M320.1 873.5h0M325.8 862.5h0M331.6 850.4h0M337.3 837.2h0M343 823h0M348.8 807.7h0M354.5 791.3h0M360.3 774h0M366 753.5h0M151.4 747.5h0M157 763.8h0M162.5 779.3h0M168.1 793.9h0M173.7 807.7h0M179.2 820.6h0M184.8 832.8h0M190.3 844.1h0M195.9 854.5h0M201.5 864.1h0M207 872.9h0M212.6 880.9h0M218.2 888h0M223.7 894.2h0M229.3 899.7h0M234.9 904.3h0M240.4 908h0M246 911h0M251.6 913.1h0M257.1 914.3h0M262.7 914.7h0M268.4 914.2h0M274.2 912.6h0M279.9 910h0M285.7 906.3h0M291.4 901.6h0M297.1 895.8h0M302.9 888.9h0M308.6 881h0M314.4 872h0M320.1 862h0M325.8 851h0M331.6 838.8h0M337.3 825.7h0M343 811.4h0M348.8 796.2h0M354.5 779.8h0M360.3 762.4h0M366 744h0M157 759.7h0M162.5 775.2h0M168.1 789.8h0M173.7 803.6h0M179.2 816.6h0M184.8 828.7h0M190.3 840h0M195.9 850.4h0M201.5 860.1h0M207 868.8h0M212.6 876.8h0M218.2 883.9h0M223.7 890.2h0M229.3 895.6h0M234.9 900.2h0M240.4 904h0M246 906.9h0M251.6 909h0M257.1 910.2h0M262.7 910.7h0M268.4 910.1h0M274.2 908.5h0M279.9 905.9h0M285.7 902.2h0M291.4 897.5h0M297.1 891.7h0M302.9 884.8h0M308.6 876.9h0M314.4 868h0M320.1 858h0M325.8 846.9h0M331.6 834.8h0M337.3 821.6h0M343 807.4h0M348.8 792.1h0M354.5 775.8h0M360.3 758.4h0M157 747.3h0M162.5 762.7h0M168.1 777.4h0M173.7 791.2h0M179.2 804.1h0M184.8 816.3h0M190.3 827.6h0M195.9 838h0M201.5 847.6h0M207 856.4h0M212.6 864.4h0M218.2 871.5h0M223.7 877.7h0M229.3 883.2h0M234.9 887.8h0M240.4 891.5h0M246 894.5h0M251.6 896.6h0M257.1 897.8h0M262.7 898.2h0M268.4 897.7h0M274.2 896.1h0M279.9 893.5h0M285.7 889.8h0M291.4 885.1h0M297.1 879.3h0M302.9 872.4h0M308.6 864.5h0M314.4 855.5h0M320.1 845.5h0M325.8 834.5h0M331.6 822.3h0M337.3 809.2h0M343 794.9h0M348.8 779.7h0M354.5 763.3h0M360.3 745.9h0M162.5 758.7h0M168.1 773.3h0M173.7 787.1h0M179.2 800.1h0M184.8 812.2h0M190.3 823.5h0M195.9 833.9h0M201.5 843.6h0M207 852.3h0M212.6 860.3h0M218.2 867.4h0M223.7 873.7h0M229.3 879.1h0M234.9 883.7h0M240.4 887.5h0M246 890.4h0M251.6 892.5h0M257.1 893.7h0M262.7 894.2h0M268.4 893.6h0M274.2 892h0M279.9 889.4h0M285.7 885.7h0M291.4 881h0M297.1 875.2h0M302.9 868.3h0M308.6 860.4h0M314.4 851.5h0M320.1 841.5h0M325.8 830.4h0M331.6 818.3h0M337.3 805.1h0M343 790.9h0M348.8 775.6h0M354.5 759.3h0M162.5 745.3h0M168.1 760h0M173.7 773.8h0M179.2 786.7h0M184.8 798.8h0M190.3 810.1h0M195.9 820.6h0M201.5 830.2h0M207 839h0M212.6 846.9h0M218.2 854h0M223.7 860.3h0M229.3 865.8h0M234.9 870.4h0M240.4 874.1h0M246 877h0M251.6 879.1h0M274.2 878.7h0M279.9 876.1h0M285.7 872.4h0M291.4 867.6h0M297.1 861.8h0M302.9 855h0M308.6 847.1h0M314.4 838.1h0M320.1 828.1h0M325.8 817h0M331.6 804.9h0M337.3 791.7h0M343 777.5h0M348.8 762.2h0M354.5 745.9h0M168.1 755.9h0M173.7 769.7h0M179.2 782.6h0M184.8 794.8h0M190.3 806.1h0M195.9 816.5h0M201.5 826.1h0M207 834.9h0M212.6 842.9h0M218.2 850h0M223.7 856.2h0M229.3 861.7h0M234.9 866.3h0M240.4 870h0M246 873h0M279.9 872h0M285.7 868.3h0M291.4 863.6h0M297.1 857.8h0M302.9 850.9h0M308.6 843h0M314.4 834h0M320.1 824h0M325.8 813h0M331.6 800.8h0M337.3 787.7h0M343 773.4h0M348.8 758.2h0M173.7 755.4h0M179.2 768.4h0M184.8 780.5h0M190.3 791.8h0M195.9 802.3h0M201.5 811.9h0M207 820.7h0M212.6 828.6h0M218.2 835.7h0M223.7 842h0M229.3 847.4h0M234.9 852h0M291.4 849.3h0M297.1 843.5h0M302.9 836.6h0M308.6 828.7h0M314.4 819.8h0M320.1 809.8h0M325.8 798.7h0M331.6 786.6h0M337.3 773.4h0M343 759.2h0M348.8 743.9h0M173.7 751.3h0M179.2 764.3h0M184.8 776.4h0M190.3 787.7h0M195.9 798.2h0M201.5 807.8h0M207 816.6h0M212.6 824.5h0M218.2 831.6h0M223.7 837.9h0M229.3 843.3h0M291.4 845.2h0M297.1 839.4h0M302.9 832.6h0M308.6 824.7h0M314.4 815.7h0M320.1 805.7h0M325.8 794.6h0M331.6 782.5h0M337.3 769.3h0M343 755.1h0M179.2 749.1h0M184.8 761.3h0M190.3 772.5h0M195.9 783h0M201.5 792.6h0M207 801.4h0M212.6 809.3h0M218.2 816.5h0M302.9 817.4h0M308.6 809.5h0M314.4 800.5h0M320.1 790.5h0M325.8 779.4h0M331.6 767.3h0M337.3 754.2h0M179.2 745.1h0M184.8 757.2h0M190.3 768.5h0M195.9 778.9h0M201.5 788.5h0M207 797.3h0M212.6 805.3h0M218.2 812.4h0M302.9 813.3h0M308.6 805.4h0M314.4 796.5h0M320.1 786.4h0M325.8 775.4h0M331.6 763.3h0M337.3 750.1h0M190.3 752.4h0M195.9 762.8h0M201.5 772.4h0M314.4 780.4h0M320.1 770.3h0M325.8 759.3h0M331.6 747.2h0M190.3 748.3h0M195.9 758.8h0M201.5 768.4h0M314.4 776.3h0M320.1 766.3h0M325.8 755.2h0M201.5 751.4h0M320.1 749.3h0M201.5 747.3h0M320.1 745.2h0M123.6 745.1h0M129.1 759.2h0M134.7 770.1h0M140.3 779.5h0M145.8 788.9h0M151.4 797.1h0M157 802h0M162.5 806.8h0M168.1 811.6h0M173.7 816.4h0M179.2 821.3h0M184.8 826.1h0M190.3 830.5h0M195.9 834.9h0M201.5 839.3h0M207 843.8h0M212.6 847.7h0M218.2 849.8h0M223.7 851.9h0M229.3 854h0M234.9 856.1h0M291.4 848.3h0M297.1 841.4h0M302.9 830.3h0M308.6 815h0M314.4 796.5h0M320.1 773.6h0M325.8 746.8h0M129.1 750.5h0M134.7 761.5h0M140.3 770.9h0M145.8 780.2h0M151.4 788.5h0M157 793.3h0M162.5 798.1h0M168.1 802.9h0M173.7 807.8h0M179.2 812.6h0M184.8 817.4h0M190.3 821.8h0M195.9 826.3h0M201.5 830.7h0M207 835.1h0M212.6 839h0M218.2 841.1h0M223.7 843.2h0M229.3 845.3h0M297.1 832.7h0M302.9 821.6h0M308.6 806.3h0M314.4 787.9h0M320.1 764.9h0M129.1 746.4h0M134.7 757.4h0M140.3 766.8h0M145.8 776.2h0M151.4 784.4h0M157 789.2h0M162.5 794h0M168.1 798.9h0M173.7 803.7h0M179.2 808.5h0M184.8 813.3h0M190.3 817.8h0M195.9 822.2h0M201.5 826.6h0M207 831h0M212.6 834.9h0M218.2 837.1h0M223.7 839.2h0M229.3 841.3h0M297.1 828.6h0M302.9 817.5h0M308.6 802.2h0M314.4 783.8h0M320.1 760.8h0M134.7 748.8h0M140.3 758.1h0M145.8 767.5h0M151.4 775.7h0M157 780.6h0M162.5 785.4h0M168.1 790.2h0M173.7 795h0M179.2 799.9h0M184.8 804.7h0M190.3 809.1h0M195.9 813.5h0M201.5 817.9h0M207 822.4h0M212.6 826.3h0M218.2 828.4h0M223.7 830.5h0M302.9 808.9h0M308.6 793.6h0M314.4 775.1h0M320.1 752.2h0M134.7 744.7h0M140.3 754.1h0M145.8 763.4h0M151.4 771.7h0M157 776.5h0M162.5 781.3h0M168.1 786.1h0M173.7 791h0M179.2 795.8h0M184.8 800.6h0M190.3 805h0M195.9 809.4h0M201.5 813.9h0M207 818.3h0M212.6 822.2h0M218.2 824.3h0M314.4 771.1h0M320.1 748.1h0M140.3 745.4h0M145.8 754.8h0M151.4 763h0M157 767.8h0M162.5 772.7h0M168.1 777.5h0M173.7 782.3h0M179.2 787.1h0M184.8 791.9h0M190.3 796.4h0M195.9 800.8h0M201.5 805.2h0M207 809.6h0M212.6 813.6h0M218.2 815.7h0M145.8 750.7h0M151.4 758.9h0M157 763.8h0M162.5 768.6h0M168.1 773.4h0M173.7 778.2h0M179.2 783.1h0M184.8 787.9h0M190.3 792.3h0M195.9 796.7h0M201.5 801.1h0M207 805.6h0M212.6 809.5h0M218.2 811.6h0M151.4 750.3h0M157 755.1h0M162.5 759.9h0M168.1 764.7h0M173.7 769.6h0M179.2 774.4h0M184.8 779.2h0M190.3 783.6h0M195.9 788.1h0M201.5 792.5h0M207 796.9h0M212.6 800.8h0M151.4 746.2h0M157 751h0M162.5 755.8h0M168.1 760.7h0M173.7 765.5h0M179.2 770.3h0M184.8 775.1h0M190.3 779.6h0M195.9 784h0M201.5 788.4h0M207 792.8h0M162.5 747.2h0M168.1 752h0M173.7 756.8h0M179.2 761.7h0M184.8 766.5h0M190.3 770.9h0M195.9 775.3h0M201.5 779.7h0M207 784.2h0M168.1 747.9h0M173.7 752.8h0M179.2 757.6h0M184.8 762.4h0M190.3 766.8h0M195.9 771.2h0M201.5 775.7h0M195.9 749.4h0M201.5 760.9h0M207 782.1h0M212.6 795.3h0M218.2 809.1h0M223.7 827h0M229.3 837.5h0M234.9 847.8h0M240.4 857.8h0M246 867.5h0M251.6 876.8h0M257.1 883h0M262.7 883.9h0M268.4 881.4h0M274.2 875.5h0M279.9 869.5h0M285.7 854.9h0M291.4 840.1h0M297.1 824.1h0M302.9 806.9h0M308.6 789.4h0M314.4 766.3h0M246 866.3h0M251.6 868.7h0M257.1 871.1h0M262.7 873.5h0M268.4 871h0M274.2 868.5h0M279.9 866h0M240.4 859.8h0M246 862.2h0M251.6 864.6h0M257.1 867h0M262.7 869.4h0M268.4 866.9h0M274.2 864.4h0M279.9 862h0M234.9 846.9h0M240.4 849.3h0M246 851.7h0M251.6 854.1h0M257.1 856.6h0M262.7 859h0M268.4 856.5h0M274.2 854h0M279.9 851.5h0M285.7 849h0M234.9 842.8h0M240.4 845.2h0M246 847.7h0M251.6 850.1h0M257.1 852.5h0M262.7 854.9h0M268.4 852.4h0M274.2 849.9h0M279.9 847.4h0M285.7 844.9h0M291.4 842.5h0M223.7 827.6h0M229.3 830h0M234.9 832.4h0M240.4 834.8h0M246 837.2h0M251.6 839.6h0M257.1 842h0M262.7 844.4h0M268.4 842h0M274.2 839.5h0M279.9 837h0M285.7 834.5h0M291.4 832h0M223.7 823.5h0M229.3 825.9h0M234.9 828.3h0M240.4 830.7h0M246 833.1h0M251.6 835.6h0M257.1 838h0M262.7 840.4h0M268.4 837.9h0M274.2 835.4h0M279.9 832.9h0M285.7 830.4h0M291.4 827.9h0M297.1 825.5h0M218.2 810.7h0M223.7 813.1h0M229.3 815.5h0M234.9 817.9h0M240.4 820.3h0M246 822.7h0M251.6 825.1h0M257.1 827.5h0M262.7 829.9h0M268.4 827.4h0M274.2 825h0M279.9 822.5h0M285.7 820h0M291.4 817.5h0M297.1 815h0M218.2 806.6h0M223.7 809h0M229.3 811.4h0M234.9 813.8h0M240.4 816.2h0M246 818.6h0M251.6 821h0M257.1 823.4h0M262.7 825.9h0M268.4 823.4h0M274.2 820.9h0M279.9 818.4h0M285.7 815.9h0M291.4 813.4h0M297.1 810.9h0M302.9 808.5h0M212.6 793.7h0M218.2 796.1h0M223.7 798.5h0M229.3 801h0M234.9 803.4h0M240.4 805.8h0M246 808.2h0M251.6 810.6h0M257.1 813h0M262.7 815.4h0M268.4 812.9h0M274.2 810.4h0M279.9 808h0M285.7 805.5h0M291.4 803h0M297.1 800.5h0M302.9 798h0M212.6 789.6h0M218.2 792.1h0M223.7 794.5h0M229.3 796.9h0M234.9 799.3h0M240.4 801.7h0M246 804.1h0M251.6 806.5h0M257.1 808.9h0M262.7 811.3h0M268.4 808.9h0M274.2 806.4h0M279.9 803.9h0M285.7 801.4h0M291.4 798.9h0M297.1 796.4h0M302.9 793.9h0M308.6 791.5h0M207 776.8h0M212.6 779.2h0M218.2 781.6h0M223.7 784h0M229.3 786.4h0M234.9 788.8h0M240.4 791.3h0M246 793.7h0M251.6 796.1h0M257.1 798.5h0M262.7 800.9h0M268.4 798.4h0M274.2 795.9h0M279.9 793.4h0M285.7 791h0M291.4 788.5h0M297.1 786h0M302.9 783.5h0M308.6 781h0M207 772.7h0M212.6 775.1h0M218.2 777.5h0M223.7 779.9h0M229.3 782.4h0M234.9 784.8h0M240.4 787.2h0M246 789.6h0M251.6 792h0M257.1 794.4h0M262.7 796.8h0M268.4 794.3h0M274.2 791.8h0M279.9 789.4h0M285.7 786.9h0M291.4 784.4h0M297.1 781.9h0M302.9 779.4h0M308.6 776.9h0M201.5 759.9h0M207 762.3h0M212.6 764.7h0M218.2 767.1h0M223.7 769.5h0M229.3 771.9h0M234.9 774.3h0M240.4 776.7h0M246 779.1h0M251.6 781.6h0M257.1 784h0M262.7 786.4h0M268.4 783.9h0M274.2 781.4h0M279.9 778.9h0M285.7 776.4h0M291.4 774h0M297.1 771.5h0M302.9 769h0M308.6 766.5h0M314.4 764h0M201.5 755.8h0M207 758.2h0M212.6 760.6h0M218.2 763h0M223.7 765.4h0M229.3 767.8h0M234.9 770.3h0M240.4 772.7h0M246 775.1h0M251.6 777.5h0M257.1 779.9h0M262.7 782.3h0M268.4 779.8h0M274.2 777.3h0M279.9 774.8h0M285.7 772.4h0M291.4 769.9h0M297.1 767.4h0M302.9 764.9h0M308.6 762.4h0M314.4 759.9h0M201.5 745.3h0M207 747.8h0M212.6 750.2h0M218.2 752.6h0M223.7 755h0M229.3 757.4h0M234.9 759.8h0M240.4 762.2h0M246 764.6h0M251.6 767h0M257.1 769.4h0M262.7 771.9h0M268.4 769.4h0M274.2 766.9h0M279.9 764.4h0M285.7 761.9h0M291.4 759.4h0M297.1 756.9h0M302.9 754.5h0M308.6 752h0M314.4 749.5h0M212.6 746.1h0M218.2 748.5h0M223.7 750.9h0M229.3 753.3h0M234.9 755.7h0M240.4 758.1h0M246 760.6h0M251.6 763h0M257.1 765.4h0M262.7 767.8h0M268.4 765.3h0M274.2 762.8h0M279.9 760.3h0M285.7 757.8h0M291.4 755.4h0M297.1 752.9h0M302.9 750.4h0M308.6 747.9h0M314.4 745.4h0M234.9 745.3h0M240.4 747.7h0M246 750.1h0M251.6 752.5h0M257.1 754.9h0M262.7 757.3h0M268.4 754.9h0M274.2 752.4h0M279.9 749.9h0M285.7 747.4h0M291.4 744.9h0M246 746h0M251.6 748.4h0M257.1 750.9h0M262.7 753.3h0M268.4 750.8h0M274.2 748.3h0M279.9 745.8h0M366 790h0M371.6 789.5h0M377.1 789h0M382.7 788.6h0M388.2 788.1h0M393.8 786.7h0M399.3 784.9h0M404.9 783h0M410.4 781h0M416 777.6h0M421.6 774.3h0M427.1 770.9h0M432.7 767.6h0M438.2 764.1h0M443.8 759.4h0M449.3 754.7h0M454.9 749.9h0M460.4 745.1h0M366 786.4h0M371.6 785.9h0M377.1 785.5h0M382.7 785h0M388.2 784.5h0M393.8 783.1h0M399.3 781.3h0M404.9 779.5h0M410.4 777.4h0M416 774h0M421.6 770.7h0M427.1 767.4h0M432.7 764h0M438.2 760.6h0M443.8 755.8h0M449.3 751.1h0M454.9 746.4h0M366 784.4h0M371.6 783.9h0M377.1 783.4h0M382.7 783h0M388.2 782.5h0M393.8 781.1h0M399.3 779.3h0M404.9 777.4h0M410.4 775.4h0M416 772h0M421.6 768.7h0M427.1 765.3h0M432.7 762h0M438.2 758.5h0M443.8 753.8h0M449.3 749h0M454.9 744.3h0M366 779.8h0M371.6 779.3h0M377.1 778.8h0M382.7 778.4h0M388.2 777.9h0M393.8 776.5h0M399.3 774.7h0M404.9 772.8h0M410.4 770.8h0M416 767.4h0M421.6 764.1h0M427.1 760.7h0M432.7 757.4h0M438.2 753.9h0M443.8 749.2h0M449.3 744.5h0M366 777.7h0M371.6 777.3h0M377.1 776.8h0M382.7 776.3h0M388.2 775.9h0M393.8 774.5h0M399.3 772.6h0M404.9 770.8h0M410.4 768.7h0M416 765.4h0M421.6 762h0M427.1 758.7h0M432.7 755.4h0M438.2 751.9h0M443.8 747.2h0M366 772.1h0M371.6 771.7h0M377.1 771.2h0M382.7 770.7h0M388.2 770.3h0M393.8 768.9h0M399.3 767h0M404.9 765.2h0M410.4 763.1h0M416 759.8h0M421.6 756.4h0M427.1 753.1h0M432.7 749.8h0M438.2 746.3h0M366 770.1h0M371.6 769.6h0M377.1 769.2h0M382.7 768.7h0M388.2 768.2h0M393.8 766.8h0M399.3 765h0M404.9 763.2h0M410.4 761.1h0M416 757.7h0M421.6 754.4h0M427.1 751.1h0M432.7 747.7h0M438.2 744.3h0M366 763.5h0M371.6 763h0M377.1 762.5h0M382.7 762.1h0M388.2 761.6h0M393.8 760.2h0M399.3 758.4h0M404.9 756.5h0M410.4 754.5h0M416 751.1h0M421.6 747.8h0M427.1 744.4h0M366 761.4h0M371.6 761h0M377.1 760.5h0M382.7 760h0M388.2 759.6h0M393.8 758.2h0M399.3 756.3h0M404.9 754.5h0M410.4 752.4h0M416 749.1h0M421.6 745.7h0M366 753.8h0M371.6 753.3h0M377.1 752.9h0M382.7 752.4h0M388.2 751.9h0M393.8 750.5h0M399.3 748.7h0M404.9 746.9h0M410.4 744.8h0M366 751.8h0M371.6 751.3h0M377.1 750.8h0M382.7 750.4h0M388.2 749.9h0M393.8 748.5h0M399.3 746.7h0M404.9 744.8h0M118 1239h0M123.6 1230.5h0M129.1 1221.3h0M134.7 1208.7h0M140.3 1195.6h0M145.8 1181.8h0M151.4 1167.4h0M157 1152.2h0M162.5 1138.1h0M168.1 1124.6h0M173.7 1113.1h0M179.2 1101.9h0M184.8 1091.4h0M190.3 1081.1h0M195.9 1073.3h0M201.5 1066h0M207 1060.1h0M212.6 1055.1h0M218.2 1051h0M223.7 1049.6h0M229.3 1049.5h0M234.9 1049.4h0M240.4 1049.4h0M246 1049.3h0M251.6 1049.2h0M257.1 1049.1h0M262.7 1049h0M268.4 1049.1h0M274.2 1049.1h0M279.9 1049.1h0M285.7 1049.2h0M291.4 1049.2h0M297.1 1049.2h0M302.9 1050h0M308.6 1051.4h0M314.4 1058.6h0M320.1 1070.2h0M325.8 1082.7h0M331.6 1099.8h0M337.3 1114.7h0M343 1131.2h0M348.8 1151.5h0M354.5 1169.7h0M118 1246.6h0M123.6 1238.2h0M129.1 1228.9h0M151.4 1175.1h0M157 1159.8h0M162.5 1145.7h0M168.1 1132.3h0M173.7 1120.7h0M179.2 1109.6h0M184.8 1099h0M190.3 1088.8h0M195.9 1080.9h0M201.5 1073.6h0M207 1067.7h0M212.6 1062.7h0M218.2 1058.6h0M223.7 1057.2h0M229.3 1057.2h0M234.9 1057.1h0M285.7 1056.8h0M291.4 1056.8h0M297.1 1056.9h0M302.9 1057.6h0M308.6 1059.1h0M314.4 1066.3h0M320.1 1077.9h0M325.8 1090.3h0M331.6 1107.5h0M337.3 1122.4h0M343 1138.8h0M118 1254.3h0M168.1 1139.9h0M173.7 1128.4h0M179.2 1117.2h0M184.8 1106.7h0M190.3 1096.4h0M195.9 1088.6h0M201.5 1081.2h0M207 1075.3h0M212.6 1070.4h0M218.2 1066.3h0M223.7 1064.9h0M297.1 1064.5h0M302.9 1065.2h0M308.6 1066.7h0M314.4 1073.9h0M320.1 1085.5h0M325.8 1098h0M331.6 1115.1h0M190.3 1104.1h0M195.9 1096.2h0M201.5 1088.9h0M302.9 1072.9h0M308.6 1074.3h0M314.4 1081.6h0M320.1 1093.1h0M325.8 1105.6h0M123.6 1247.9h0M129.1 1232.7h0M134.7 1218.2h0M140.3 1204.2h0M145.8 1190.9h0M151.4 1178.2h0M157 1166.2h0M162.5 1154.7h0M168.1 1143.9h0M173.7 1133.6h0M179.2 1124h0M184.8 1115h0M190.3 1106.7h0M195.9 1098.9h0M201.5 1091.8h0M207 1085.3h0M212.6 1079.4h0M218.2 1074.2h0M223.7 1069.5h0M229.3 1065.5h0M234.9 1062.1h0M240.4 1059.3h0M246 1057.1h0M251.6 1055.6h0M257.1 1054.6h0M262.7 1054.3h0M268.4 1054.8h0M274.2 1056.2h0M279.9 1058.5h0M285.7 1061.7h0M291.4 1065.9h0M297.1 1070.9h0M302.9 1076.9h0M308.6 1083.8h0M314.4 1091.7h0M320.1 1100.4h0M325.8 1110.1h0M331.6 1120.7h0M337.3 1132.3h0M343 1144.7h0M348.8 1158.1h0M354.5 1172.4h0M360.3 1187.6h0M366 1203.7h0M123.6 1252h0M129.1 1236.8h0M134.7 1222.3h0M140.3 1208.3h0M145.8 1195h0M151.4 1182.3h0M157 1170.2h0M162.5 1158.8h0M168.1 1147.9h0M173.7 1137.7h0M179.2 1128.1h0M184.8 1119.1h0M190.3 1110.8h0M195.9 1103h0M201.5 1095.9h0M207 1089.4h0M212.6 1083.5h0M218.2 1078.2h0M223.7 1073.6h0M229.3 1069.6h0M234.9 1066.2h0M240.4 1063.4h0M246 1061.2h0M251.6 1059.7h0M257.1 1058.7h0M262.7 1058.4h0M268.4 1058.9h0M274.2 1060.3h0M279.9 1062.6h0M285.7 1065.8h0M291.4 1069.9h0M297.1 1075h0M302.9 1081h0M308.6 1087.9h0M314.4 1095.8h0M320.1 1104.5h0M325.8 1114.2h0M331.6 1124.8h0M337.3 1136.3h0M343 1148.8h0M348.8 1162.2h0M354.5 1176.5h0M360.3 1191.7h0M366 1207.8h0M129.1 1245.8h0M134.7 1231.2h0M140.3 1217.3h0M145.8 1204h0M151.4 1191.3h0M157 1179.2h0M162.5 1167.7h0M168.1 1156.9h0M173.7 1146.7h0M179.2 1137.1h0M184.8 1128.1h0M190.3 1119.7h0M195.9 1112h0M201.5 1104.9h0M207 1098.4h0M212.6 1092.5h0M218.2 1087.2h0M223.7 1082.6h0M229.3 1078.5h0M234.9 1075.1h0M240.4 1072.3h0M246 1070.2h0M251.6 1068.6h0M257.1 1067.7h0M262.7 1067.4h0M268.4 1067.8h0M274.2 1069.2h0M279.9 1071.5h0M285.7 1074.8h0M291.4 1078.9h0M297.1 1084h0M302.9 1090h0M308.6 1096.9h0M314.4 1104.7h0M320.1 1113.5h0M325.8 1123.2h0M331.6 1133.8h0M337.3 1145.3h0M343 1157.8h0M348.8 1171.1h0M354.5 1185.4h0M360.3 1200.6h0M366 1216.8h0M129.1 1249.9h0M134.7 1235.3h0M140.3 1221.4h0M145.8 1208h0M151.4 1195.3h0M157 1183.3h0M162.5 1171.8h0M168.1 1161h0M173.7 1150.7h0M179.2 1141.1h0M184.8 1132.2h0M190.3 1123.8h0M195.9 1116.1h0M201.5 1108.9h0M207 1102.4h0M212.6 1096.5h0M218.2 1091.3h0M223.7 1086.6h0M229.3 1082.6h0M234.9 1079.2h0M240.4 1076.4h0M246 1074.2h0M251.6 1072.7h0M257.1 1071.8h0M262.7 1071.5h0M268.4 1071.9h0M274.2 1073.3h0M279.9 1075.6h0M285.7 1078.8h0M291.4 1083h0M297.1 1088.1h0M302.9 1094h0M308.6 1101h0M314.4 1108.8h0M320.1 1117.6h0M325.8 1127.2h0M331.6 1137.8h0M337.3 1149.4h0M343 1161.8h0M348.8 1175.2h0M354.5 1189.5h0M360.3 1204.7h0M366 1220.8h0M129.1 1259h0M134.7 1244.5h0M140.3 1230.5h0M145.8 1217.2h0M151.4 1204.5h0M157 1192.4h0M162.5 1181h0M168.1 1170.1h0M173.7 1159.9h0M179.2 1150.3h0M184.8 1141.3h0M190.3 1133h0M195.9 1125.2h0M201.5 1118.1h0M207 1111.6h0M212.6 1105.7h0M218.2 1100.4h0M223.7 1095.8h0M229.3 1091.8h0M234.9 1088.4h0M240.4 1085.6h0M246 1083.4h0M251.6 1081.9h0M257.1 1080.9h0M262.7 1080.6h0M268.4 1081.1h0M274.2 1082.5h0M279.9 1084.8h0M285.7 1088h0M291.4 1092.1h0M297.1 1097.2h0M302.9 1103.2h0M308.6 1110.1h0M314.4 1118h0M320.1 1126.7h0M325.8 1136.4h0M331.6 1147h0M337.3 1158.5h0M343 1171h0M348.8 1184.4h0M354.5 1198.7h0M360.3 1213.9h0M366 1230h0M134.7 1248.5h0M140.3 1234.6h0M145.8 1221.3h0M151.4 1208.6h0M157 1196.5h0M162.5 1185.1h0M168.1 1174.2h0M173.7 1164h0M179.2 1154.4h0M184.8 1145.4h0M190.3 1137h0M195.9 1129.3h0M201.5 1122.2h0M207 1115.7h0M212.6 1109.8h0M218.2 1104.5h0M223.7 1099.9h0M229.3 1095.8h0M234.9 1092.4h0M240.4 1089.7h0M246 1087.5h0M251.6 1085.9h0M257.1 1085h0M262.7 1084.7h0M268.4 1085.2h0M274.2 1086.5h0M279.9 1088.8h0M285.7 1092.1h0M291.4 1096.2h0M297.1 1101.3h0M302.9 1107.3h0M308.6 1114.2h0M314.4 1122h0M320.1 1130.8h0M325.8 1140.5h0M331.6 1151.1h0M337.3 1162.6h0M343 1175.1h0M348.8 1188.4h0M354.5 1202.7h0M360.3 1218h0M366 1234.1h0M134.7 1257.9h0M140.3 1244h0M145.8 1230.7h0M151.4 1218h0M157 1205.9h0M162.5 1194.4h0M168.1 1183.6h0M173.7 1173.4h0M179.2 1163.8h0M184.8 1154.8h0M190.3 1146.4h0M195.9 1138.7h0M201.5 1131.5h0M207 1125h0M212.6 1119.2h0M218.2 1113.9h0M223.7 1109.2h0M229.3 1105.2h0M234.9 1101.8h0M240.4 1099h0M246 1096.9h0M251.6 1095.3h0M257.1 1094.4h0M262.7 1094.1h0M268.4 1094.5h0M274.2 1095.9h0M279.9 1098.2h0M285.7 1101.4h0M291.4 1105.6h0M297.1 1110.7h0M302.9 1116.7h0M308.6 1123.6h0M314.4 1131.4h0M320.1 1140.2h0M325.8 1149.9h0M331.6 1160.5h0M337.3 1172h0M343 1184.4h0M348.8 1197.8h0M354.5 1212.1h0M360.3 1227.3h0M366 1243.5h0M140.3 1248.1h0M145.8 1234.7h0M151.4 1222h0M157 1210h0M162.5 1198.5h0M168.1 1187.7h0M173.7 1177.4h0M179.2 1167.8h0M184.8 1158.9h0M190.3 1150.5h0M195.9 1142.7h0M201.5 1135.6h0M207 1129.1h0M212.6 1123.2h0M218.2 1118h0M223.7 1113.3h0M229.3 1109.3h0M234.9 1105.9h0M240.4 1103.1h0M246 1100.9h0M251.6 1099.4h0M257.1 1098.5h0M262.7 1098.1h0M268.4 1098.6h0M274.2 1100h0M279.9 1102.3h0M285.7 1105.5h0M291.4 1109.7h0M297.1 1114.7h0M302.9 1120.7h0M308.6 1127.7h0M314.4 1135.5h0M320.1 1144.3h0M325.8 1153.9h0M331.6 1164.5h0M337.3 1176.1h0M343 1188.5h0M348.8 1201.9h0M354.5 1216.2h0M360.3 1231.4h0M366 1247.5h0M140.3 1257.6h0M145.8 1244.3h0M151.4 1231.6h0M157 1219.5h0M162.5 1208.1h0M168.1 1197.2h0M173.7 1187h0M179.2 1177.4h0M184.8 1168.4h0M190.3 1160.1h0M195.9 1152.3h0M201.5 1145.2h0M207 1138.7h0M212.6 1132.8h0M218.2 1127.5h0M223.7 1122.9h0M229.3 1118.9h0M234.9 1115.5h0M240.4 1112.7h0M246 1110.5h0M251.6 1109h0M257.1 1108h0M262.7 1107.7h0M268.4 1108.2h0M274.2 1109.6h0M279.9 1111.9h0M285.7 1115.1h0M291.4 1119.2h0M297.1 1124.3h0M302.9 1130.3h0M308.6 1137.2h0M314.4 1145.1h0M320.1 1153.8h0M325.8 1163.5h0M331.6 1174.1h0M337.3 1185.6h0M343 1198.1h0M348.8 1211.5h0M354.5 1225.8h0M360.3 1241h0M366 1257.1h0M145.8 1248.4h0M151.4 1235.7h0M157 1223.6h0M162.5 1212.2h0M168.1 1201.3h0M173.7 1191.1h0M179.2 1181.5h0M184.8 1172.5h0M190.3 1164.1h0M195.9 1156.4h0M201.5 1149.3h0M207 1142.8h0M212.6 1136.9h0M218.2 1131.6h0M223.7 1127h0M229.3 1122.9h0M234.9 1119.5h0M240.4 1116.8h0M246 1114.6h0M251.6 1113h0M257.1 1112.1h0M262.7 1111.8h0M268.4 1112.3h0M274.2 1113.6h0M279.9 1115.9h0M285.7 1119.2h0M291.4 1123.3h0M297.1 1128.4h0M302.9 1134.4h0M308.6 1141.3h0M314.4 1149.1h0M320.1 1157.9h0M325.8 1167.6h0M331.6 1178.2h0M337.3 1189.7h0M343 1202.2h0M348.8 1215.5h0M354.5 1229.8h0M360.3 1245.1h0M145.8 1258.2h0M151.4 1245.5h0M157 1233.4h0M162.5 1221.9h0M168.1 1211.1h0M173.7 1200.9h0M179.2 1191.3h0M184.8 1182.3h0M190.3 1173.9h0M195.9 1166.2h0M201.5 1159.1h0M207 1152.6h0M212.6 1146.7h0M218.2 1141.4h0M223.7 1136.8h0M229.3 1132.7h0M234.9 1129.3h0M240.4 1126.5h0M246 1124.4h0M251.6 1122.8h0M257.1 1121.9h0M262.7 1121.6h0M268.4 1122h0M274.2 1123.4h0M279.9 1125.7h0M285.7 1129h0M291.4 1133.1h0M297.1 1138.2h0M302.9 1144.2h0M308.6 1151.1h0M314.4 1158.9h0M320.1 1167.7h0M325.8 1177.4h0M331.6 1188h0M337.3 1199.5h0M343 1212h0M348.8 1225.3h0M354.5 1239.6h0M360.3 1254.8h0M151.4 1249.5h0M157 1237.5h0M162.5 1226h0M168.1 1215.2h0M173.7 1204.9h0M179.2 1195.3h0M184.8 1186.4h0M190.3 1178h0M195.9 1170.3h0M201.5 1163.1h0M207 1156.6h0M212.6 1150.7h0M218.2 1145.5h0M223.7 1140.8h0M229.3 1136.8h0M234.9 1133.4h0M240.4 1130.6h0M246 1128.4h0M251.6 1126.9h0M257.1 1126h0M262.7 1125.7h0M268.4 1126.1h0M274.2 1127.5h0M279.9 1129.8h0M285.7 1133h0M291.4 1137.2h0M297.1 1142.3h0M302.9 1148.2h0M308.6 1155.2h0M314.4 1163h0M320.1 1171.8h0M325.8 1181.4h0M331.6 1192h0M337.3 1203.6h0M343 1216h0M348.8 1229.4h0M354.5 1243.7h0M360.3 1258.9h0M157 1247.5h0M162.5 1236h0M168.1 1225.2h0M173.7 1214.9h0M179.2 1205.3h0M184.8 1196.3h0M190.3 1188h0M195.9 1180.2h0M201.5 1173.1h0M207 1166.6h0M212.6 1160.7h0M218.2 1155.5h0M223.7 1150.8h0M229.3 1146.8h0M234.9 1143.4h0M240.4 1140.6h0M246 1138.4h0M251.6 1136.9h0M257.1 1135.9h0M262.7 1135.6h0M268.4 1136.1h0M274.2 1137.5h0M279.9 1139.8h0M285.7 1143h0M291.4 1147.2h0M297.1 1152.2h0M302.9 1158.2h0M308.6 1165.1h0M314.4 1173h0M320.1 1181.7h0M325.8 1191.4h0M331.6 1202h0M337.3 1213.6h0M343 1226h0M348.8 1239.4h0M354.5 1253.7h0M157 1251.5h0M162.5 1240.1h0M168.1 1229.2h0M173.7 1219h0M179.2 1209.4h0M184.8 1200.4h0M190.3 1192.1h0M195.9 1184.3h0M201.5 1177.2h0M207 1170.7h0M212.6 1164.8h0M218.2 1159.5h0M223.7 1154.9h0M229.3 1150.9h0M234.9 1147.5h0M240.4 1144.7h0M246 1142.5h0M251.6 1141h0M257.1 1140h0M262.7 1139.7h0M268.4 1140.2h0M274.2 1141.6h0M279.9 1143.9h0M285.7 1147.1h0M291.4 1151.2h0M297.1 1156.3h0M302.9 1162.3h0M308.6 1169.2h0M314.4 1177.1h0M320.1 1185.8h0M325.8 1195.5h0M331.6 1206.1h0M337.3 1217.6h0M343 1230.1h0M348.8 1243.5h0M354.5 1257.8h0M162.5 1250.3h0M168.1 1239.4h0M173.7 1229.2h0M179.2 1219.6h0M184.8 1210.6h0M190.3 1202.2h0M195.9 1194.5h0M201.5 1187.4h0M207 1180.9h0M212.6 1175h0M218.2 1169.7h0M223.7 1165.1h0M229.3 1161.1h0M234.9 1157.6h0M240.4 1154.9h0M246 1152.7h0M251.6 1151.1h0M257.1 1150.2h0M262.7 1149.9h0M268.4 1150.4h0M274.2 1151.7h0M279.9 1154.1h0M285.7 1157.3h0M291.4 1161.4h0M297.1 1166.5h0M302.9 1172.5h0M308.6 1179.4h0M314.4 1187.2h0M320.1 1196h0M325.8 1205.7h0M331.6 1216.3h0M337.3 1227.8h0M343 1240.3h0M348.8 1253.6h0M162.5 1254.3h0M168.1 1243.5h0M173.7 1233.3h0M179.2 1223.7h0M184.8 1214.7h0M190.3 1206.3h0M195.9 1198.6h0M201.5 1191.5h0M207 1184.9h0M212.6 1179.1h0M218.2 1173.8h0M223.7 1169.2h0M229.3 1165.1h0M234.9 1161.7h0M240.4 1158.9h0M246 1156.8h0M251.6 1155.2h0M257.1 1154.3h0M262.7 1154h0M268.4 1154.4h0M274.2 1155.8h0M279.9 1158.1h0M285.7 1161.4h0M291.4 1165.5h0M297.1 1170.6h0M302.9 1176.6h0M308.6 1183.5h0M314.4 1191.3h0M320.1 1200.1h0M325.8 1209.8h0M331.6 1220.4h0M337.3 1231.9h0M343 1244.3h0M348.8 1257.7h0M168.1 1253.9h0M173.7 1243.7h0M179.2 1234.1h0M184.8 1225.1h0M190.3 1216.7h0M195.9 1209h0M201.5 1201.8h0M207 1195.3h0M212.6 1189.5h0M218.2 1184.2h0M223.7 1179.5h0M229.3 1175.5h0M234.9 1172.1h0M240.4 1169.3h0M246 1167.2h0M251.6 1165.6h0M257.1 1164.7h0M262.7 1164.4h0M268.4 1164.8h0M274.2 1166.2h0M279.9 1168.5h0M285.7 1171.7h0M291.4 1175.9h0M297.1 1181h0M302.9 1187h0M308.6 1193.9h0M314.4 1201.7h0M320.1 1210.5h0M325.8 1220.2h0M331.6 1230.8h0M337.3 1242.3h0M343 1254.7h0M168.1 1258h0M173.7 1247.7h0M179.2 1238.1h0M184.8 1229.2h0M190.3 1220.8h0M195.9 1213h0M201.5 1205.9h0M207 1199.4h0M212.6 1193.5h0M218.2 1188.3h0M223.7 1183.6h0M229.3 1179.6h0M234.9 1176.2h0M240.4 1173.4h0M246 1171.2h0M251.6 1169.7h0M257.1 1168.8h0M262.7 1168.4h0M268.4 1168.9h0M274.2 1170.3h0M279.9 1172.6h0M285.7 1175.8h0M291.4 1180h0M297.1 1185h0M302.9 1191h0M308.6 1198h0M314.4 1205.8h0M320.1 1214.6h0M325.8 1224.2h0M331.6 1234.8h0M337.3 1246.4h0M343 1258.8h0M173.7 1258.3h0M179.2 1248.7h0M184.8 1239.7h0M190.3 1231.4h0M195.9 1223.6h0M201.5 1216.5h0M207 1210h0M212.6 1204.1h0M218.2 1198.9h0M223.7 1194.2h0M229.3 1190.2h0M234.9 1186.8h0M240.4 1184h0M246 1181.8h0M251.6 1180.3h0M257.1 1179.3h0M262.7 1179h0M268.4 1179.5h0M274.2 1180.9h0M279.9 1183.2h0M285.7 1186.4h0M291.4 1190.6h0M297.1 1195.6h0M302.9 1201.6h0M308.6 1208.5h0M314.4 1216.4h0M320.1 1225.1h0M325.8 1234.8h0M331.6 1245.4h0M337.3 1257h0M179.2 1252.8h0M184.8 1243.8h0M190.3 1235.5h0M195.9 1227.7h0M201.5 1220.6h0M207 1214.1h0M212.6 1208.2h0M218.2 1202.9h0M223.7 1198.3h0M229.3 1194.3h0M234.9 1190.9h0M240.4 1188.1h0M246 1185.9h0M251.6 1184.4h0M257.1 1183.4h0M262.7 1183.1h0M268.4 1183.6h0M274.2 1185h0M279.9 1187.3h0M285.7 1190.5h0M291.4 1194.6h0M297.1 1199.7h0M302.9 1205.7h0M308.6 1212.6h0M314.4 1220.5h0M320.1 1229.2h0M325.8 1238.9h0M331.6 1249.5h0M184.8 1254.6h0M190.3 1246.3h0M195.9 1238.5h0M201.5 1231.4h0M207 1224.9h0M212.6 1219h0M218.2 1213.7h0M223.7 1209.1h0M229.3 1205.1h0M234.9 1201.7h0M240.4 1198.9h0M246 1196.7h0M251.6 1195.2h0M257.1 1194.2h0M262.7 1193.9h0M268.4 1194.4h0M274.2 1195.8h0M279.9 1198.1h0M285.7 1201.3h0M291.4 1205.4h0M297.1 1210.5h0M302.9 1216.5h0M308.6 1223.4h0M314.4 1231.3h0M320.1 1240h0M325.8 1249.7h0M184.8 1258.7h0M190.3 1250.3h0M195.9 1242.6h0M201.5 1235.5h0M207 1229h0M212.6 1223.1h0M218.2 1217.8h0M223.7 1213.2h0M229.3 1209.1h0M234.9 1205.7h0M240.4 1202.9h0M246 1200.8h0M251.6 1199.2h0M257.1 1198.3h0M262.7 1198h0M268.4 1198.4h0M274.2 1199.8h0M279.9 1202.1h0M285.7 1205.4h0M291.4 1209.5h0M297.1 1214.6h0M302.9 1220.6h0M308.6 1227.5h0M314.4 1235.3h0M320.1 1244.1h0M325.8 1253.8h0M195.9 1253.6h0M201.5 1246.5h0M207 1240h0M212.6 1234.1h0M218.2 1228.8h0M223.7 1224.2h0M229.3 1220.1h0M234.9 1216.7h0M240.4 1213.9h0M246 1211.8h0M251.6 1210.2h0M257.1 1209.3h0M262.7 1209h0M268.4 1209.5h0M274.2 1210.8h0M279.9 1213.1h0M285.7 1216.4h0M291.4 1220.5h0M297.1 1225.6h0M302.9 1231.6h0M308.6 1238.5h0M314.4 1246.3h0M320.1 1255.1h0M195.9 1257.7h0M201.5 1250.5h0M207 1244h0M212.6 1238.2h0M218.2 1232.9h0M223.7 1228.2h0M229.3 1224.2h0M234.9 1220.8h0M240.4 1218h0M246 1215.9h0M251.6 1214.3h0M257.1 1213.4h0M262.7 1213.1h0M268.4 1213.5h0M274.2 1214.9h0M279.9 1217.2h0M285.7 1220.4h0M291.4 1224.6h0M297.1 1229.7h0M302.9 1235.7h0M308.6 1242.6h0M314.4 1250.4h0M320.1 1259.2h0M207 1255.2h0M212.6 1249.4h0M218.2 1244.1h0M223.7 1239.4h0M229.3 1235.4h0M234.9 1232h0M240.4 1229.2h0M246 1227.1h0M251.6 1225.5h0M257.1 1224.6h0M262.7 1224.3h0M268.4 1224.7h0M274.2 1226.1h0M279.9 1228.4h0M285.7 1231.7h0M291.4 1235.8h0M297.1 1240.9h0M302.9 1246.9h0M308.6 1253.8h0M212.6 1253.4h0M218.2 1248.2h0M223.7 1243.5h0M229.3 1239.5h0M234.9 1236.1h0M240.4 1233.3h0M246 1231.1h0M251.6 1229.6h0M257.1 1228.7h0M262.7 1228.3h0M268.4 1228.8h0M274.2 1230.2h0M279.9 1232.5h0M285.7 1235.7h0M291.4 1239.9h0M297.1 1244.9h0M302.9 1250.9h0M308.6 1257.9h0M223.7 1254.9h0M229.3 1250.9h0M234.9 1247.5h0M240.4 1244.7h0M246 1242.5h0M251.6 1241h0M257.1 1240.1h0M262.7 1239.8h0M268.4 1240.2h0M274.2 1241.6h0M279.9 1243.9h0M285.7 1247.1h0M291.4 1251.3h0M297.1 1256.4h0M223.7 1259h0M229.3 1255h0M234.9 1251.6h0M240.4 1248.8h0M246 1246.6h0M251.6 1245.1h0M257.1 1244.1h0M262.7 1243.8h0M268.4 1244.3h0M274.2 1245.7h0M279.9 1248h0M285.7 1251.2h0M291.4 1255.4h0M246 1258.2h0M251.6 1256.7h0M257.1 1255.8h0M262.7 1255.4h0M268.4 1255.9h0M274.2 1257.3h0M118 1235.2h0M123.6 1225.5h0M129.1 1215.8h0M134.7 1206.1h0M140.3 1197.8h0M145.8 1190.9h0M151.4 1184.7h0M157 1179.1h0M162.5 1173.7h0M168.1 1169.2h0M173.7 1164.8h0M179.2 1159.9h0M184.8 1154.8h0M190.3 1149.7h0M195.9 1143.9h0M201.5 1137.7h0M207 1131.7h0M212.6 1126.1h0M218.2 1120.5h0M223.7 1116.7h0M229.3 1113.5h0M234.9 1110.2h0M240.4 1105.2h0M246 1099.6h0M251.6 1094.1h0M257.1 1088.5h0M262.7 1088.8h0M268.4 1093.2h0M274.2 1097.6h0M279.9 1104.8h0M285.7 1117h0M291.4 1130.9h0M297.1 1145.5h0M302.9 1159.8h0M308.6 1172.4h0M314.4 1188.7h0M320.1 1204.9h0M325.8 1220.7h0M331.6 1237.8h0M118 1243.8h0M123.6 1234.2h0M129.1 1224.5h0M134.7 1214.8h0M140.3 1206.5h0M145.8 1199.5h0M151.4 1193.3h0M157 1187.8h0M162.5 1182.3h0M168.1 1177.9h0M173.7 1173.4h0M179.2 1168.6h0M184.8 1163.5h0M190.3 1158.3h0M195.9 1152.5h0M201.5 1146.4h0M207 1140.4h0M212.6 1134.8h0M218.2 1129.2h0M223.7 1125.3h0M229.3 1122.1h0M234.9 1118.9h0M240.4 1113.8h0M246 1108.3h0M251.6 1102.7h0M257.1 1097.2h0M262.7 1097.5h0M268.4 1101.9h0M274.2 1106.3h0M279.9 1113.5h0M285.7 1125.7h0M291.4 1139.6h0M297.1 1154.2h0M302.9 1168.5h0M308.6 1181h0M314.4 1197.4h0M320.1 1213.5h0M325.8 1229.4h0M331.6 1246.5h0M118 1247.9h0M123.6 1238.2h0M129.1 1228.5h0M134.7 1218.8h0M140.3 1210.5h0M145.8 1203.6h0M151.4 1197.4h0M157 1191.9h0M162.5 1186.4h0M168.1 1182h0M173.7 1177.5h0M179.2 1172.7h0M184.8 1167.5h0M190.3 1162.4h0M195.9 1156.6h0M201.5 1150.5h0M207 1144.5h0M212.6 1138.8h0M218.2 1133.2h0M223.7 1129.4h0M229.3 1126.2h0M234.9 1123h0M240.4 1117.9h0M246 1112.3h0M251.6 1106.8h0M257.1 1101.3h0M262.7 1101.6h0M268.4 1106h0M274.2 1110.4h0M279.9 1117.5h0M285.7 1129.7h0M291.4 1143.7h0M297.1 1158.3h0M302.9 1172.6h0M308.6 1185.1h0M314.4 1201.4h0M320.1 1217.6h0M325.8 1233.4h0M331.6 1250.6h0M118 1256.6h0M123.6 1246.9h0M129.1 1237.2h0M134.7 1227.5h0M140.3 1219.2h0M145.8 1212.3h0M151.4 1206.1h0M157 1200.5h0M162.5 1195.1h0M168.1 1190.6h0M173.7 1186.2h0M179.2 1181.3h0M184.8 1176.2h0M190.3 1171.1h0M195.9 1165.3h0M201.5 1159.1h0M207 1153.1h0M212.6 1147.5h0M218.2 1141.9h0M223.7 1138.1h0M229.3 1134.8h0M234.9 1131.6h0M240.4 1126.6h0M246 1121h0M251.6 1115.5h0M257.1 1109.9h0M262.7 1110.2h0M268.4 1114.6h0M274.2 1119h0M279.9 1126.2h0M285.7 1138.4h0M291.4 1152.3h0M297.1 1166.9h0M302.9 1181.2h0M308.6 1193.8h0M314.4 1210.1h0M320.1 1226.3h0M325.8 1242.1h0M331.6 1259.2h0M123.6 1251h0M129.1 1241.3h0M134.7 1231.6h0M140.3 1223.3h0M145.8 1216.3h0M151.4 1210.2h0M157 1204.6h0M162.5 1199.1h0M168.1 1194.7h0M173.7 1190.3h0M179.2 1185.4h0M184.8 1180.3h0M190.3 1175.1h0M195.9 1169.4h0M201.5 1163.2h0M207 1157.2h0M212.6 1151.6h0M218.2 1146h0M223.7 1142.1h0M229.3 1138.9h0M234.9 1135.7h0M240.4 1130.6h0M246 1125.1h0M251.6 1119.5h0M257.1 1114h0M262.7 1114.3h0M268.4 1118.7h0M274.2 1123.1h0M279.9 1130.3h0M285.7 1142.5h0M291.4 1156.4h0M297.1 1171h0M302.9 1185.3h0M308.6 1197.9h0M314.4 1214.2h0M320.1 1230.4h0M325.8 1246.2h0M129.1 1249.9h0M134.7 1240.2h0M140.3 1231.9h0M145.8 1225h0M151.4 1218.8h0M157 1213.2h0M162.5 1207.8h0M168.1 1203.4h0M173.7 1198.9h0M179.2 1194.1h0M184.8 1188.9h0M190.3 1183.8h0M195.9 1178h0M201.5 1171.9h0M207 1165.9h0M212.6 1160.2h0M218.2 1154.6h0M223.7 1150.8h0M229.3 1147.6h0M234.9 1144.4h0M240.4 1139.3h0M246 1133.7h0M251.6 1128.2h0M257.1 1122.7h0M262.7 1122.9h0M268.4 1127.4h0M274.2 1131.8h0M279.9 1138.9h0M285.7 1151.1h0M291.4 1165h0M297.1 1179.6h0M302.9 1194h0M308.6 1206.5h0M314.4 1222.8h0M320.1 1239h0M325.8 1254.8h0M129.1 1254h0M134.7 1244.3h0M140.3 1236h0M145.8 1229.1h0M151.4 1222.9h0M157 1217.3h0M162.5 1211.9h0M168.1 1207.4h0M173.7 1203h0M179.2 1198.1h0M184.8 1193h0M190.3 1187.9h0M195.9 1182.1h0M201.5 1176h0M207 1169.9h0M212.6 1164.3h0M218.2 1158.7h0M223.7 1154.9h0M229.3 1151.7h0M234.9 1148.4h0M240.4 1143.4h0M246 1137.8h0M251.6 1132.3h0M257.1 1126.7h0M262.7 1127h0M268.4 1131.4h0M274.2 1135.9h0M279.9 1143h0M285.7 1155.2h0M291.4 1169.1h0M297.1 1183.7h0M302.9 1198h0M308.6 1210.6h0M314.4 1226.9h0M320.1 1243.1h0M325.8 1258.9h0M134.7 1253h0M140.3 1244.7h0M145.8 1237.7h0M151.4 1231.5h0M157 1226h0M162.5 1220.5h0M168.1 1216.1h0M173.7 1211.7h0M179.2 1206.8h0M184.8 1201.7h0M190.3 1196.5h0M195.9 1190.7h0M201.5 1184.6h0M207 1178.6h0M212.6 1173h0M218.2 1167.4h0M223.7 1163.5h0M229.3 1160.3h0M234.9 1157.1h0M240.4 1152h0M246 1146.5h0M251.6 1140.9h0M257.1 1135.4h0M262.7 1135.7h0M268.4 1140.1h0M274.2 1144.5h0M279.9 1151.7h0M285.7 1163.9h0M291.4 1177.8h0M297.1 1192.4h0M302.9 1206.7h0M308.6 1219.2h0M314.4 1235.6h0M320.1 1251.8h0M134.7 1257h0M140.3 1248.8h0M145.8 1241.8h0M151.4 1235.6h0M157 1230.1h0M162.5 1224.6h0M168.1 1220.2h0M173.7 1215.7h0M179.2 1210.9h0M184.8 1205.7h0M190.3 1200.6h0M195.9 1194.8h0M201.5 1188.7h0M207 1182.7h0M212.6 1177.1h0M218.2 1171.4h0M223.7 1167.6h0M229.3 1164.4h0M234.9 1161.2h0M240.4 1156.1h0M246 1150.6h0M251.6 1145h0M257.1 1139.5h0M262.7 1139.8h0M268.4 1144.2h0M274.2 1148.6h0M279.9 1155.7h0M285.7 1167.9h0M291.4 1181.9h0M297.1 1196.5h0M302.9 1210.8h0M308.6 1223.3h0M314.4 1239.6h0M320.1 1255.8h0M366 1201h0M371.6 1201.7h0M377.1 1202.4h0M382.7 1203.1h0M388.2 1203.8h0M393.8 1205.1h0M399.3 1206.8h0M404.9 1208.4h0M410.4 1210.1h0M416 1212.3h0M421.6 1214.5h0M427.1 1216.8h0M432.7 1219h0M438.2 1221.3h0M443.8 1223.5h0M449.3 1225.8h0M454.9 1228.1h0M460.4 1230.3h0M466 1232.8h0M366 1204.5h0M371.6 1205.2h0M377.1 1205.9h0M382.7 1206.6h0M388.2 1207.3h0M393.8 1208.6h0M399.3 1210.2h0M404.9 1211.8h0M410.4 1213.5h0M416 1215.7h0M421.6 1218h0M427.1 1220.2h0M432.7 1222.5h0M438.2 1224.7h0M443.8 1227h0M449.3 1229.2h0M454.9 1231.5h0M460.4 1233.8h0M466 1236.2h0M366 1206.5h0M371.6 1207.2h0M377.1 1207.9h0M382.7 1208.6h0M388.2 1209.3h0M393.8 1210.6h0M399.3 1212.2h0M404.9 1213.8h0M410.4 1215.6h0M416 1217.8h0M421.6 1220h0M427.1 1222.3h0M432.7 1224.5h0M438.2 1226.7h0M443.8 1229h0M449.3 1231.3h0M454.9 1233.5h0M460.4 1235.8h0M466 1238.2h0M366 1210.7h0M371.6 1211.4h0M377.1 1212.1h0M382.7 1212.8h0M388.2 1213.5h0M393.8 1214.8h0M399.3 1216.4h0M404.9 1218h0M410.4 1219.8h0M416 1222h0M421.6 1224.2h0M427.1 1226.5h0M432.7 1228.7h0M438.2 1230.9h0M443.8 1233.2h0M449.3 1235.5h0M454.9 1237.7h0M460.4 1240h0M466 1242.4h0M366 1212.8h0M371.6 1213.4h0M377.1 1214.1h0M382.7 1214.8h0M388.2 1215.5h0M393.8 1216.9h0M399.3 1218.5h0M404.9 1220.1h0M410.4 1221.8h0M416 1224h0M421.6 1226.3h0M427.1 1228.5h0M432.7 1230.7h0M438.2 1233h0M443.8 1235.2h0M449.3 1237.5h0M454.9 1239.8h0M460.4 1242h0M466 1244.5h0M366 1217.7h0M371.6 1218.4h0M377.1 1219.1h0M382.7 1219.8h0M388.2 1220.5h0M393.8 1221.8h0M399.3 1223.4h0M404.9 1225.1h0M410.4 1226.8h0M416 1229h0M421.6 1231.2h0M427.1 1233.5h0M432.7 1235.7h0M438.2 1237.9h0M443.8 1240.2h0M449.3 1242.5h0M454.9 1244.7h0M460.4 1247h0M466 1249.4h0M366 1219.8h0M371.6 1220.5h0M377.1 1221.1h0M382.7 1221.8h0M388.2 1222.5h0M393.8 1223.9h0M399.3 1225.5h0M404.9 1227.1h0M410.4 1228.8h0M416 1231h0M421.6 1233.3h0M427.1 1235.5h0M432.7 1237.7h0M438.2 1240h0M443.8 1242.2h0M449.3 1244.5h0M454.9 1246.8h0M460.4 1249h0M466 1251.5h0M366 1225.5h0M371.6 1226.2h0M377.1 1226.9h0M382.7 1227.6h0M388.2 1228.3h0M393.8 1229.6h0M399.3 1231.2h0M404.9 1232.8h0M410.4 1234.5h0M416 1236.8h0M421.6 1239h0M427.1 1241.2h0M432.7 1243.5h0M438.2 1245.7h0M443.8 1248h0M449.3 1250.2h0M454.9 1252.5h0M460.4 1254.8h0M466 1257.2h0M366 1227.5h0M371.6 1228.2h0M377.1 1228.9h0M382.7 1229.6h0M388.2 1230.3h0M393.8 1231.6h0M399.3 1233.2h0M404.9 1234.9h0M410.4 1236.6h0M416 1238.8h0M421.6 1241h0M427.1 1243.3h0M432.7 1245.5h0M438.2 1247.7h0M443.8 1250h0M449.3 1252.3h0M454.9 1254.5h0M460.4 1256.8h0M466 1259.3h0M366 1234h0M371.6 1234.7h0M377.1 1235.4h0M382.7 1236.1h0M388.2 1236.8h0M393.8 1238.1h0M399.3 1239.7h0M404.9 1241.4h0M410.4 1243.1h0M416 1245.3h0M421.6 1247.5h0M427.1 1249.8h0M432.7 1252h0M438.2 1254.2h0M443.8 1256.5h0M449.3 1258.8h0M366 1236.1h0M371.6 1236.8h0M377.1 1237.4h0M382.7 1238.1h0M388.2 1238.8h0M393.8 1240.2h0M399.3 1241.8h0M404.9 1243.4h0M410.4 1245.1h0M416 1247.3h0M421.6 1249.6h0M427.1 1251.8h0M432.7 1254h0M438.2 1256.3h0M443.8 1258.5h0" fill="none" stroke="#fdfbbd" stroke-width="6.2" stroke-linecap="round"/>
<path d="M190.3 745.3h0M195.9 753.5h0M201.5 765h0M207 786.2h0M212.6 799.4h0M218.2 813.1h0M223.7 831.1h0M229.3 841.6h0M234.9 851.9h0M240.4 861.9h0M246 871.6h0M251.6 880.9h0M257.1 887h0M262.7 888h0M268.4 885.5h0M274.2 879.5h0M279.9 873.6h0M285.7 859h0M291.4 844.2h0M297.1 828.2h0M302.9 811h0M308.6 793.5h0M314.4 770.4h0M320.1 746.2h0M118 1231.1h0M123.6 1221.4h0M129.1 1211.7h0M134.7 1202h0M140.3 1193.7h0M145.8 1186.8h0M151.4 1180.6h0M157 1175h0M162.5 1169.6h0M168.1 1165.1h0M173.7 1160.7h0M179.2 1155.9h0M184.8 1150.7h0M190.3 1145.6h0M195.9 1139.8h0M201.5 1133.7h0M207 1127.6h0M212.6 1122h0M218.2 1116.4h0M223.7 1112.6h0M229.3 1109.4h0M234.9 1106.2h0M240.4 1101.1h0M246 1095.5h0M251.6 1090h0M257.1 1084.5h0M262.7 1084.7h0M268.4 1089.2h0M274.2 1093.6h0M279.9 1100.7h0M285.7 1112.9h0M291.4 1126.8h0M297.1 1141.4h0M302.9 1155.7h0M308.6 1168.3h0M314.4 1184.6h0M320.1 1200.8h0M325.8 1216.6h0M331.6 1233.8h0M337.3 1258.1h0" fill="none" stroke="#a9d8e8" stroke-width="6" stroke-linecap="round"/>
<path d="M207 1045.4h0M212.6 1047.1h0M218.2 1048.9h0M223.7 1050.9h0M229.3 1053h0M234.9 1055.1h0M240.4 1057.1h0M246 1058.4h0M251.6 1059.7h0M257.1 1061.1h0M262.7 1060.4h0M268.4 1058.3h0M274.2 1056.1h0M279.9 1054h0M285.7 1051.9h0M291.4 1049.5h0M297.1 1047.2h0M302.9 1044.8h0" fill="none" stroke="#c9e8f1" stroke-width="5" stroke-linecap="round"/>
<path d="M212.6 1047.4h0M218.2 1043.3h0M223.7 1041.9h0M229.3 1041.9h0M234.9 1041.8h0M240.4 1041.7h0M246 1041.6h0M251.6 1041.6h0M257.1 1041.5h0M262.7 1041.4h0M268.4 1041.4h0M274.2 1041.5h0M279.9 1041.5h0M285.7 1041.5h0M291.4 1041.6h0M297.1 1041.6h0M302.9 1042.3h0" fill="none" stroke="#bde3ee" stroke-width="6.2" stroke-linecap="round"/>
</g>
<path d="M215.1 977.8h0M220.3 981.4h0M225.6 985.1h0M230.8 988.7h0M236 992.3h0M241.2 996h0M246.5 999.6h0M251.7 1003.2h0M256.9 1006.9h0M262.2 1010.5h0M267.4 1014.2h0M272.6 1017.8h0M277.9 1021.4h0M283.1 1025.1h0M288.3 1028.7h0M293.5 1032.3h0M216.3 1046.4h0M221.8 1042.4h0M227.3 1038.5h0M232.8 1034.6h0M238.3 1030.7h0M243.8 1026.8h0M249.3 1022.9h0M254.7 1018.9h0M260.2 1015h0M265.7 1011.1h0M271.2 1007.2h0M276.7 1003.3h0M282.2 999.4h0M287.7 995.4h0M293.2 991.5h0" fill="none" stroke="#e8532f" stroke-width="6.3" stroke-linecap="round"/>
<path d="M298.8 1036h0M210.8 1050.3h0M298.7 987.6h0" fill="none" stroke="#f07543" stroke-width="6.3" stroke-linecap="round"/>
<path d="M304 1039.6h0M205.3 1054.2h0" fill="none" stroke="#fdc779" stroke-width="6.3" stroke-linecap="round"/>
<text transform="translate(84.45 756) scale(1 1)" font-family="Liberation Serif, serif" font-size="35.8" fill="#262626">1</text>
<text transform="translate(56.88 882.63) scale(1 1)" font-family="Liberation Serif, serif" font-size="35.8" fill="#262626">0.5</text>
<text transform="translate(83.73 1009.98) scale(1 1)" font-family="Liberation Serif, serif" font-size="35.8" fill="#262626">0</text>
<text transform="translate(45.07 1137.33) scale(1 1)" font-family="Liberation Serif, serif" font-size="35.8" fill="#262626">-0.5</text>
<text transform="translate(72.63 1265.4) scale(1 1)" font-family="Liberation Serif, serif" font-size="35.8" fill="#262626">-1</text>
<text transform="translate(35.55 1089.59) rotate(-90) scale(1.001 1)" font-family="Liberation Serif, serif" font-size="33.11" fill="#404040">Energy (eV)</text>
<text transform="translate(102.12 1297.23) scale(1 1)" font-family="Liberation Serif, serif" font-size="36.5" font-style="italic" fill="#262626">M</text>
<text transform="translate(252.02 1297.6) scale(1 1)" font-family="Liberation Serif, serif" font-size="36.5" fill="#262626">Γ</text>
<text transform="translate(353.87 1297.23) scale(1 1)" font-family="Liberation Serif, serif" font-size="36.5" font-style="italic" fill="#262626">X</text>
<text transform="translate(448.62 1297.23) scale(1 1)" font-family="Liberation Serif, serif" font-size="36.5" font-style="italic" fill="#262626">M</text>
<path d="M100 1268.9h35.6M253 1268.4h19.5M351.3 1268.4h30M446.8 1268.4h35.5" stroke="#262626" stroke-width="1.6"/>
<rect x="498.5" y="746.3" width="34.8" height="510" fill="url(#rdylbu)" stroke="#262626" stroke-width="1.2"/>
<path d="M533.3 1154.3h-6M533.3 1052.3h-6M533.3 950.3h-6M533.3 848.3h-6" stroke="#262626" stroke-width="1.2"/>
<text transform="translate(541.69 760.4) scale(1 1)" font-family="Liberation Serif, serif" font-size="34.5" fill="#3c3c3c">1</text>
<text transform="translate(543.42 861.71) scale(1 1)" font-family="Liberation Serif, serif" font-size="34.5" fill="#3c3c3c">0.8</text>
<text transform="translate(543.42 963.71) scale(1 1)" font-family="Liberation Serif, serif" font-size="34.5" fill="#3c3c3c">0.6</text>
<text transform="translate(543.42 1065.71) scale(1 1)" font-family="Liberation Serif, serif" font-size="34.5" fill="#3c3c3c">0.4</text>
<text transform="translate(543.42 1167.71) scale(1 1)" font-family="Liberation Serif, serif" font-size="34.5" fill="#3c3c3c">0.2</text>
<text transform="translate(543.42 1269.71) scale(1 1)" font-family="Liberation Serif, serif" font-size="34.5" fill="#3c3c3c">0</text>
<text transform="translate(421.51 714.22) scale(1.191 1)" font-family="Liberation Serif, serif" font-size="40.21" fill="#231815">&lt;</text>
<text transform="translate(469.27 710.84) scale(1.003 1)" font-family="Liberation Serif, serif" font-size="43.09" fill="#231815">2x/</text>
<text transform="translate(523.54 711.3) scale(1.061 1)" font-family="Liberation Serif, serif" font-size="41.69" font-style="italic" fill="#231815">L</text>
<text transform="translate(547.57 726.1) scale(1.114 1)" font-family="Liberation Serif, serif" font-size="24.13" font-style="italic" fill="#231815">x</text>
<text transform="translate(580.76 714.22) scale(1.164 1)" font-family="Liberation Serif, serif" font-size="40.21" fill="#231815">&gt;</text>
<path d="M459.4 683.9V722.7M569.5 683.9V722.7" stroke="#231815" stroke-width="1.6"/>
<text transform="translate(13.18 792.08) scale(1.006 1)" font-family="Liberation Serif, serif" font-size="81.86" font-weight="bold" fill="#231815">b</text>
<text transform="translate(632.97 768.11) scale(1.114 1)" font-family="Liberation Serif, serif" font-size="78.75" font-weight="bold" fill="#231815">c</text>
<line x1="781.5" y1="752.0" x2="781.5" y2="1232.2" stroke="#7a7a7a" stroke-width="2" stroke-dasharray="10.8 13"/>
<path d="M781.5 1232.2v-9.5M781.5 743.5v9.5M827 1232.2v-5M827 743.5v5M872.5 1232.2v-9.5M872.5 743.5v9.5M918 1232.2v-5M918 743.5v5M963.5 1232.2v-9.5M963.5 743.5v9.5M1009 1232.2v-5M1009 743.5v5M1054.5 1232.2v-9.5M1054.5 743.5v9.5M1100 1232.2v-5M1100 743.5v5M1145.5 1232.2v-9.5M1145.5 743.5v9.5M1191 1232.2v-5M1191 743.5v5M1236.5 1232.2v-9.5M1236.5 743.5v9.5M1282 1232.2v-5M1282 743.5v5M736.4 1171.2h5M1328.2 1171.2h-5M736.4 1110.1h9M1328.2 1110.1h-9M736.4 1049h5M1328.2 1049h-5M736.4 987.9h9M1328.2 987.9h-9M736.4 926.8h5M1328.2 926.8h-5M736.4 865.7h9M1328.2 865.7h-9M736.4 804.6h5M1328.2 804.6h-5" stroke="#000" stroke-width="2"/>
<path d="M1255.5 743.5L1257.2 748.4L1262 753.3L1256.5 758.2L1256.5 763.1L1256.9 767.9L1251.6 772.8L1255.9 777.7L1258.3 782.6L1260.3 787.5L1251.3 792.4L1253 797.3L1249.5 802.2L1256.9 807L1254.5 811.9L1245 816.8L1254.2 821.7L1251.8 826.6L1245.6 831.5L1242.2 836.4L1236.3 841.3L1232.3 846.1L1225.5 851L1215.5 855.9L1207.7 860.8L1200.9 865.7L1193.4 870.6L1187.6 875.5L1180.8 880.4L1175.3 885.3L1167.9 890.1L1161.8 895L1153.9 899.9L1145.7 904.8L1136.5 909.7L1127.3 914.6L1119.5 919.5L1107.7 924.4L1095.4 929.2L1080.6 934.1L1060.1 939L1039.9 943.9L1007.9 948.8L970.1 953.7L920.1 958.6L870.2 963.5L801.1 968.3L780.9 973.2L784 978.1L783.4 983L778.8 987.9L779.9 992.8L783.7 997.7L781.3 1002.6L784.1 1007.5L780.9 1012.3L779.2 1017.2L782.2 1022.1L820.6 1027L894.3 1031.9L918.8 1036.8L981.5 1041.7L1044.9 1046.6L1095.6 1051.4L1122 1056.3L1148 1061.2L1170.5 1066.1L1191.6 1071L1212.3 1075.9L1220.5 1080.8L1230.2 1085.7L1234.8 1090.5L1239.1 1095.4L1246.8 1100.3L1242.9 1105.2L1252.1 1110.1L1248 1115L1253.5 1119.9L1252.9 1124.8L1255.1 1129.7L1262.7 1134.5L1260.1 1139.4L1253.6 1144.3L1260.5 1149.2L1253.1 1154.1L1255.9 1159L1262 1163.9L1259.2 1168.8L1252.4 1173.6L1262.5 1178.5L1252.9 1183.4L1253 1188.3L1258.8 1193.2L1253.6 1198.1L1253.2 1203L1250.6 1207.9L1250.8 1212.7L1255.6 1211L1260.6 1213.5L1296.7 1216L1262 1224L1290 1226M781 998L766.7 997.8" fill="none" stroke="#4a4a4a" stroke-width="4.3" stroke-linejoin="round" stroke-linecap="round"/>
<path d="M1250.8 738.8h9.4v9.4h-9.4zM1252.5 743.7h9.4v9.4h-9.4zM1257.3 748.6h9.4v9.4h-9.4zM1251.8 753.5h9.4v9.4h-9.4zM1251.8 758.4h9.4v9.4h-9.4zM1252.2 763.2h9.4v9.4h-9.4zM1246.9 768.1h9.4v9.4h-9.4zM1251.2 773h9.4v9.4h-9.4zM1253.6 777.9h9.4v9.4h-9.4zM1255.6 782.8h9.4v9.4h-9.4zM1246.6 787.7h9.4v9.4h-9.4zM1248.3 792.6h9.4v9.4h-9.4zM1244.8 797.5h9.4v9.4h-9.4zM1252.2 802.3h9.4v9.4h-9.4zM1249.8 807.2h9.4v9.4h-9.4zM1240.3 812.1h9.4v9.4h-9.4zM1249.5 817h9.4v9.4h-9.4zM1247.1 821.9h9.4v9.4h-9.4zM1240.9 826.8h9.4v9.4h-9.4zM1237.5 831.7h9.4v9.4h-9.4zM1231.6 836.6h9.4v9.4h-9.4zM1227.6 841.4h9.4v9.4h-9.4zM1220.8 846.3h9.4v9.4h-9.4zM1210.8 851.2h9.4v9.4h-9.4zM1203 856.1h9.4v9.4h-9.4zM1196.2 861h9.4v9.4h-9.4zM1188.7 865.9h9.4v9.4h-9.4zM1182.9 870.8h9.4v9.4h-9.4zM1176.1 875.7h9.4v9.4h-9.4zM1170.6 880.6h9.4v9.4h-9.4zM1163.2 885.4h9.4v9.4h-9.4zM1157.1 890.3h9.4v9.4h-9.4zM1149.2 895.2h9.4v9.4h-9.4zM1141 900.1h9.4v9.4h-9.4zM1131.8 905h9.4v9.4h-9.4zM1122.6 909.9h9.4v9.4h-9.4zM1114.8 914.8h9.4v9.4h-9.4zM1103 919.7h9.4v9.4h-9.4zM1090.7 924.5h9.4v9.4h-9.4zM1075.9 929.4h9.4v9.4h-9.4zM1055.4 934.3h9.4v9.4h-9.4zM1035.2 939.2h9.4v9.4h-9.4zM1003.2 944.1h9.4v9.4h-9.4zM965.4 949h9.4v9.4h-9.4zM915.4 953.9h9.4v9.4h-9.4zM865.5 958.8h9.4v9.4h-9.4zM796.4 963.6h9.4v9.4h-9.4zM776.2 968.5h9.4v9.4h-9.4zM779.3 973.4h9.4v9.4h-9.4zM778.7 978.3h9.4v9.4h-9.4zM774.1 983.2h9.4v9.4h-9.4zM775.2 988.1h9.4v9.4h-9.4zM779 993h9.4v9.4h-9.4zM776.6 997.9h9.4v9.4h-9.4zM779.4 1002.8h9.4v9.4h-9.4zM776.2 1007.6h9.4v9.4h-9.4zM774.5 1012.5h9.4v9.4h-9.4zM777.5 1017.4h9.4v9.4h-9.4zM815.9 1022.3h9.4v9.4h-9.4zM889.6 1027.2h9.4v9.4h-9.4zM914.1 1032.1h9.4v9.4h-9.4zM976.8 1037h9.4v9.4h-9.4zM1040.2 1041.9h9.4v9.4h-9.4zM1090.9 1046.7h9.4v9.4h-9.4zM1117.3 1051.6h9.4v9.4h-9.4zM1143.3 1056.5h9.4v9.4h-9.4zM1165.8 1061.4h9.4v9.4h-9.4zM1186.9 1066.3h9.4v9.4h-9.4zM1207.6 1071.2h9.4v9.4h-9.4zM1215.8 1076.1h9.4v9.4h-9.4zM1225.5 1081h9.4v9.4h-9.4zM1230.1 1085.8h9.4v9.4h-9.4zM1234.4 1090.7h9.4v9.4h-9.4zM1242.1 1095.6h9.4v9.4h-9.4zM1238.2 1100.5h9.4v9.4h-9.4zM1247.4 1105.4h9.4v9.4h-9.4zM1243.3 1110.3h9.4v9.4h-9.4zM1248.8 1115.2h9.4v9.4h-9.4zM1248.2 1120.1h9.4v9.4h-9.4zM1250.4 1125h9.4v9.4h-9.4zM1258 1129.8h9.4v9.4h-9.4zM1255.4 1134.7h9.4v9.4h-9.4zM1248.9 1139.6h9.4v9.4h-9.4zM1255.8 1144.5h9.4v9.4h-9.4zM1248.4 1149.4h9.4v9.4h-9.4zM1251.2 1154.3h9.4v9.4h-9.4zM1257.3 1159.2h9.4v9.4h-9.4zM1254.5 1164.1h9.4v9.4h-9.4zM1247.7 1168.9h9.4v9.4h-9.4zM1257.8 1173.8h9.4v9.4h-9.4zM1248.2 1178.7h9.4v9.4h-9.4zM1248.3 1183.6h9.4v9.4h-9.4zM1254.1 1188.5h9.4v9.4h-9.4zM1248.9 1193.4h9.4v9.4h-9.4zM1248.5 1198.3h9.4v9.4h-9.4zM1245.9 1203.2h9.4v9.4h-9.4zM1246.1 1208h9.4v9.4h-9.4zM1250.9 1206.3h9.4v9.4h-9.4zM1255.9 1208.8h9.4v9.4h-9.4zM1292 1211.3h9.4v9.4h-9.4zM1257.3 1219.3h9.4v9.4h-9.4zM1285.3 1221.3h9.4v9.4h-9.4zM762 993.1h9.4v9.4h-9.4z" fill="none" stroke="#4a4a4a" stroke-width="1.2"/>
<path d="M1261.1 743.5L1261.5 745.2L1261.3 750.1L1252.2 755L1257.8 759.9L1255.3 764.8L1256 769.7L1250.8 774.5L1252.5 779.4L1256.4 784.3L1253.3 789.2L1255.3 794.1L1249.4 799L1249.1 803.9L1255.4 808.8L1250.8 813.6L1249.9 818.5L1250.6 823.4L1243.8 828.3L1237.7 833.2L1242.9 838.1L1236.2 843L1231.6 847.9L1222.7 852.7L1214.9 857.6L1205.8 862.5L1199.9 867.4L1191.8 872.3L1185.4 877.2L1179.1 882.1L1171.6 887L1164.5 891.9L1159 896.7L1151.5 901.6L1142.5 906.5L1133.4 911.4L1125.3 916.3L1113.1 921.2L1101.3 926.1L1089.9 931L1074.1 935.8L1053 940.7L1028.3 945.6L996.2 950.5L951.7 955.4L901.8 960.3L849.9 965.2L783.3 970.1L780.6 974.9L780.8 979.8L780.3 984.7L780.4 989.6L783 994.5L781.8 999.4L780.2 1004.3L779.4 1009.2L783 1014.1L782.6 1018.9L783.3 1023.8L848.5 1028.7L903.8 1033.6L929.8 1038.5L1003.8 1043.4L1063.2 1048.3L1105.5 1053.2L1133.3 1058L1155.5 1062.9L1179.4 1067.8L1198.2 1072.7L1215.8 1077.6L1225.3 1082.5L1233 1087.4L1237.5 1092.3L1242.9 1097.1L1245.6 1102L1254.1 1106.9L1254.3 1111.8L1251.4 1116.7L1260.7 1121.6L1255.5 1126.5L1253.9 1131.4L1251.9 1136.3L1255.9 1141.1L1252.1 1146L1261.3 1150.9L1262.1 1155.8L1254.1 1160.7L1253.1 1165.6L1257.7 1170.5L1253 1175.4L1257 1180.2L1259.8 1185.1L1252.8 1190L1254.7 1194.9L1260.4 1199.8L1255 1204.7L1253.8 1209.6L1255.6 1211L1201.9 1217.7L1251 1211.4L1225 1225.6L1251 1225L1263 1231L1308 1231" fill="none" stroke="#ee3a3d" stroke-width="4.3" stroke-linejoin="round" stroke-linecap="round"/>
<path d="M1256.2 743.5a4.9 4.9 0 1 0 9.8 0a4.9 4.9 0 1 0 -9.8 0M1256.6 745.2a4.9 4.9 0 1 0 9.8 0a4.9 4.9 0 1 0 -9.8 0M1256.4 750.1a4.9 4.9 0 1 0 9.8 0a4.9 4.9 0 1 0 -9.8 0M1247.3 755a4.9 4.9 0 1 0 9.8 0a4.9 4.9 0 1 0 -9.8 0M1252.9 759.9a4.9 4.9 0 1 0 9.8 0a4.9 4.9 0 1 0 -9.8 0M1250.4 764.8a4.9 4.9 0 1 0 9.8 0a4.9 4.9 0 1 0 -9.8 0M1251.1 769.7a4.9 4.9 0 1 0 9.8 0a4.9 4.9 0 1 0 -9.8 0M1245.9 774.5a4.9 4.9 0 1 0 9.8 0a4.9 4.9 0 1 0 -9.8 0M1247.6 779.4a4.9 4.9 0 1 0 9.8 0a4.9 4.9 0 1 0 -9.8 0M1251.5 784.3a4.9 4.9 0 1 0 9.8 0a4.9 4.9 0 1 0 -9.8 0M1248.4 789.2a4.9 4.9 0 1 0 9.8 0a4.9 4.9 0 1 0 -9.8 0M1250.4 794.1a4.9 4.9 0 1 0 9.8 0a4.9 4.9 0 1 0 -9.8 0M1244.5 799a4.9 4.9 0 1 0 9.8 0a4.9 4.9 0 1 0 -9.8 0M1244.2 803.9a4.9 4.9 0 1 0 9.8 0a4.9 4.9 0 1 0 -9.8 0M1250.5 808.8a4.9 4.9 0 1 0 9.8 0a4.9 4.9 0 1 0 -9.8 0M1245.9 813.6a4.9 4.9 0 1 0 9.8 0a4.9 4.9 0 1 0 -9.8 0M1245 818.5a4.9 4.9 0 1 0 9.8 0a4.9 4.9 0 1 0 -9.8 0M1245.7 823.4a4.9 4.9 0 1 0 9.8 0a4.9 4.9 0 1 0 -9.8 0M1238.9 828.3a4.9 4.9 0 1 0 9.8 0a4.9 4.9 0 1 0 -9.8 0M1232.8 833.2a4.9 4.9 0 1 0 9.8 0a4.9 4.9 0 1 0 -9.8 0M1238 838.1a4.9 4.9 0 1 0 9.8 0a4.9 4.9 0 1 0 -9.8 0M1231.3 843a4.9 4.9 0 1 0 9.8 0a4.9 4.9 0 1 0 -9.8 0M1226.7 847.9a4.9 4.9 0 1 0 9.8 0a4.9 4.9 0 1 0 -9.8 0M1217.8 852.7a4.9 4.9 0 1 0 9.8 0a4.9 4.9 0 1 0 -9.8 0M1210 857.6a4.9 4.9 0 1 0 9.8 0a4.9 4.9 0 1 0 -9.8 0M1200.9 862.5a4.9 4.9 0 1 0 9.8 0a4.9 4.9 0 1 0 -9.8 0M1195 867.4a4.9 4.9 0 1 0 9.8 0a4.9 4.9 0 1 0 -9.8 0M1186.9 872.3a4.9 4.9 0 1 0 9.8 0a4.9 4.9 0 1 0 -9.8 0M1180.5 877.2a4.9 4.9 0 1 0 9.8 0a4.9 4.9 0 1 0 -9.8 0M1174.2 882.1a4.9 4.9 0 1 0 9.8 0a4.9 4.9 0 1 0 -9.8 0M1166.7 887a4.9 4.9 0 1 0 9.8 0a4.9 4.9 0 1 0 -9.8 0M1159.6 891.9a4.9 4.9 0 1 0 9.8 0a4.9 4.9 0 1 0 -9.8 0M1154.1 896.7a4.9 4.9 0 1 0 9.8 0a4.9 4.9 0 1 0 -9.8 0M1146.6 901.6a4.9 4.9 0 1 0 9.8 0a4.9 4.9 0 1 0 -9.8 0M1137.6 906.5a4.9 4.9 0 1 0 9.8 0a4.9 4.9 0 1 0 -9.8 0M1128.5 911.4a4.9 4.9 0 1 0 9.8 0a4.9 4.9 0 1 0 -9.8 0M1120.4 916.3a4.9 4.9 0 1 0 9.8 0a4.9 4.9 0 1 0 -9.8 0M1108.2 921.2a4.9 4.9 0 1 0 9.8 0a4.9 4.9 0 1 0 -9.8 0M1096.4 926.1a4.9 4.9 0 1 0 9.8 0a4.9 4.9 0 1 0 -9.8 0M1085 931a4.9 4.9 0 1 0 9.8 0a4.9 4.9 0 1 0 -9.8 0M1069.2 935.8a4.9 4.9 0 1 0 9.8 0a4.9 4.9 0 1 0 -9.8 0M1048.1 940.7a4.9 4.9 0 1 0 9.8 0a4.9 4.9 0 1 0 -9.8 0M1023.4 945.6a4.9 4.9 0 1 0 9.8 0a4.9 4.9 0 1 0 -9.8 0M991.3 950.5a4.9 4.9 0 1 0 9.8 0a4.9 4.9 0 1 0 -9.8 0M946.8 955.4a4.9 4.9 0 1 0 9.8 0a4.9 4.9 0 1 0 -9.8 0M896.9 960.3a4.9 4.9 0 1 0 9.8 0a4.9 4.9 0 1 0 -9.8 0M845 965.2a4.9 4.9 0 1 0 9.8 0a4.9 4.9 0 1 0 -9.8 0M778.4 970.1a4.9 4.9 0 1 0 9.8 0a4.9 4.9 0 1 0 -9.8 0M775.7 974.9a4.9 4.9 0 1 0 9.8 0a4.9 4.9 0 1 0 -9.8 0M775.9 979.8a4.9 4.9 0 1 0 9.8 0a4.9 4.9 0 1 0 -9.8 0M775.4 984.7a4.9 4.9 0 1 0 9.8 0a4.9 4.9 0 1 0 -9.8 0M775.5 989.6a4.9 4.9 0 1 0 9.8 0a4.9 4.9 0 1 0 -9.8 0M778.1 994.5a4.9 4.9 0 1 0 9.8 0a4.9 4.9 0 1 0 -9.8 0M776.9 999.4a4.9 4.9 0 1 0 9.8 0a4.9 4.9 0 1 0 -9.8 0M775.3 1004.3a4.9 4.9 0 1 0 9.8 0a4.9 4.9 0 1 0 -9.8 0M774.5 1009.2a4.9 4.9 0 1 0 9.8 0a4.9 4.9 0 1 0 -9.8 0M778.1 1014.1a4.9 4.9 0 1 0 9.8 0a4.9 4.9 0 1 0 -9.8 0M777.7 1018.9a4.9 4.9 0 1 0 9.8 0a4.9 4.9 0 1 0 -9.8 0M778.4 1023.8a4.9 4.9 0 1 0 9.8 0a4.9 4.9 0 1 0 -9.8 0M843.6 1028.7a4.9 4.9 0 1 0 9.8 0a4.9 4.9 0 1 0 -9.8 0M898.9 1033.6a4.9 4.9 0 1 0 9.8 0a4.9 4.9 0 1 0 -9.8 0M924.9 1038.5a4.9 4.9 0 1 0 9.8 0a4.9 4.9 0 1 0 -9.8 0M998.9 1043.4a4.9 4.9 0 1 0 9.8 0a4.9 4.9 0 1 0 -9.8 0M1058.3 1048.3a4.9 4.9 0 1 0 9.8 0a4.9 4.9 0 1 0 -9.8 0M1100.6 1053.2a4.9 4.9 0 1 0 9.8 0a4.9 4.9 0 1 0 -9.8 0M1128.4 1058a4.9 4.9 0 1 0 9.8 0a4.9 4.9 0 1 0 -9.8 0M1150.6 1062.9a4.9 4.9 0 1 0 9.8 0a4.9 4.9 0 1 0 -9.8 0M1174.5 1067.8a4.9 4.9 0 1 0 9.8 0a4.9 4.9 0 1 0 -9.8 0M1193.3 1072.7a4.9 4.9 0 1 0 9.8 0a4.9 4.9 0 1 0 -9.8 0M1210.9 1077.6a4.9 4.9 0 1 0 9.8 0a4.9 4.9 0 1 0 -9.8 0M1220.4 1082.5a4.9 4.9 0 1 0 9.8 0a4.9 4.9 0 1 0 -9.8 0M1228.1 1087.4a4.9 4.9 0 1 0 9.8 0a4.9 4.9 0 1 0 -9.8 0M1232.6 1092.3a4.9 4.9 0 1 0 9.8 0a4.9 4.9 0 1 0 -9.8 0M1238 1097.1a4.9 4.9 0 1 0 9.8 0a4.9 4.9 0 1 0 -9.8 0M1240.7 1102a4.9 4.9 0 1 0 9.8 0a4.9 4.9 0 1 0 -9.8 0M1249.2 1106.9a4.9 4.9 0 1 0 9.8 0a4.9 4.9 0 1 0 -9.8 0M1249.4 1111.8a4.9 4.9 0 1 0 9.8 0a4.9 4.9 0 1 0 -9.8 0M1246.5 1116.7a4.9 4.9 0 1 0 9.8 0a4.9 4.9 0 1 0 -9.8 0M1255.8 1121.6a4.9 4.9 0 1 0 9.8 0a4.9 4.9 0 1 0 -9.8 0M1250.6 1126.5a4.9 4.9 0 1 0 9.8 0a4.9 4.9 0 1 0 -9.8 0M1249 1131.4a4.9 4.9 0 1 0 9.8 0a4.9 4.9 0 1 0 -9.8 0M1247 1136.3a4.9 4.9 0 1 0 9.8 0a4.9 4.9 0 1 0 -9.8 0M1251 1141.1a4.9 4.9 0 1 0 9.8 0a4.9 4.9 0 1 0 -9.8 0M1247.2 1146a4.9 4.9 0 1 0 9.8 0a4.9 4.9 0 1 0 -9.8 0M1256.4 1150.9a4.9 4.9 0 1 0 9.8 0a4.9 4.9 0 1 0 -9.8 0M1257.2 1155.8a4.9 4.9 0 1 0 9.8 0a4.9 4.9 0 1 0 -9.8 0M1249.2 1160.7a4.9 4.9 0 1 0 9.8 0a4.9 4.9 0 1 0 -9.8 0M1248.2 1165.6a4.9 4.9 0 1 0 9.8 0a4.9 4.9 0 1 0 -9.8 0M1252.8 1170.5a4.9 4.9 0 1 0 9.8 0a4.9 4.9 0 1 0 -9.8 0M1248.1 1175.4a4.9 4.9 0 1 0 9.8 0a4.9 4.9 0 1 0 -9.8 0M1252.1 1180.2a4.9 4.9 0 1 0 9.8 0a4.9 4.9 0 1 0 -9.8 0M1254.9 1185.1a4.9 4.9 0 1 0 9.8 0a4.9 4.9 0 1 0 -9.8 0M1247.9 1190a4.9 4.9 0 1 0 9.8 0a4.9 4.9 0 1 0 -9.8 0M1249.8 1194.9a4.9 4.9 0 1 0 9.8 0a4.9 4.9 0 1 0 -9.8 0M1255.5 1199.8a4.9 4.9 0 1 0 9.8 0a4.9 4.9 0 1 0 -9.8 0M1250.1 1204.7a4.9 4.9 0 1 0 9.8 0a4.9 4.9 0 1 0 -9.8 0M1248.9 1209.6a4.9 4.9 0 1 0 9.8 0a4.9 4.9 0 1 0 -9.8 0M1250.7 1211a4.9 4.9 0 1 0 9.8 0a4.9 4.9 0 1 0 -9.8 0M1197 1217.7a4.9 4.9 0 1 0 9.8 0a4.9 4.9 0 1 0 -9.8 0M1246.1 1211.4a4.9 4.9 0 1 0 9.8 0a4.9 4.9 0 1 0 -9.8 0M1220.1 1225.6a4.9 4.9 0 1 0 9.8 0a4.9 4.9 0 1 0 -9.8 0M1246.1 1225a4.9 4.9 0 1 0 9.8 0a4.9 4.9 0 1 0 -9.8 0M1258.1 1231a4.9 4.9 0 1 0 9.8 0a4.9 4.9 0 1 0 -9.8 0M1303.1 1231a4.9 4.9 0 1 0 9.8 0a4.9 4.9 0 1 0 -9.8 0" fill="none" stroke="#ee3a3d" stroke-width="1.2"/>
<path d="M1258.2 743.5L1251.6 746.9L1258.2 751.8L1261.1 756.7L1260.5 761.6L1256.2 766.5L1257.1 771.4L1253.9 776.2L1256.8 781.1L1252.4 786L1258.5 790.9L1256.8 795.8L1252.1 800.7L1252.2 805.6L1255.3 810.5L1250.4 815.4L1254.6 820.2L1252.6 825.1L1248.6 830L1237 834.9L1233.3 839.8L1234.2 844.7L1227.7 849.6L1219.9 854.5L1211.6 859.3L1203.9 864.2L1197.1 869.1L1190 874L1181.6 878.9L1176.4 883.8L1169.1 888.7L1163.1 893.6L1155.1 898.4L1148.3 903.3L1140.3 908.2L1129.3 913.1L1121.9 918L1108.6 922.9L1097.6 927.8L1084.9 932.7L1067.4 937.6L1047.7 942.4L1019.2 947.3L985.3 952.2L935.1 957.1L886.1 962L829.1 966.9L783.8 971.8L782.2 976.7L780.3 981.5L782.7 986.4L781.4 991.3L779.9 996.2L782.1 1001.1L779 1006L781.2 1010.9L781.8 1015.8L778.8 1020.6L798.3 1025.5L877.4 1030.4L912.8 1035.3L955.5 1040.2L1023.9 1045.1L1081.1 1050L1114.2 1054.9L1140.1 1059.8L1164.7 1064.6L1186.4 1069.5L1206.3 1074.4L1218.3 1079.3L1228.5 1084.2L1233.6 1089.1L1237.9 1094L1239.6 1098.9L1248.6 1103.7L1248.6 1108.6L1252.2 1113.5L1258.8 1118.4L1249.9 1123.3L1255 1128.2L1258.1 1133.1L1251.5 1138L1259.1 1142.8L1254.6 1147.7L1254.2 1152.6L1253.4 1157.5L1263.2 1162.4L1252.3 1167.3L1261 1172.2L1259.2 1177.1L1261.1 1182L1258.3 1186.8L1253.8 1191.7L1256.2 1196.6L1260.6 1201.5L1250.2 1206.4L1259.7 1211.3L1255.6 1211L1216.1 1214.4L1210.8 1218.5L1321 1223.3L1195.4 1231" fill="none" stroke="#1a66dd" stroke-width="4.3" stroke-linejoin="round" stroke-linecap="round"/>
<path d="M1258.2 736.9l6.1 10.2h-12.2zM1251.6 740.3l6.1 10.2h-12.2zM1258.2 745.2l6.1 10.2h-12.2zM1261.1 750.1l6.1 10.2h-12.2zM1260.5 755l6.1 10.2h-12.2zM1256.2 759.9l6.1 10.2h-12.2zM1257.1 764.8l6.1 10.2h-12.2zM1253.9 769.6l6.1 10.2h-12.2zM1256.8 774.5l6.1 10.2h-12.2zM1252.4 779.4l6.1 10.2h-12.2zM1258.5 784.3l6.1 10.2h-12.2zM1256.8 789.2l6.1 10.2h-12.2zM1252.1 794.1l6.1 10.2h-12.2zM1252.2 799l6.1 10.2h-12.2zM1255.3 803.9l6.1 10.2h-12.2zM1250.4 808.8l6.1 10.2h-12.2zM1254.6 813.6l6.1 10.2h-12.2zM1252.6 818.5l6.1 10.2h-12.2zM1248.6 823.4l6.1 10.2h-12.2zM1237 828.3l6.1 10.2h-12.2zM1233.3 833.2l6.1 10.2h-12.2zM1234.2 838.1l6.1 10.2h-12.2zM1227.7 843l6.1 10.2h-12.2zM1219.9 847.9l6.1 10.2h-12.2zM1211.6 852.7l6.1 10.2h-12.2zM1203.9 857.6l6.1 10.2h-12.2zM1197.1 862.5l6.1 10.2h-12.2zM1190 867.4l6.1 10.2h-12.2zM1181.6 872.3l6.1 10.2h-12.2zM1176.4 877.2l6.1 10.2h-12.2zM1169.1 882.1l6.1 10.2h-12.2zM1163.1 887l6.1 10.2h-12.2zM1155.1 891.8l6.1 10.2h-12.2zM1148.3 896.7l6.1 10.2h-12.2zM1140.3 901.6l6.1 10.2h-12.2zM1129.3 906.5l6.1 10.2h-12.2zM1121.9 911.4l6.1 10.2h-12.2zM1108.6 916.3l6.1 10.2h-12.2zM1097.6 921.2l6.1 10.2h-12.2zM1084.9 926.1l6.1 10.2h-12.2zM1067.4 931l6.1 10.2h-12.2zM1047.7 935.8l6.1 10.2h-12.2zM1019.2 940.7l6.1 10.2h-12.2zM985.3 945.6l6.1 10.2h-12.2zM935.1 950.5l6.1 10.2h-12.2zM886.1 955.4l6.1 10.2h-12.2zM829.1 960.3l6.1 10.2h-12.2zM783.8 965.2l6.1 10.2h-12.2zM782.2 970.1l6.1 10.2h-12.2zM780.3 974.9l6.1 10.2h-12.2zM782.7 979.8l6.1 10.2h-12.2zM781.4 984.7l6.1 10.2h-12.2zM779.9 989.6l6.1 10.2h-12.2zM782.1 994.5l6.1 10.2h-12.2zM779 999.4l6.1 10.2h-12.2zM781.2 1004.3l6.1 10.2h-12.2zM781.8 1009.2l6.1 10.2h-12.2zM778.8 1014l6.1 10.2h-12.2zM798.3 1018.9l6.1 10.2h-12.2zM877.4 1023.8l6.1 10.2h-12.2zM912.8 1028.7l6.1 10.2h-12.2zM955.5 1033.6l6.1 10.2h-12.2zM1023.9 1038.5l6.1 10.2h-12.2zM1081.1 1043.4l6.1 10.2h-12.2zM1114.2 1048.3l6.1 10.2h-12.2zM1140.1 1053.2l6.1 10.2h-12.2zM1164.7 1058l6.1 10.2h-12.2zM1186.4 1062.9l6.1 10.2h-12.2zM1206.3 1067.8l6.1 10.2h-12.2zM1218.3 1072.7l6.1 10.2h-12.2zM1228.5 1077.6l6.1 10.2h-12.2zM1233.6 1082.5l6.1 10.2h-12.2zM1237.9 1087.4l6.1 10.2h-12.2zM1239.6 1092.3l6.1 10.2h-12.2zM1248.6 1097.1l6.1 10.2h-12.2zM1248.6 1102l6.1 10.2h-12.2zM1252.2 1106.9l6.1 10.2h-12.2zM1258.8 1111.8l6.1 10.2h-12.2zM1249.9 1116.7l6.1 10.2h-12.2zM1255 1121.6l6.1 10.2h-12.2zM1258.1 1126.5l6.1 10.2h-12.2zM1251.5 1131.4l6.1 10.2h-12.2zM1259.1 1136.2l6.1 10.2h-12.2zM1254.6 1141.1l6.1 10.2h-12.2zM1254.2 1146l6.1 10.2h-12.2zM1253.4 1150.9l6.1 10.2h-12.2zM1263.2 1155.8l6.1 10.2h-12.2zM1252.3 1160.7l6.1 10.2h-12.2zM1261 1165.6l6.1 10.2h-12.2zM1259.2 1170.5l6.1 10.2h-12.2zM1261.1 1175.4l6.1 10.2h-12.2zM1258.3 1180.2l6.1 10.2h-12.2zM1253.8 1185.1l6.1 10.2h-12.2zM1256.2 1190l6.1 10.2h-12.2zM1260.6 1194.9l6.1 10.2h-12.2zM1250.2 1199.8l6.1 10.2h-12.2zM1259.7 1204.7l6.1 10.2h-12.2zM1255.6 1204.4l6.1 10.2h-12.2zM1216.1 1207.8l6.1 10.2h-12.2zM1210.8 1211.9l6.1 10.2h-12.2zM1321 1216.7l6.1 10.2h-12.2zM1195.4 1224.4l6.1 10.2h-12.2z" fill="none" stroke="#1a66dd" stroke-width="1.2"/>
<rect x="736.4" y="743.5" width="591.8000000000001" height="488.70000000000005" fill="none" stroke="#000" stroke-width="2"/>
<text transform="translate(751.34 1270.03) scale(0.935 1)" font-family="Liberation Sans, sans-serif" font-size="36.8" fill="#000">-1.0</text>
<text transform="translate(842.51 1270.03) scale(0.935 1)" font-family="Liberation Sans, sans-serif" font-size="36.8" fill="#000">-0.8</text>
<text transform="translate(933.51 1270.03) scale(0.935 1)" font-family="Liberation Sans, sans-serif" font-size="36.8" fill="#000">-0.6</text>
<text transform="translate(1024.17 1270.03) scale(0.935 1)" font-family="Liberation Sans, sans-serif" font-size="36.8" fill="#000">-0.4</text>
<text transform="translate(1115.68 1270.03) scale(0.935 1)" font-family="Liberation Sans, sans-serif" font-size="36.8" fill="#000">-0.2</text>
<text transform="translate(1213.09 1270.03) scale(0.935 1)" font-family="Liberation Sans, sans-serif" font-size="36.8" fill="#000">0.0</text>
<text transform="translate(1304.26 1270.03) scale(0.935 1)" font-family="Liberation Sans, sans-serif" font-size="36.8" fill="#000">0.2</text>
<text transform="translate(679.95 754.63) scale(0.935 1)" font-family="Liberation Sans, sans-serif" font-size="36.8" fill="#000">1.0</text>
<text transform="translate(679.95 876.83) scale(0.935 1)" font-family="Liberation Sans, sans-serif" font-size="36.8" fill="#000">0.5</text>
<text transform="translate(679.95 999.03) scale(0.935 1)" font-family="Liberation Sans, sans-serif" font-size="36.8" fill="#000">0.0</text>
<text transform="translate(668.59 1121.23) scale(0.935 1)" font-family="Liberation Sans, sans-serif" font-size="36.8" fill="#000">-0.5</text>
<text transform="translate(668.25 1243.43) scale(0.935 1)" font-family="Liberation Sans, sans-serif" font-size="36.8" fill="#000">-1.0</text>
<text transform="translate(896.41 1133.56) scale(0.922 1)" font-family="Liberation Sans, sans-serif" font-size="33.8" fill="#000">13.6 nm</text>
<text transform="translate(896.4 1173.56) scale(0.925 1)" font-family="Liberation Sans, sans-serif" font-size="33.8" fill="#000">18.0 nm</text>
<text transform="translate(896.84 1214) scale(0.925 1)" font-family="Liberation Sans, sans-serif" font-size="33.8" fill="#000">22.4 nm</text>
<text transform="translate(869.9 1086.6) scale(1 1)" font-family="Liberation Sans, sans-serif" font-size="33.48" font-style="italic" fill="#000">L</text>
<text transform="translate(888.11 1095.8) scale(0.816 1)" font-family="Liberation Sans, sans-serif" font-size="24.72" font-style="italic" fill="#000">x</text>
<line x1="816.2" y1="1122.2" x2="887.5" y2="1122.2" stroke="#4a4a4a" stroke-width="4.3" stroke-linecap="round"/>
<path d="M847.2 1117.5h9.4v9.4h-9.4z" fill="none" stroke="#4a4a4a" stroke-width="1.2"/>
<line x1="816.2" y1="1162.2" x2="887.5" y2="1162.2" stroke="#ee3a3d" stroke-width="4.3" stroke-linecap="round"/>
<path d="M847 1162.2a4.9 4.9 0 1 0 9.8 0a4.9 4.9 0 1 0 -9.8 0" fill="none" stroke="#ee3a3d" stroke-width="1.2"/>
<line x1="816.2" y1="1202.2" x2="887.5" y2="1202.2" stroke="#1a66dd" stroke-width="4.3" stroke-linecap="round"/>
<path d="M851.9 1195.6l6.1 10.2h-12.2z" fill="none" stroke="#1a66dd" stroke-width="1.2"/>
<text transform="translate(654.64 1010.92) rotate(-90) scale(1.015 1)" font-family="Liberation Sans, sans-serif" font-size="44.57" fill="#000">(eV)</text>
<text transform="translate(655.86 1048.39) rotate(-90) scale(1.238 1)" font-family="Liberation Sans, sans-serif" font-size="40.68" font-style="italic" fill="#000">μ</text>
<text transform="translate(954.04 1325.28) scale(1.115 1)" font-family="Liberation Sans, sans-serif" font-size="31.85" font-style="italic" fill="#000">σ</text>
<text transform="translate(973.82 1309.6) scale(1.014 1)" font-family="Liberation Sans, sans-serif" font-size="25.65" font-style="italic" fill="#000">M</text>
<text transform="translate(995.38 1317.3) scale(0.821 1)" font-family="Liberation Sans, sans-serif" font-size="17.74" font-style="italic" fill="#000">x</text>
<text transform="translate(974.28 1334.36) scale(0.801 1)" font-family="Liberation Sans, sans-serif" font-size="28.78" font-style="italic" fill="#000">yz</text>
<text transform="translate(1012.74 1325.5) scale(0.972 1)" font-family="Liberation Sans, sans-serif" font-size="37.13" fill="#000">(e</text>
<text transform="translate(1044.47 1310.8) scale(0.935 1)" font-family="Liberation Sans, sans-serif" font-size="26.29" fill="#000">2</text>
<text transform="translate(1058.2 1325.5) scale(0.992 1)" font-family="Liberation Sans, sans-serif" font-size="37.13" fill="#000">/h)</text>
</svg></body></html>
